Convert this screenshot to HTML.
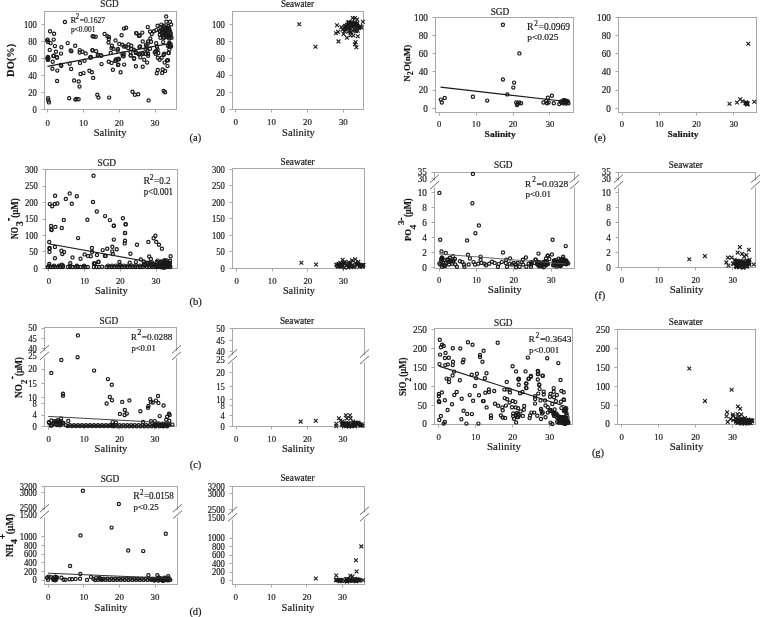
<!DOCTYPE html>
<html><head><meta charset="utf-8"><style>
html,body{margin:0;padding:0;background:#fff;}
svg{display:block;font-family:"Liberation Serif",serif;will-change:transform;}
text{stroke:#222;stroke-width:0.18px;}
</style></head><body>
<svg width="760" height="617" viewBox="0 0 760 617">
<rect width="760" height="617" fill="#fff"/>
<rect x="44.50" y="11.50" width="132.00" height="98.00" fill="none" stroke="#a8a8a8" stroke-width="1"/>
<line x1="41.50" y1="109.50" x2="44.50" y2="109.50" stroke="#a8a8a8" stroke-width="1"/>
<text transform="translate(36.90,112.81) scale(0.9,1)" font-size="9.6" text-anchor="end" fill="#111">0</text>
<line x1="41.50" y1="92.50" x2="44.50" y2="92.50" stroke="#a8a8a8" stroke-width="1"/>
<text transform="translate(36.90,95.81) scale(0.9,1)" font-size="9.6" text-anchor="end" fill="#111">20</text>
<line x1="41.50" y1="75.50" x2="44.50" y2="75.50" stroke="#a8a8a8" stroke-width="1"/>
<text transform="translate(36.90,78.81) scale(0.9,1)" font-size="9.6" text-anchor="end" fill="#111">40</text>
<line x1="41.50" y1="58.50" x2="44.50" y2="58.50" stroke="#a8a8a8" stroke-width="1"/>
<text transform="translate(36.90,61.71) scale(0.9,1)" font-size="9.6" text-anchor="end" fill="#111">60</text>
<line x1="41.50" y1="41.50" x2="44.50" y2="41.50" stroke="#a8a8a8" stroke-width="1"/>
<text transform="translate(36.90,44.71) scale(0.9,1)" font-size="9.6" text-anchor="end" fill="#111">80</text>
<line x1="41.50" y1="24.50" x2="44.50" y2="24.50" stroke="#a8a8a8" stroke-width="1"/>
<text transform="translate(36.90,27.71) scale(0.9,1)" font-size="9.6" text-anchor="end" fill="#111">100</text>
<line x1="47.50" y1="109.50" x2="47.50" y2="112.50" stroke="#a8a8a8" stroke-width="1"/>
<text transform="translate(47.60,125.50) scale(0.98,1)" font-size="9.0" text-anchor="middle" fill="#111">0</text>
<line x1="83.50" y1="109.50" x2="83.50" y2="112.50" stroke="#a8a8a8" stroke-width="1"/>
<text transform="translate(83.40,125.50) scale(0.98,1)" font-size="9.0" text-anchor="middle" fill="#111">10</text>
<line x1="119.50" y1="109.50" x2="119.50" y2="112.50" stroke="#a8a8a8" stroke-width="1"/>
<text transform="translate(119.20,125.50) scale(0.98,1)" font-size="9.0" text-anchor="middle" fill="#111">20</text>
<line x1="155.50" y1="109.50" x2="155.50" y2="112.50" stroke="#a8a8a8" stroke-width="1"/>
<text transform="translate(155.00,125.50) scale(0.98,1)" font-size="9.0" text-anchor="middle" fill="#111">30</text>
<text x="109.50" y="6.50" font-size="9.3" text-anchor="middle" textLength="18.4" lengthAdjust="spacingAndGlyphs" fill="#111">SGD</text>
<text x="110.10" y="135.80" font-size="11.0" text-anchor="middle" textLength="32.8" lengthAdjust="spacingAndGlyphs" fill="#111">Salinity</text>
<rect x="232.50" y="11.50" width="131.00" height="98.00" fill="none" stroke="#a8a8a8" stroke-width="1"/>
<line x1="229.50" y1="109.50" x2="232.50" y2="109.50" stroke="#a8a8a8" stroke-width="1"/>
<text transform="translate(224.90,112.61) scale(0.9,1)" font-size="9.6" text-anchor="end" fill="#111">0</text>
<line x1="229.50" y1="92.50" x2="232.50" y2="92.50" stroke="#a8a8a8" stroke-width="1"/>
<text transform="translate(224.90,95.51) scale(0.9,1)" font-size="9.6" text-anchor="end" fill="#111">20</text>
<line x1="229.50" y1="75.50" x2="232.50" y2="75.50" stroke="#a8a8a8" stroke-width="1"/>
<text transform="translate(224.90,78.41) scale(0.9,1)" font-size="9.6" text-anchor="end" fill="#111">40</text>
<line x1="229.50" y1="58.50" x2="232.50" y2="58.50" stroke="#a8a8a8" stroke-width="1"/>
<text transform="translate(224.90,61.51) scale(0.9,1)" font-size="9.6" text-anchor="end" fill="#111">60</text>
<line x1="229.50" y1="41.50" x2="232.50" y2="41.50" stroke="#a8a8a8" stroke-width="1"/>
<text transform="translate(224.90,44.61) scale(0.9,1)" font-size="9.6" text-anchor="end" fill="#111">80</text>
<line x1="229.50" y1="24.50" x2="232.50" y2="24.50" stroke="#a8a8a8" stroke-width="1"/>
<text transform="translate(224.90,27.61) scale(0.9,1)" font-size="9.6" text-anchor="end" fill="#111">100</text>
<line x1="235.50" y1="109.50" x2="235.50" y2="112.50" stroke="#a8a8a8" stroke-width="1"/>
<text transform="translate(235.60,125.40) scale(0.98,1)" font-size="9.0" text-anchor="middle" fill="#111">0</text>
<line x1="271.50" y1="109.50" x2="271.50" y2="112.50" stroke="#a8a8a8" stroke-width="1"/>
<text transform="translate(271.50,125.40) scale(0.98,1)" font-size="9.0" text-anchor="middle" fill="#111">10</text>
<line x1="307.50" y1="109.50" x2="307.50" y2="112.50" stroke="#a8a8a8" stroke-width="1"/>
<text transform="translate(307.40,125.40) scale(0.98,1)" font-size="9.0" text-anchor="middle" fill="#111">20</text>
<line x1="343.50" y1="109.50" x2="343.50" y2="112.50" stroke="#a8a8a8" stroke-width="1"/>
<text transform="translate(343.30,125.40) scale(0.98,1)" font-size="9.0" text-anchor="middle" fill="#111">30</text>
<text x="297.50" y="6.80" font-size="9.3" text-anchor="middle" textLength="33.2" lengthAdjust="spacingAndGlyphs" fill="#111">Seawater</text>
<text x="298.50" y="135.70" font-size="11.0" text-anchor="middle" textLength="32.8" lengthAdjust="spacingAndGlyphs" fill="#111">Salinity</text>
<rect x="45.50" y="169.50" width="132.00" height="99.00" fill="none" stroke="#a8a8a8" stroke-width="1"/>
<line x1="42.50" y1="169.50" x2="45.50" y2="169.50" stroke="#a8a8a8" stroke-width="1"/>
<text transform="translate(37.90,172.81) scale(0.9,1)" font-size="9.6" text-anchor="end" fill="#111">300</text>
<line x1="42.50" y1="186.50" x2="45.50" y2="186.50" stroke="#a8a8a8" stroke-width="1"/>
<text transform="translate(37.90,189.31) scale(0.9,1)" font-size="9.6" text-anchor="end" fill="#111">250</text>
<line x1="42.50" y1="202.50" x2="45.50" y2="202.50" stroke="#a8a8a8" stroke-width="1"/>
<text transform="translate(37.90,205.81) scale(0.9,1)" font-size="9.6" text-anchor="end" fill="#111">200</text>
<line x1="42.50" y1="219.50" x2="45.50" y2="219.50" stroke="#a8a8a8" stroke-width="1"/>
<text transform="translate(37.90,222.31) scale(0.9,1)" font-size="9.6" text-anchor="end" fill="#111">150</text>
<line x1="42.50" y1="235.50" x2="45.50" y2="235.50" stroke="#a8a8a8" stroke-width="1"/>
<text transform="translate(37.90,238.71) scale(0.9,1)" font-size="9.6" text-anchor="end" fill="#111">100</text>
<line x1="42.50" y1="251.50" x2="45.50" y2="251.50" stroke="#a8a8a8" stroke-width="1"/>
<text transform="translate(37.90,255.21) scale(0.9,1)" font-size="9.6" text-anchor="end" fill="#111">50</text>
<line x1="42.50" y1="268.50" x2="45.50" y2="268.50" stroke="#a8a8a8" stroke-width="1"/>
<text transform="translate(37.90,271.71) scale(0.9,1)" font-size="9.6" text-anchor="end" fill="#111">0</text>
<line x1="48.50" y1="268.50" x2="48.50" y2="271.50" stroke="#a8a8a8" stroke-width="1"/>
<text transform="translate(48.90,283.70) scale(0.98,1)" font-size="9.0" text-anchor="middle" fill="#111">0</text>
<line x1="84.50" y1="268.50" x2="84.50" y2="271.50" stroke="#a8a8a8" stroke-width="1"/>
<text transform="translate(84.60,283.70) scale(0.98,1)" font-size="9.0" text-anchor="middle" fill="#111">10</text>
<line x1="120.50" y1="268.50" x2="120.50" y2="271.50" stroke="#a8a8a8" stroke-width="1"/>
<text transform="translate(120.30,283.70) scale(0.98,1)" font-size="9.0" text-anchor="middle" fill="#111">20</text>
<line x1="156.50" y1="268.50" x2="156.50" y2="271.50" stroke="#a8a8a8" stroke-width="1"/>
<text transform="translate(156.00,283.70) scale(0.98,1)" font-size="9.0" text-anchor="middle" fill="#111">30</text>
<text x="106.80" y="165.60" font-size="9.3" text-anchor="middle" fill="#111">SGD</text>
<text x="111.40" y="293.50" font-size="10.6" text-anchor="middle" textLength="32.8" lengthAdjust="spacingAndGlyphs" fill="#111">Salinity</text>
<rect x="232.50" y="168.50" width="132.00" height="100.00" fill="none" stroke="#a8a8a8" stroke-width="1"/>
<line x1="229.50" y1="169.50" x2="232.50" y2="169.50" stroke="#a8a8a8" stroke-width="1"/>
<text transform="translate(224.90,172.61) scale(0.9,1)" font-size="9.6" text-anchor="end" fill="#111">300</text>
<line x1="229.50" y1="185.50" x2="232.50" y2="185.50" stroke="#a8a8a8" stroke-width="1"/>
<text transform="translate(224.90,189.11) scale(0.9,1)" font-size="9.6" text-anchor="end" fill="#111">250</text>
<line x1="229.50" y1="202.50" x2="232.50" y2="202.50" stroke="#a8a8a8" stroke-width="1"/>
<text transform="translate(224.90,205.61) scale(0.9,1)" font-size="9.6" text-anchor="end" fill="#111">200</text>
<line x1="229.50" y1="218.50" x2="232.50" y2="218.50" stroke="#a8a8a8" stroke-width="1"/>
<text transform="translate(224.90,222.11) scale(0.9,1)" font-size="9.6" text-anchor="end" fill="#111">150</text>
<line x1="229.50" y1="235.50" x2="232.50" y2="235.50" stroke="#a8a8a8" stroke-width="1"/>
<text transform="translate(224.90,238.51) scale(0.9,1)" font-size="9.6" text-anchor="end" fill="#111">100</text>
<line x1="229.50" y1="251.50" x2="232.50" y2="251.50" stroke="#a8a8a8" stroke-width="1"/>
<text transform="translate(224.90,255.01) scale(0.9,1)" font-size="9.6" text-anchor="end" fill="#111">50</text>
<line x1="229.50" y1="268.50" x2="232.50" y2="268.50" stroke="#a8a8a8" stroke-width="1"/>
<text transform="translate(224.90,271.51) scale(0.9,1)" font-size="9.6" text-anchor="end" fill="#111">0</text>
<line x1="236.50" y1="268.50" x2="236.50" y2="271.50" stroke="#a8a8a8" stroke-width="1"/>
<text transform="translate(236.70,283.60) scale(0.98,1)" font-size="9.0" text-anchor="middle" fill="#111">0</text>
<line x1="272.50" y1="268.50" x2="272.50" y2="271.50" stroke="#a8a8a8" stroke-width="1"/>
<text transform="translate(272.27,283.60) scale(0.98,1)" font-size="9.0" text-anchor="middle" fill="#111">10</text>
<line x1="307.50" y1="268.50" x2="307.50" y2="271.50" stroke="#a8a8a8" stroke-width="1"/>
<text transform="translate(307.84,283.60) scale(0.98,1)" font-size="9.0" text-anchor="middle" fill="#111">20</text>
<line x1="343.50" y1="268.50" x2="343.50" y2="271.50" stroke="#a8a8a8" stroke-width="1"/>
<text transform="translate(343.41,283.60) scale(0.98,1)" font-size="9.0" text-anchor="middle" fill="#111">30</text>
<text x="297.60" y="164.80" font-size="9.3" text-anchor="middle" fill="#111">Seawater</text>
<text x="298.90" y="293.70" font-size="10.6" text-anchor="middle" textLength="32.0" lengthAdjust="spacingAndGlyphs" fill="#111">Salinity</text>
<rect x="44.50" y="327.50" width="132.00" height="99.00" fill="none" stroke="#a8a8a8" stroke-width="1"/>
<line x1="41.50" y1="328.50" x2="44.50" y2="328.50" stroke="#a8a8a8" stroke-width="1"/>
<text transform="translate(36.90,331.41) scale(0.9,1)" font-size="9.6" text-anchor="end" fill="#111">50</text>
<line x1="41.50" y1="338.50" x2="44.50" y2="338.50" stroke="#a8a8a8" stroke-width="1"/>
<text transform="translate(36.90,341.81) scale(0.9,1)" font-size="9.6" text-anchor="end" fill="#111">45</text>
<line x1="41.50" y1="348.50" x2="44.50" y2="348.50" stroke="#a8a8a8" stroke-width="1"/>
<text transform="translate(36.90,351.91) scale(0.9,1)" font-size="9.6" text-anchor="end" fill="#111">40</text>
<line x1="41.50" y1="355.50" x2="44.50" y2="355.50" stroke="#a8a8a8" stroke-width="1"/>
<text transform="translate(36.90,358.91) scale(0.9,1)" font-size="9.6" text-anchor="end" fill="#111">25</text>
<line x1="41.50" y1="369.50" x2="44.50" y2="369.50" stroke="#a8a8a8" stroke-width="1"/>
<text transform="translate(36.90,372.41) scale(0.9,1)" font-size="9.6" text-anchor="end" fill="#111">20</text>
<line x1="41.50" y1="383.50" x2="44.50" y2="383.50" stroke="#a8a8a8" stroke-width="1"/>
<text transform="translate(36.90,387.21) scale(0.9,1)" font-size="9.6" text-anchor="end" fill="#111">15</text>
<line x1="41.50" y1="397.50" x2="44.50" y2="397.50" stroke="#a8a8a8" stroke-width="1"/>
<text transform="translate(36.90,400.91) scale(0.9,1)" font-size="9.6" text-anchor="end" fill="#111">10</text>
<line x1="41.50" y1="403.50" x2="44.50" y2="403.50" stroke="#a8a8a8" stroke-width="1"/>
<text transform="translate(36.90,406.61) scale(0.9,1)" font-size="9.6" text-anchor="end" fill="#111">8</text>
<line x1="41.50" y1="415.50" x2="44.50" y2="415.50" stroke="#a8a8a8" stroke-width="1"/>
<text transform="translate(36.90,418.31) scale(0.9,1)" font-size="9.6" text-anchor="end" fill="#111">4</text>
<line x1="41.50" y1="426.50" x2="44.50" y2="426.50" stroke="#a8a8a8" stroke-width="1"/>
<text transform="translate(36.90,429.91) scale(0.9,1)" font-size="9.6" text-anchor="end" fill="#111">0</text>
<line x1="48.50" y1="426.50" x2="48.50" y2="429.50" stroke="#a8a8a8" stroke-width="1"/>
<text transform="translate(48.70,442.00) scale(0.98,1)" font-size="9.0" text-anchor="middle" fill="#111">0</text>
<line x1="84.50" y1="426.50" x2="84.50" y2="429.50" stroke="#a8a8a8" stroke-width="1"/>
<text transform="translate(84.13,442.00) scale(0.98,1)" font-size="9.0" text-anchor="middle" fill="#111">10</text>
<line x1="119.50" y1="426.50" x2="119.50" y2="429.50" stroke="#a8a8a8" stroke-width="1"/>
<text transform="translate(119.56,442.00) scale(0.98,1)" font-size="9.0" text-anchor="middle" fill="#111">20</text>
<line x1="154.50" y1="426.50" x2="154.50" y2="429.50" stroke="#a8a8a8" stroke-width="1"/>
<text transform="translate(154.99,442.00) scale(0.98,1)" font-size="9.0" text-anchor="middle" fill="#111">30</text>
<polygon points="40.5,354.8 48.5,347.3 48.5,354.3 40.5,361.8" fill="#fff"/>
<line x1="40.00" y1="353.30" x2="49.00" y2="345.30" stroke="#444" stroke-width="0.8"/>
<line x1="40.00" y1="359.80" x2="49.00" y2="351.80" stroke="#444" stroke-width="0.8"/>
<polygon points="172.5,354.8 180.5,347.3 180.5,354.3 172.5,361.8" fill="#fff"/>
<line x1="172.00" y1="353.30" x2="181.00" y2="345.30" stroke="#444" stroke-width="0.8"/>
<line x1="172.00" y1="359.80" x2="181.00" y2="351.80" stroke="#444" stroke-width="0.8"/>
<text x="108.90" y="324.00" font-size="9.3" text-anchor="middle" fill="#111">SGD</text>
<text x="111.00" y="452.10" font-size="10.6" text-anchor="middle" textLength="32.8" lengthAdjust="spacingAndGlyphs" fill="#111">Salinity</text>
<rect x="232.50" y="328.50" width="132.00" height="98.00" fill="none" stroke="#a8a8a8" stroke-width="1"/>
<line x1="229.50" y1="328.50" x2="232.50" y2="328.50" stroke="#a8a8a8" stroke-width="1"/>
<text transform="translate(224.90,332.01) scale(0.9,1)" font-size="9.6" text-anchor="end" fill="#111">50</text>
<line x1="229.50" y1="340.50" x2="232.50" y2="340.50" stroke="#a8a8a8" stroke-width="1"/>
<text transform="translate(224.90,343.61) scale(0.9,1)" font-size="9.6" text-anchor="end" fill="#111">45</text>
<line x1="229.50" y1="351.50" x2="232.50" y2="351.50" stroke="#a8a8a8" stroke-width="1"/>
<text transform="translate(224.90,354.81) scale(0.9,1)" font-size="9.6" text-anchor="end" fill="#111">40</text>
<line x1="229.50" y1="359.50" x2="232.50" y2="359.50" stroke="#a8a8a8" stroke-width="1"/>
<text transform="translate(224.90,362.51) scale(0.9,1)" font-size="9.6" text-anchor="end" fill="#111">25</text>
<line x1="229.50" y1="372.50" x2="232.50" y2="372.50" stroke="#a8a8a8" stroke-width="1"/>
<text transform="translate(224.90,375.81) scale(0.9,1)" font-size="9.6" text-anchor="end" fill="#111">20</text>
<line x1="229.50" y1="386.50" x2="232.50" y2="386.50" stroke="#a8a8a8" stroke-width="1"/>
<text transform="translate(224.90,389.81) scale(0.9,1)" font-size="9.6" text-anchor="end" fill="#111">15</text>
<line x1="229.50" y1="399.50" x2="232.50" y2="399.50" stroke="#a8a8a8" stroke-width="1"/>
<text transform="translate(224.90,402.71) scale(0.9,1)" font-size="9.6" text-anchor="end" fill="#111">10</text>
<line x1="229.50" y1="405.50" x2="232.50" y2="405.50" stroke="#a8a8a8" stroke-width="1"/>
<text transform="translate(224.90,408.71) scale(0.9,1)" font-size="9.6" text-anchor="end" fill="#111">8</text>
<line x1="229.50" y1="415.50" x2="232.50" y2="415.50" stroke="#a8a8a8" stroke-width="1"/>
<text transform="translate(224.90,419.11) scale(0.9,1)" font-size="9.6" text-anchor="end" fill="#111">4</text>
<line x1="229.50" y1="426.50" x2="232.50" y2="426.50" stroke="#a8a8a8" stroke-width="1"/>
<text transform="translate(224.90,430.21) scale(0.9,1)" font-size="9.6" text-anchor="end" fill="#111">0</text>
<line x1="236.50" y1="426.50" x2="236.50" y2="429.50" stroke="#a8a8a8" stroke-width="1"/>
<text transform="translate(236.10,442.00) scale(0.98,1)" font-size="9.0" text-anchor="middle" fill="#111">0</text>
<line x1="271.50" y1="426.50" x2="271.50" y2="429.50" stroke="#a8a8a8" stroke-width="1"/>
<text transform="translate(271.70,442.00) scale(0.98,1)" font-size="9.0" text-anchor="middle" fill="#111">10</text>
<line x1="307.50" y1="426.50" x2="307.50" y2="429.50" stroke="#a8a8a8" stroke-width="1"/>
<text transform="translate(307.30,442.00) scale(0.98,1)" font-size="9.0" text-anchor="middle" fill="#111">20</text>
<line x1="342.50" y1="426.50" x2="342.50" y2="429.50" stroke="#a8a8a8" stroke-width="1"/>
<text transform="translate(342.90,442.00) scale(0.98,1)" font-size="9.0" text-anchor="middle" fill="#111">30</text>
<polygon points="228.5,359 236.5,351.5 236.5,358.5 228.5,366" fill="#fff"/>
<line x1="228.00" y1="357.50" x2="237.00" y2="349.50" stroke="#444" stroke-width="0.8"/>
<line x1="228.00" y1="364.00" x2="237.00" y2="356.00" stroke="#444" stroke-width="0.8"/>
<polygon points="360.5,359 368.5,351.5 368.5,358.5 360.5,366" fill="#fff"/>
<line x1="360.00" y1="357.50" x2="369.00" y2="349.50" stroke="#444" stroke-width="0.8"/>
<line x1="360.00" y1="364.00" x2="369.00" y2="356.00" stroke="#444" stroke-width="0.8"/>
<text x="297.00" y="324.00" font-size="9.3" text-anchor="middle" fill="#111">Seawater</text>
<text x="298.30" y="452.10" font-size="10.6" text-anchor="middle" textLength="32.8" lengthAdjust="spacingAndGlyphs" fill="#111">Salinity</text>
<rect x="44.50" y="486.50" width="133.00" height="98.00" fill="none" stroke="#a8a8a8" stroke-width="1"/>
<line x1="41.50" y1="486.50" x2="44.50" y2="486.50" stroke="#a8a8a8" stroke-width="1"/>
<text transform="translate(36.90,489.56) scale(0.9,1)" font-size="9.6" text-anchor="end" fill="#111">3200</text>
<line x1="41.50" y1="492.50" x2="44.50" y2="492.50" stroke="#a8a8a8" stroke-width="1"/>
<text transform="translate(36.90,495.81) scale(0.9,1)" font-size="9.6" text-anchor="end" fill="#111">3000</text>
<line x1="41.50" y1="508.50" x2="44.50" y2="508.50" stroke="#a8a8a8" stroke-width="1"/>
<text transform="translate(36.90,511.31) scale(0.9,1)" font-size="9.6" text-anchor="end" fill="#111">2500</text>
<line x1="41.50" y1="515.50" x2="44.50" y2="515.50" stroke="#a8a8a8" stroke-width="1"/>
<text transform="translate(36.90,518.31) scale(0.9,1)" font-size="9.6" text-anchor="end" fill="#111">1500</text>
<line x1="41.50" y1="536.50" x2="44.50" y2="536.50" stroke="#a8a8a8" stroke-width="1"/>
<text transform="translate(36.90,540.06) scale(0.9,1)" font-size="9.6" text-anchor="end" fill="#111">1000</text>
<line x1="41.50" y1="545.50" x2="44.50" y2="545.50" stroke="#a8a8a8" stroke-width="1"/>
<text transform="translate(36.90,548.81) scale(0.9,1)" font-size="9.6" text-anchor="end" fill="#111">800</text>
<line x1="41.50" y1="554.50" x2="44.50" y2="554.50" stroke="#a8a8a8" stroke-width="1"/>
<text transform="translate(36.90,557.31) scale(0.9,1)" font-size="9.6" text-anchor="end" fill="#111">600</text>
<line x1="41.50" y1="562.50" x2="44.50" y2="562.50" stroke="#a8a8a8" stroke-width="1"/>
<text transform="translate(36.90,566.06) scale(0.9,1)" font-size="9.6" text-anchor="end" fill="#111">400</text>
<line x1="41.50" y1="571.50" x2="44.50" y2="571.50" stroke="#a8a8a8" stroke-width="1"/>
<text transform="translate(36.90,574.56) scale(0.9,1)" font-size="9.6" text-anchor="end" fill="#111">200</text>
<line x1="41.50" y1="580.50" x2="44.50" y2="580.50" stroke="#a8a8a8" stroke-width="1"/>
<text transform="translate(36.90,583.31) scale(0.9,1)" font-size="9.6" text-anchor="end" fill="#111">0</text>
<line x1="48.50" y1="584.50" x2="48.50" y2="587.50" stroke="#a8a8a8" stroke-width="1"/>
<text transform="translate(48.25,600.40) scale(0.98,1)" font-size="9.1" text-anchor="middle" fill="#111">0</text>
<line x1="83.50" y1="584.50" x2="83.50" y2="587.50" stroke="#a8a8a8" stroke-width="1"/>
<text transform="translate(83.85,600.40) scale(0.98,1)" font-size="9.1" text-anchor="middle" fill="#111">10</text>
<line x1="119.50" y1="584.50" x2="119.50" y2="587.50" stroke="#a8a8a8" stroke-width="1"/>
<text transform="translate(119.45,600.40) scale(0.98,1)" font-size="9.1" text-anchor="middle" fill="#111">20</text>
<line x1="155.50" y1="584.50" x2="155.50" y2="587.50" stroke="#a8a8a8" stroke-width="1"/>
<text transform="translate(155.05,600.40) scale(0.98,1)" font-size="9.1" text-anchor="middle" fill="#111">30</text>
<polygon points="40.5,513.7 48.5,506.2 48.5,513.2 40.5,520.7" fill="#fff"/>
<line x1="40.00" y1="512.20" x2="49.00" y2="504.20" stroke="#444" stroke-width="0.8"/>
<line x1="40.00" y1="518.70" x2="49.00" y2="510.70" stroke="#444" stroke-width="0.8"/>
<polygon points="173.5,513.7 181.5,506.2 181.5,513.2 173.5,520.7" fill="#fff"/>
<line x1="173.00" y1="512.20" x2="182.00" y2="504.20" stroke="#444" stroke-width="0.8"/>
<line x1="173.00" y1="518.70" x2="182.00" y2="510.70" stroke="#444" stroke-width="0.8"/>
<text x="110.00" y="481.90" font-size="9.3" text-anchor="middle" fill="#111">SGD</text>
<text x="111.00" y="610.50" font-size="10.8" text-anchor="middle" textLength="32.8" lengthAdjust="spacingAndGlyphs" fill="#111">Salinity</text>
<rect x="232.50" y="486.50" width="132.00" height="98.00" fill="none" stroke="#a8a8a8" stroke-width="1"/>
<line x1="229.50" y1="486.50" x2="232.50" y2="486.50" stroke="#a8a8a8" stroke-width="1"/>
<text transform="translate(224.90,489.56) scale(0.9,1)" font-size="9.6" text-anchor="end" fill="#111">3200</text>
<line x1="229.50" y1="493.50" x2="232.50" y2="493.50" stroke="#a8a8a8" stroke-width="1"/>
<text transform="translate(224.90,497.06) scale(0.9,1)" font-size="9.6" text-anchor="end" fill="#111">3000</text>
<line x1="229.50" y1="509.50" x2="232.50" y2="509.50" stroke="#a8a8a8" stroke-width="1"/>
<text transform="translate(224.90,512.81) scale(0.9,1)" font-size="9.6" text-anchor="end" fill="#111">2500</text>
<line x1="229.50" y1="517.50" x2="232.50" y2="517.50" stroke="#a8a8a8" stroke-width="1"/>
<text transform="translate(224.90,520.81) scale(0.9,1)" font-size="9.6" text-anchor="end" fill="#111">1500</text>
<line x1="229.50" y1="538.50" x2="232.50" y2="538.50" stroke="#a8a8a8" stroke-width="1"/>
<text transform="translate(224.90,541.31) scale(0.9,1)" font-size="9.6" text-anchor="end" fill="#111">1000</text>
<line x1="229.50" y1="546.50" x2="232.50" y2="546.50" stroke="#a8a8a8" stroke-width="1"/>
<text transform="translate(224.90,549.81) scale(0.9,1)" font-size="9.6" text-anchor="end" fill="#111">800</text>
<line x1="229.50" y1="555.50" x2="232.50" y2="555.50" stroke="#a8a8a8" stroke-width="1"/>
<text transform="translate(224.90,558.31) scale(0.9,1)" font-size="9.6" text-anchor="end" fill="#111">600</text>
<line x1="229.50" y1="563.50" x2="232.50" y2="563.50" stroke="#a8a8a8" stroke-width="1"/>
<text transform="translate(224.90,566.81) scale(0.9,1)" font-size="9.6" text-anchor="end" fill="#111">400</text>
<line x1="229.50" y1="572.50" x2="232.50" y2="572.50" stroke="#a8a8a8" stroke-width="1"/>
<text transform="translate(224.90,575.31) scale(0.9,1)" font-size="9.6" text-anchor="end" fill="#111">200</text>
<line x1="229.50" y1="580.50" x2="232.50" y2="580.50" stroke="#a8a8a8" stroke-width="1"/>
<text transform="translate(224.90,583.81) scale(0.9,1)" font-size="9.6" text-anchor="end" fill="#111">0</text>
<line x1="235.50" y1="584.50" x2="235.50" y2="587.50" stroke="#a8a8a8" stroke-width="1"/>
<text transform="translate(235.75,600.40) scale(0.98,1)" font-size="9.1" text-anchor="middle" fill="#111">0</text>
<line x1="271.50" y1="584.50" x2="271.50" y2="587.50" stroke="#a8a8a8" stroke-width="1"/>
<text transform="translate(271.35,600.40) scale(0.98,1)" font-size="9.1" text-anchor="middle" fill="#111">10</text>
<line x1="306.50" y1="584.50" x2="306.50" y2="587.50" stroke="#a8a8a8" stroke-width="1"/>
<text transform="translate(306.95,600.40) scale(0.98,1)" font-size="9.1" text-anchor="middle" fill="#111">20</text>
<line x1="342.50" y1="584.50" x2="342.50" y2="587.50" stroke="#a8a8a8" stroke-width="1"/>
<text transform="translate(342.55,600.40) scale(0.98,1)" font-size="9.1" text-anchor="middle" fill="#111">30</text>
<polygon points="228.5,516.3 236.5,508.79999999999995 236.5,515.8 228.5,523.3" fill="#fff"/>
<line x1="228.00" y1="514.80" x2="237.00" y2="506.80" stroke="#444" stroke-width="0.8"/>
<line x1="228.00" y1="521.30" x2="237.00" y2="513.30" stroke="#444" stroke-width="0.8"/>
<polygon points="360.5,516.3 368.5,508.79999999999995 368.5,515.8 360.5,523.3" fill="#fff"/>
<line x1="360.00" y1="514.80" x2="369.00" y2="506.80" stroke="#444" stroke-width="0.8"/>
<line x1="360.00" y1="521.30" x2="369.00" y2="513.30" stroke="#444" stroke-width="0.8"/>
<text x="297.50" y="481.40" font-size="9.3" text-anchor="middle" fill="#111">Seawater</text>
<text x="298.00" y="610.80" font-size="10.8" text-anchor="middle" textLength="32.8" lengthAdjust="spacingAndGlyphs" fill="#111">Salinity</text>
<rect x="435.50" y="17.50" width="138.00" height="95.00" fill="none" stroke="#a8a8a8" stroke-width="1"/>
<line x1="432.50" y1="108.50" x2="435.50" y2="108.50" stroke="#a8a8a8" stroke-width="1"/>
<text transform="translate(427.90,111.56) scale(0.96,1)" font-size="9.6" text-anchor="end" fill="#111">0</text>
<line x1="432.50" y1="90.50" x2="435.50" y2="90.50" stroke="#a8a8a8" stroke-width="1"/>
<text transform="translate(427.90,93.31) scale(0.96,1)" font-size="9.6" text-anchor="end" fill="#111">20</text>
<line x1="432.50" y1="71.50" x2="435.50" y2="71.50" stroke="#a8a8a8" stroke-width="1"/>
<text transform="translate(427.90,75.06) scale(0.96,1)" font-size="9.6" text-anchor="end" fill="#111">40</text>
<line x1="432.50" y1="53.50" x2="435.50" y2="53.50" stroke="#a8a8a8" stroke-width="1"/>
<text transform="translate(427.90,56.81) scale(0.96,1)" font-size="9.6" text-anchor="end" fill="#111">60</text>
<line x1="432.50" y1="35.50" x2="435.50" y2="35.50" stroke="#a8a8a8" stroke-width="1"/>
<text transform="translate(427.90,39.06) scale(0.96,1)" font-size="9.6" text-anchor="end" fill="#111">80</text>
<line x1="432.50" y1="17.50" x2="435.50" y2="17.50" stroke="#a8a8a8" stroke-width="1"/>
<text transform="translate(427.90,20.81) scale(0.96,1)" font-size="9.6" text-anchor="end" fill="#111">100</text>
<line x1="439.50" y1="112.50" x2="439.50" y2="115.50" stroke="#a8a8a8" stroke-width="1"/>
<text transform="translate(439.25,126.70) scale(0.98,1)" font-size="8.8" text-anchor="middle" fill="#111">0</text>
<line x1="476.50" y1="112.50" x2="476.50" y2="115.50" stroke="#a8a8a8" stroke-width="1"/>
<text transform="translate(476.15,126.70) scale(0.98,1)" font-size="8.8" text-anchor="middle" fill="#111">10</text>
<line x1="513.50" y1="112.50" x2="513.50" y2="115.50" stroke="#a8a8a8" stroke-width="1"/>
<text transform="translate(513.05,126.70) scale(0.98,1)" font-size="8.8" text-anchor="middle" fill="#111">20</text>
<line x1="549.50" y1="112.50" x2="549.50" y2="115.50" stroke="#a8a8a8" stroke-width="1"/>
<text transform="translate(549.95,126.70) scale(0.98,1)" font-size="8.8" text-anchor="middle" fill="#111">30</text>
<text x="500.00" y="14.90" font-size="9.3" text-anchor="middle" fill="#111">SGD</text>
<text x="500.20" y="136.50" font-size="9.2" text-anchor="middle" font-weight="bold" textLength="31.2" lengthAdjust="spacingAndGlyphs" fill="#111">Salinity</text>
<rect x="618.50" y="17.50" width="138.00" height="95.00" fill="none" stroke="#a8a8a8" stroke-width="1"/>
<line x1="615.50" y1="108.50" x2="618.50" y2="108.50" stroke="#a8a8a8" stroke-width="1"/>
<text transform="translate(610.90,111.56) scale(0.96,1)" font-size="9.6" text-anchor="end" fill="#111">0</text>
<line x1="615.50" y1="90.50" x2="618.50" y2="90.50" stroke="#a8a8a8" stroke-width="1"/>
<text transform="translate(610.90,93.31) scale(0.96,1)" font-size="9.6" text-anchor="end" fill="#111">20</text>
<line x1="615.50" y1="71.50" x2="618.50" y2="71.50" stroke="#a8a8a8" stroke-width="1"/>
<text transform="translate(610.90,75.06) scale(0.96,1)" font-size="9.6" text-anchor="end" fill="#111">40</text>
<line x1="615.50" y1="53.50" x2="618.50" y2="53.50" stroke="#a8a8a8" stroke-width="1"/>
<text transform="translate(610.90,56.81) scale(0.96,1)" font-size="9.6" text-anchor="end" fill="#111">60</text>
<line x1="615.50" y1="35.50" x2="618.50" y2="35.50" stroke="#a8a8a8" stroke-width="1"/>
<text transform="translate(610.90,39.06) scale(0.96,1)" font-size="9.6" text-anchor="end" fill="#111">80</text>
<line x1="615.50" y1="17.50" x2="618.50" y2="17.50" stroke="#a8a8a8" stroke-width="1"/>
<text transform="translate(610.90,20.81) scale(0.96,1)" font-size="9.6" text-anchor="end" fill="#111">100</text>
<line x1="622.50" y1="112.50" x2="622.50" y2="115.50" stroke="#a8a8a8" stroke-width="1"/>
<text transform="translate(622.00,126.70) scale(0.98,1)" font-size="8.8" text-anchor="middle" fill="#111">0</text>
<line x1="659.50" y1="112.50" x2="659.50" y2="115.50" stroke="#a8a8a8" stroke-width="1"/>
<text transform="translate(659.24,126.70) scale(0.98,1)" font-size="8.8" text-anchor="middle" fill="#111">10</text>
<line x1="696.50" y1="112.50" x2="696.50" y2="115.50" stroke="#a8a8a8" stroke-width="1"/>
<text transform="translate(696.48,126.70) scale(0.98,1)" font-size="8.8" text-anchor="middle" fill="#111">20</text>
<line x1="733.50" y1="112.50" x2="733.50" y2="115.50" stroke="#a8a8a8" stroke-width="1"/>
<text transform="translate(733.72,126.70) scale(0.98,1)" font-size="8.8" text-anchor="middle" fill="#111">30</text>
<text x="683.00" y="136.50" font-size="9.2" text-anchor="middle" font-weight="bold" textLength="31.2" lengthAdjust="spacingAndGlyphs" fill="#111">Salinity</text>
<rect x="434.50" y="172.50" width="140.00" height="96.00" fill="none" stroke="#a8a8a8" stroke-width="1"/>
<line x1="431.50" y1="172.50" x2="434.50" y2="172.50" stroke="#a8a8a8" stroke-width="1"/>
<text transform="translate(426.90,175.31) scale(0.96,1)" font-size="9.6" text-anchor="end" fill="#111">35</text>
<line x1="431.50" y1="178.50" x2="434.50" y2="178.50" stroke="#a8a8a8" stroke-width="1"/>
<text transform="translate(426.90,181.51) scale(0.96,1)" font-size="9.6" text-anchor="end" fill="#111">30</text>
<line x1="431.50" y1="192.50" x2="434.50" y2="192.50" stroke="#a8a8a8" stroke-width="1"/>
<text transform="translate(426.90,196.11) scale(0.96,1)" font-size="9.6" text-anchor="end" fill="#111">10</text>
<line x1="431.50" y1="207.50" x2="434.50" y2="207.50" stroke="#a8a8a8" stroke-width="1"/>
<text transform="translate(426.90,210.81) scale(0.96,1)" font-size="9.6" text-anchor="end" fill="#111">8</text>
<line x1="431.50" y1="222.50" x2="434.50" y2="222.50" stroke="#a8a8a8" stroke-width="1"/>
<text transform="translate(426.90,225.91) scale(0.96,1)" font-size="9.6" text-anchor="end" fill="#111">6</text>
<line x1="431.50" y1="237.50" x2="434.50" y2="237.50" stroke="#a8a8a8" stroke-width="1"/>
<text transform="translate(426.90,240.91) scale(0.96,1)" font-size="9.6" text-anchor="end" fill="#111">4</text>
<line x1="431.50" y1="252.50" x2="434.50" y2="252.50" stroke="#a8a8a8" stroke-width="1"/>
<text transform="translate(426.90,255.71) scale(0.96,1)" font-size="9.6" text-anchor="end" fill="#111">2</text>
<line x1="431.50" y1="267.50" x2="434.50" y2="267.50" stroke="#a8a8a8" stroke-width="1"/>
<text transform="translate(426.90,270.71) scale(0.96,1)" font-size="9.6" text-anchor="end" fill="#111">0</text>
<line x1="439.50" y1="268.50" x2="439.50" y2="271.50" stroke="#a8a8a8" stroke-width="1"/>
<text transform="translate(439.20,282.60) scale(0.98,1)" font-size="8.8" text-anchor="middle" fill="#111">0</text>
<line x1="476.50" y1="268.50" x2="476.50" y2="271.50" stroke="#a8a8a8" stroke-width="1"/>
<text transform="translate(476.53,282.60) scale(0.98,1)" font-size="8.8" text-anchor="middle" fill="#111">10</text>
<line x1="513.50" y1="268.50" x2="513.50" y2="271.50" stroke="#a8a8a8" stroke-width="1"/>
<text transform="translate(513.86,282.60) scale(0.98,1)" font-size="8.8" text-anchor="middle" fill="#111">20</text>
<line x1="551.50" y1="268.50" x2="551.50" y2="271.50" stroke="#a8a8a8" stroke-width="1"/>
<text transform="translate(551.19,282.60) scale(0.98,1)" font-size="8.8" text-anchor="middle" fill="#111">30</text>
<polygon points="430.5,184.2 438.5,176.7 438.5,183.7 430.5,191.2" fill="#fff"/>
<line x1="430.00" y1="182.70" x2="439.00" y2="174.70" stroke="#444" stroke-width="0.8"/>
<line x1="430.00" y1="189.20" x2="439.00" y2="181.20" stroke="#444" stroke-width="0.8"/>
<polygon points="570.5,184.2 578.5,176.7 578.5,183.7 570.5,191.2" fill="#fff"/>
<line x1="570.00" y1="182.70" x2="579.00" y2="174.70" stroke="#444" stroke-width="0.8"/>
<line x1="570.00" y1="189.20" x2="579.00" y2="181.20" stroke="#444" stroke-width="0.8"/>
<text x="503.30" y="168.20" font-size="9.3" text-anchor="middle" fill="#111">SGD</text>
<text x="504.80" y="292.90" font-size="10.3" text-anchor="middle" textLength="33.9" lengthAdjust="spacingAndGlyphs" fill="#111">Salinity</text>
<rect x="618.50" y="172.50" width="137.00" height="95.00" fill="none" stroke="#a8a8a8" stroke-width="1"/>
<line x1="615.50" y1="172.50" x2="618.50" y2="172.50" stroke="#a8a8a8" stroke-width="1"/>
<text transform="translate(610.90,175.31) scale(0.96,1)" font-size="9.6" text-anchor="end" fill="#111">35</text>
<line x1="615.50" y1="178.50" x2="618.50" y2="178.50" stroke="#a8a8a8" stroke-width="1"/>
<text transform="translate(610.90,181.51) scale(0.96,1)" font-size="9.6" text-anchor="end" fill="#111">30</text>
<line x1="615.50" y1="192.50" x2="618.50" y2="192.50" stroke="#a8a8a8" stroke-width="1"/>
<text transform="translate(610.90,196.11) scale(0.96,1)" font-size="9.6" text-anchor="end" fill="#111">10</text>
<line x1="615.50" y1="207.50" x2="618.50" y2="207.50" stroke="#a8a8a8" stroke-width="1"/>
<text transform="translate(610.90,210.81) scale(0.96,1)" font-size="9.6" text-anchor="end" fill="#111">8</text>
<line x1="615.50" y1="222.50" x2="618.50" y2="222.50" stroke="#a8a8a8" stroke-width="1"/>
<text transform="translate(610.90,225.91) scale(0.96,1)" font-size="9.6" text-anchor="end" fill="#111">6</text>
<line x1="615.50" y1="237.50" x2="618.50" y2="237.50" stroke="#a8a8a8" stroke-width="1"/>
<text transform="translate(610.90,240.91) scale(0.96,1)" font-size="9.6" text-anchor="end" fill="#111">4</text>
<line x1="615.50" y1="252.50" x2="618.50" y2="252.50" stroke="#a8a8a8" stroke-width="1"/>
<text transform="translate(610.90,255.71) scale(0.96,1)" font-size="9.6" text-anchor="end" fill="#111">2</text>
<line x1="615.50" y1="267.50" x2="618.50" y2="267.50" stroke="#a8a8a8" stroke-width="1"/>
<text transform="translate(610.90,270.71) scale(0.96,1)" font-size="9.6" text-anchor="end" fill="#111">0</text>
<line x1="621.50" y1="267.50" x2="621.50" y2="270.50" stroke="#a8a8a8" stroke-width="1"/>
<text transform="translate(621.80,282.60) scale(0.98,1)" font-size="8.8" text-anchor="middle" fill="#111">0</text>
<line x1="658.50" y1="267.50" x2="658.50" y2="270.50" stroke="#a8a8a8" stroke-width="1"/>
<text transform="translate(658.80,282.60) scale(0.98,1)" font-size="8.8" text-anchor="middle" fill="#111">10</text>
<line x1="695.50" y1="267.50" x2="695.50" y2="270.50" stroke="#a8a8a8" stroke-width="1"/>
<text transform="translate(695.80,282.60) scale(0.98,1)" font-size="8.8" text-anchor="middle" fill="#111">20</text>
<line x1="732.50" y1="267.50" x2="732.50" y2="270.50" stroke="#a8a8a8" stroke-width="1"/>
<text transform="translate(732.80,282.60) scale(0.98,1)" font-size="8.8" text-anchor="middle" fill="#111">30</text>
<polygon points="614.5,184.2 622.5,176.7 622.5,183.7 614.5,191.2" fill="#fff"/>
<line x1="614.00" y1="182.70" x2="623.00" y2="174.70" stroke="#444" stroke-width="0.8"/>
<line x1="614.00" y1="189.20" x2="623.00" y2="181.20" stroke="#444" stroke-width="0.8"/>
<polygon points="751.5,184.2 759.5,176.7 759.5,183.7 751.5,191.2" fill="#fff"/>
<line x1="751.00" y1="182.70" x2="760.00" y2="174.70" stroke="#444" stroke-width="0.8"/>
<line x1="751.00" y1="189.20" x2="760.00" y2="181.20" stroke="#444" stroke-width="0.8"/>
<text x="685.90" y="168.00" font-size="9.3" text-anchor="middle" fill="#111">Seawater</text>
<text x="686.60" y="292.90" font-size="10.3" text-anchor="middle" textLength="33.9" lengthAdjust="spacingAndGlyphs" fill="#111">Salinity</text>
<rect x="434.50" y="328.50" width="138.00" height="96.00" fill="none" stroke="#a8a8a8" stroke-width="1"/>
<line x1="431.50" y1="329.50" x2="434.50" y2="329.50" stroke="#a8a8a8" stroke-width="1"/>
<text transform="translate(426.90,332.71) scale(0.96,1)" font-size="9.6" text-anchor="end" fill="#111">250</text>
<line x1="431.50" y1="348.50" x2="434.50" y2="348.50" stroke="#a8a8a8" stroke-width="1"/>
<text transform="translate(426.90,351.71) scale(0.96,1)" font-size="9.6" text-anchor="end" fill="#111">200</text>
<line x1="431.50" y1="367.50" x2="434.50" y2="367.50" stroke="#a8a8a8" stroke-width="1"/>
<text transform="translate(426.90,370.61) scale(0.96,1)" font-size="9.6" text-anchor="end" fill="#111">150</text>
<line x1="431.50" y1="386.50" x2="434.50" y2="386.50" stroke="#a8a8a8" stroke-width="1"/>
<text transform="translate(426.90,389.81) scale(0.96,1)" font-size="9.6" text-anchor="end" fill="#111">100</text>
<line x1="431.50" y1="405.50" x2="434.50" y2="405.50" stroke="#a8a8a8" stroke-width="1"/>
<text transform="translate(426.90,408.71) scale(0.96,1)" font-size="9.6" text-anchor="end" fill="#111">50</text>
<line x1="431.50" y1="424.50" x2="434.50" y2="424.50" stroke="#a8a8a8" stroke-width="1"/>
<text transform="translate(426.90,427.31) scale(0.96,1)" font-size="9.6" text-anchor="end" fill="#111">0</text>
<line x1="438.50" y1="424.50" x2="438.50" y2="427.50" stroke="#a8a8a8" stroke-width="1"/>
<text transform="translate(438.70,439.80) scale(0.98,1)" font-size="9.0" text-anchor="middle" fill="#111">0</text>
<line x1="475.50" y1="424.50" x2="475.50" y2="427.50" stroke="#a8a8a8" stroke-width="1"/>
<text transform="translate(475.70,439.80) scale(0.98,1)" font-size="9.0" text-anchor="middle" fill="#111">10</text>
<line x1="512.50" y1="424.50" x2="512.50" y2="427.50" stroke="#a8a8a8" stroke-width="1"/>
<text transform="translate(512.70,439.80) scale(0.98,1)" font-size="9.0" text-anchor="middle" fill="#111">20</text>
<line x1="549.50" y1="424.50" x2="549.50" y2="427.50" stroke="#a8a8a8" stroke-width="1"/>
<text transform="translate(549.70,439.80) scale(0.98,1)" font-size="9.0" text-anchor="middle" fill="#111">30</text>
<text x="503.30" y="325.60" font-size="9.3" text-anchor="middle" fill="#111">SGD</text>
<text x="504.00" y="449.50" font-size="10.3" text-anchor="middle" textLength="33.9" lengthAdjust="spacingAndGlyphs" fill="#111">Salinity</text>
<rect x="617.50" y="329.50" width="138.00" height="95.00" fill="none" stroke="#a8a8a8" stroke-width="1"/>
<line x1="614.50" y1="329.50" x2="617.50" y2="329.50" stroke="#a8a8a8" stroke-width="1"/>
<text transform="translate(609.90,332.71) scale(0.96,1)" font-size="9.6" text-anchor="end" fill="#111">250</text>
<line x1="614.50" y1="348.50" x2="617.50" y2="348.50" stroke="#a8a8a8" stroke-width="1"/>
<text transform="translate(609.90,351.71) scale(0.96,1)" font-size="9.6" text-anchor="end" fill="#111">200</text>
<line x1="614.50" y1="367.50" x2="617.50" y2="367.50" stroke="#a8a8a8" stroke-width="1"/>
<text transform="translate(609.90,370.61) scale(0.96,1)" font-size="9.6" text-anchor="end" fill="#111">150</text>
<line x1="614.50" y1="386.50" x2="617.50" y2="386.50" stroke="#a8a8a8" stroke-width="1"/>
<text transform="translate(609.90,389.81) scale(0.96,1)" font-size="9.6" text-anchor="end" fill="#111">100</text>
<line x1="614.50" y1="405.50" x2="617.50" y2="405.50" stroke="#a8a8a8" stroke-width="1"/>
<text transform="translate(609.90,408.71) scale(0.96,1)" font-size="9.6" text-anchor="end" fill="#111">50</text>
<line x1="614.50" y1="424.50" x2="617.50" y2="424.50" stroke="#a8a8a8" stroke-width="1"/>
<text transform="translate(609.90,427.31) scale(0.96,1)" font-size="9.6" text-anchor="end" fill="#111">0</text>
<line x1="621.50" y1="424.50" x2="621.50" y2="427.50" stroke="#a8a8a8" stroke-width="1"/>
<text transform="translate(621.60,439.80) scale(0.98,1)" font-size="9.0" text-anchor="middle" fill="#111">0</text>
<line x1="658.50" y1="424.50" x2="658.50" y2="427.50" stroke="#a8a8a8" stroke-width="1"/>
<text transform="translate(658.60,439.80) scale(0.98,1)" font-size="9.0" text-anchor="middle" fill="#111">10</text>
<line x1="695.50" y1="424.50" x2="695.50" y2="427.50" stroke="#a8a8a8" stroke-width="1"/>
<text transform="translate(695.60,439.80) scale(0.98,1)" font-size="9.0" text-anchor="middle" fill="#111">20</text>
<line x1="732.50" y1="424.50" x2="732.50" y2="427.50" stroke="#a8a8a8" stroke-width="1"/>
<text transform="translate(732.60,439.80) scale(0.98,1)" font-size="9.0" text-anchor="middle" fill="#111">30</text>
<text x="685.90" y="324.90" font-size="9.3" text-anchor="middle" fill="#111">Seawater</text>
<text x="686.60" y="449.50" font-size="10.3" text-anchor="middle" textLength="33.9" lengthAdjust="spacingAndGlyphs" fill="#111">Salinity</text>
<g transform="translate(14.0,76.9) rotate(-90)">
<text x="0.00" y="0.00" font-size="10.8" font-weight="bold" textLength="33" lengthAdjust="spacingAndGlyphs" text-anchor="start" fill="#111">DO(%)</text>
</g>
<g transform="translate(18.0,239.1) rotate(-90)">
<text x="0.00" y="0.00" font-size="9.4" font-weight="bold" textLength="12.0" lengthAdjust="spacingAndGlyphs" text-anchor="start" fill="#111">NO</text>
<text x="13.00" y="5.10" font-size="9.5" font-weight="bold" textLength="4.8" lengthAdjust="spacingAndGlyphs" text-anchor="start" fill="#111">3</text>
<rect x="18.3" y="-10.0" width="2.70" height="1.60" fill="#111"/>
<text x="21.40" y="0.00" font-size="9.8" font-weight="bold" textLength="19.5" lengthAdjust="spacingAndGlyphs" text-anchor="start" fill="#111">(μM)</text>
</g>
<g transform="translate(21.7,398.0) rotate(-90)">
<text x="0.00" y="0.00" font-size="9.6" font-weight="bold" textLength="13.9" lengthAdjust="spacingAndGlyphs" text-anchor="start" fill="#111">NO</text>
<text x="14.10" y="4.80" font-size="9.2" font-weight="bold" textLength="4.4" lengthAdjust="spacingAndGlyphs" text-anchor="start" fill="#111">2</text>
<rect x="19.0" y="-9.9" width="2.70" height="1.40" fill="#111"/>
<text x="22.10" y="0.00" font-size="9.8" font-weight="bold" textLength="18.8" lengthAdjust="spacingAndGlyphs" text-anchor="start" fill="#111">(μM)</text>
</g>
<g transform="translate(12.9,557.1) rotate(-90)">
<text x="0.00" y="0.00" font-size="9.6" font-weight="bold" textLength="13.0" lengthAdjust="spacingAndGlyphs" text-anchor="start" fill="#111">NH</text>
<text x="13.20" y="4.20" font-size="9.0" font-weight="bold" textLength="4.9" lengthAdjust="spacingAndGlyphs" text-anchor="start" fill="#111">4</text>
<rect x="18.3" y="-11.0" width="4.70" height="1.00" fill="#111"/>
<rect x="20.15" y="-12.9" width="1.00" height="4.80" fill="#111"/>
<text x="22.90" y="0.00" font-size="9.8" font-weight="bold" textLength="20.4" lengthAdjust="spacingAndGlyphs" text-anchor="start" fill="#111">(μM)</text>
</g>
<g transform="translate(410.0,81.8) rotate(-90)">
<text x="0.00" y="0.00" font-size="9.2" font-weight="bold" textLength="6.3" lengthAdjust="spacingAndGlyphs" text-anchor="start" fill="#111">N</text>
<text x="6.60" y="2.90" font-size="9.0" font-weight="bold" textLength="3.9" lengthAdjust="spacingAndGlyphs" text-anchor="start" fill="#111">2</text>
<text x="10.70" y="0.00" font-size="9.2" font-weight="bold" textLength="26.4" lengthAdjust="spacingAndGlyphs" text-anchor="start" fill="#111">O(nM)</text>
</g>
<g transform="translate(411.0,241.1) rotate(-90)">
<text x="0.00" y="0.00" font-size="9.2" font-weight="bold" textLength="12.0" lengthAdjust="spacingAndGlyphs" text-anchor="start" fill="#111">PO</text>
<text x="11.50" y="4.90" font-size="9.0" font-weight="bold" textLength="4.8" lengthAdjust="spacingAndGlyphs" text-anchor="start" fill="#111">4</text>
<text x="16.10" y="-7.20" font-size="9.0" font-weight="bold" textLength="4.5" lengthAdjust="spacingAndGlyphs" text-anchor="start" fill="#111">3</text>
<rect x="20.5" y="-10.2" width="3.00" height="1.30" fill="#111"/>
<text x="24.00" y="0.00" font-size="9.8" font-weight="bold" textLength="18.7" lengthAdjust="spacingAndGlyphs" text-anchor="start" fill="#111">(μM)</text>
</g>
<g transform="translate(405.8,395.9) rotate(-90)">
<text x="0.00" y="0.00" font-size="9.6" font-weight="bold" textLength="14.4" lengthAdjust="spacingAndGlyphs" text-anchor="start" fill="#111">SiO</text>
<text x="14.50" y="4.80" font-size="9.0" font-weight="bold" textLength="3.8" lengthAdjust="spacingAndGlyphs" text-anchor="start" fill="#111">2</text>
<text x="19.10" y="0.00" font-size="9.8" font-weight="bold" textLength="19.2" lengthAdjust="spacingAndGlyphs" text-anchor="start" fill="#111">(μM)</text>
</g>
<text x="195.30" y="140.90" font-size="10.5" text-anchor="middle" fill="#111" >(a)</text>
<text x="195.70" y="304.50" font-size="10.5" text-anchor="middle" fill="#111" >(b)</text>
<text x="195.50" y="468.00" font-size="10.5" text-anchor="middle" fill="#111" >(c)</text>
<text x="195.50" y="614.50" font-size="10.5" text-anchor="middle" fill="#111" >(d)</text>
<text x="600.00" y="140.50" font-size="10.5" text-anchor="middle" fill="#111" >(e)</text>
<text x="600.00" y="298.50" font-size="10.5" text-anchor="middle" fill="#111" >(f)</text>
<text x="598.00" y="456.00" font-size="10.5" text-anchor="middle" fill="#111" >(g)</text>
<circle cx="64.9" cy="22.0" r="1.6" fill="none" stroke="#1a1a1a" stroke-width="1.2"/>
<circle cx="50.1" cy="31.2" r="1.6" fill="none" stroke="#1a1a1a" stroke-width="1.2"/>
<circle cx="54.1" cy="33.7" r="1.6" fill="none" stroke="#1a1a1a" stroke-width="1.2"/>
<circle cx="47.6" cy="39.6" r="1.6" fill="none" stroke="#1a1a1a" stroke-width="1.2"/>
<circle cx="48.1" cy="42.0" r="1.6" fill="none" stroke="#1a1a1a" stroke-width="1.2"/>
<circle cx="53.7" cy="39.6" r="1.6" fill="none" stroke="#1a1a1a" stroke-width="1.2"/>
<circle cx="50.6" cy="43.1" r="1.6" fill="none" stroke="#1a1a1a" stroke-width="1.2"/>
<circle cx="54.9" cy="46.1" r="1.6" fill="none" stroke="#1a1a1a" stroke-width="1.2"/>
<circle cx="61.4" cy="47.3" r="1.6" fill="none" stroke="#1a1a1a" stroke-width="1.2"/>
<circle cx="49.7" cy="49.9" r="1.6" fill="none" stroke="#1a1a1a" stroke-width="1.2"/>
<circle cx="56.0" cy="51.7" r="1.6" fill="none" stroke="#1a1a1a" stroke-width="1.2"/>
<circle cx="61.0" cy="53.6" r="1.6" fill="none" stroke="#1a1a1a" stroke-width="1.2"/>
<circle cx="53.7" cy="55.8" r="1.6" fill="none" stroke="#1a1a1a" stroke-width="1.2"/>
<circle cx="57.1" cy="57.2" r="1.6" fill="none" stroke="#1a1a1a" stroke-width="1.2"/>
<circle cx="48.1" cy="57.8" r="1.6" fill="none" stroke="#1a1a1a" stroke-width="1.2"/>
<circle cx="67.7" cy="43.1" r="1.6" fill="none" stroke="#1a1a1a" stroke-width="1.2"/>
<circle cx="70.7" cy="50.4" r="1.6" fill="none" stroke="#1a1a1a" stroke-width="1.2"/>
<circle cx="71.4" cy="51.2" r="1.6" fill="none" stroke="#1a1a1a" stroke-width="1.2"/>
<circle cx="75.2" cy="45.8" r="1.6" fill="none" stroke="#1a1a1a" stroke-width="1.2"/>
<circle cx="79.7" cy="50.1" r="1.6" fill="none" stroke="#1a1a1a" stroke-width="1.2"/>
<circle cx="79.7" cy="52.5" r="1.6" fill="none" stroke="#1a1a1a" stroke-width="1.2"/>
<circle cx="82.5" cy="51.7" r="1.6" fill="none" stroke="#1a1a1a" stroke-width="1.2"/>
<circle cx="85.7" cy="53.4" r="1.6" fill="none" stroke="#1a1a1a" stroke-width="1.2"/>
<circle cx="92.6" cy="36.3" r="1.6" fill="none" stroke="#1a1a1a" stroke-width="1.2"/>
<circle cx="92.6" cy="50.5" r="1.6" fill="none" stroke="#1a1a1a" stroke-width="1.2"/>
<circle cx="90.6" cy="57.4" r="1.6" fill="none" stroke="#1a1a1a" stroke-width="1.2"/>
<circle cx="47.2" cy="40.4" r="1.6" fill="none" stroke="#1a1a1a" stroke-width="1.2"/>
<circle cx="47.6" cy="58.6" r="1.6" fill="none" stroke="#1a1a1a" stroke-width="1.2"/>
<circle cx="47.9" cy="57.0" r="1.6" fill="none" stroke="#1a1a1a" stroke-width="1.2"/>
<circle cx="47.9" cy="59.9" r="1.6" fill="none" stroke="#1a1a1a" stroke-width="1.2"/>
<circle cx="53.4" cy="56.0" r="1.6" fill="none" stroke="#1a1a1a" stroke-width="1.2"/>
<circle cx="56.8" cy="57.5" r="1.6" fill="none" stroke="#1a1a1a" stroke-width="1.2"/>
<circle cx="52.7" cy="61.7" r="1.6" fill="none" stroke="#1a1a1a" stroke-width="1.2"/>
<circle cx="60.8" cy="64.9" r="1.6" fill="none" stroke="#1a1a1a" stroke-width="1.2"/>
<circle cx="61.3" cy="65.7" r="1.6" fill="none" stroke="#1a1a1a" stroke-width="1.2"/>
<circle cx="69.7" cy="63.7" r="1.6" fill="none" stroke="#1a1a1a" stroke-width="1.2"/>
<circle cx="80.0" cy="62.9" r="1.6" fill="none" stroke="#1a1a1a" stroke-width="1.2"/>
<circle cx="84.5" cy="60.7" r="1.6" fill="none" stroke="#1a1a1a" stroke-width="1.2"/>
<circle cx="90.4" cy="57.5" r="1.6" fill="none" stroke="#1a1a1a" stroke-width="1.2"/>
<circle cx="97.8" cy="55.5" r="1.6" fill="none" stroke="#1a1a1a" stroke-width="1.2"/>
<circle cx="101.3" cy="55.5" r="1.6" fill="none" stroke="#1a1a1a" stroke-width="1.2"/>
<circle cx="101.5" cy="64.1" r="1.6" fill="none" stroke="#1a1a1a" stroke-width="1.2"/>
<circle cx="108.7" cy="61.7" r="1.6" fill="none" stroke="#1a1a1a" stroke-width="1.2"/>
<circle cx="111.6" cy="62.9" r="1.6" fill="none" stroke="#1a1a1a" stroke-width="1.2"/>
<circle cx="115.6" cy="60.9" r="1.6" fill="none" stroke="#1a1a1a" stroke-width="1.2"/>
<circle cx="118.0" cy="59.4" r="1.6" fill="none" stroke="#1a1a1a" stroke-width="1.2"/>
<circle cx="118.0" cy="64.9" r="1.6" fill="none" stroke="#1a1a1a" stroke-width="1.2"/>
<circle cx="112.9" cy="69.8" r="1.6" fill="none" stroke="#1a1a1a" stroke-width="1.2"/>
<circle cx="52.4" cy="68.8" r="1.6" fill="none" stroke="#1a1a1a" stroke-width="1.2"/>
<circle cx="57.3" cy="70.6" r="1.6" fill="none" stroke="#1a1a1a" stroke-width="1.2"/>
<circle cx="71.1" cy="69.0" r="1.6" fill="none" stroke="#1a1a1a" stroke-width="1.2"/>
<circle cx="80.5" cy="74.0" r="1.6" fill="none" stroke="#1a1a1a" stroke-width="1.2"/>
<circle cx="83.5" cy="73.1" r="1.6" fill="none" stroke="#1a1a1a" stroke-width="1.2"/>
<circle cx="89.4" cy="70.8" r="1.6" fill="none" stroke="#1a1a1a" stroke-width="1.2"/>
<circle cx="91.9" cy="72.3" r="1.6" fill="none" stroke="#1a1a1a" stroke-width="1.2"/>
<circle cx="93.2" cy="77.9" r="1.6" fill="none" stroke="#1a1a1a" stroke-width="1.2"/>
<circle cx="57.1" cy="81.0" r="1.6" fill="none" stroke="#1a1a1a" stroke-width="1.2"/>
<circle cx="74.1" cy="80.5" r="1.6" fill="none" stroke="#1a1a1a" stroke-width="1.2"/>
<circle cx="78.7" cy="81.5" r="1.6" fill="none" stroke="#1a1a1a" stroke-width="1.2"/>
<circle cx="79.5" cy="86.6" r="1.6" fill="none" stroke="#1a1a1a" stroke-width="1.2"/>
<circle cx="97.3" cy="94.7" r="1.6" fill="none" stroke="#1a1a1a" stroke-width="1.2"/>
<circle cx="98.5" cy="97.6" r="1.6" fill="none" stroke="#1a1a1a" stroke-width="1.2"/>
<circle cx="109.2" cy="97.6" r="1.6" fill="none" stroke="#1a1a1a" stroke-width="1.2"/>
<circle cx="69.2" cy="98.2" r="1.6" fill="none" stroke="#1a1a1a" stroke-width="1.2"/>
<circle cx="75.4" cy="99.6" r="1.6" fill="none" stroke="#1a1a1a" stroke-width="1.2"/>
<circle cx="76.4" cy="99.0" r="1.6" fill="none" stroke="#1a1a1a" stroke-width="1.2"/>
<circle cx="78.6" cy="99.2" r="1.6" fill="none" stroke="#1a1a1a" stroke-width="1.2"/>
<circle cx="48.1" cy="98.2" r="1.6" fill="none" stroke="#1a1a1a" stroke-width="1.2"/>
<circle cx="48.4" cy="100.4" r="1.6" fill="none" stroke="#1a1a1a" stroke-width="1.2"/>
<circle cx="48.9" cy="102.4" r="1.6" fill="none" stroke="#1a1a1a" stroke-width="1.2"/>
<circle cx="47.5" cy="58.0" r="1.6" fill="none" stroke="#1a1a1a" stroke-width="1.2"/>
<circle cx="48.4" cy="58.5" r="1.6" fill="none" stroke="#1a1a1a" stroke-width="1.2"/>
<circle cx="93.6" cy="36.6" r="1.6" fill="none" stroke="#1a1a1a" stroke-width="1.2"/>
<circle cx="95.7" cy="36.7" r="1.6" fill="none" stroke="#1a1a1a" stroke-width="1.2"/>
<circle cx="104.6" cy="33.9" r="1.6" fill="none" stroke="#1a1a1a" stroke-width="1.2"/>
<circle cx="107.4" cy="36.3" r="1.6" fill="none" stroke="#1a1a1a" stroke-width="1.2"/>
<circle cx="109.0" cy="37.1" r="1.6" fill="none" stroke="#1a1a1a" stroke-width="1.2"/>
<circle cx="108.8" cy="39.2" r="1.6" fill="none" stroke="#1a1a1a" stroke-width="1.2"/>
<circle cx="108.5" cy="42.6" r="1.6" fill="none" stroke="#1a1a1a" stroke-width="1.2"/>
<circle cx="124.0" cy="28.6" r="1.6" fill="none" stroke="#1a1a1a" stroke-width="1.2"/>
<circle cx="126.1" cy="27.8" r="1.6" fill="none" stroke="#1a1a1a" stroke-width="1.2"/>
<circle cx="121.6" cy="35.3" r="1.6" fill="none" stroke="#1a1a1a" stroke-width="1.2"/>
<circle cx="115.5" cy="40.4" r="1.6" fill="none" stroke="#1a1a1a" stroke-width="1.2"/>
<circle cx="119.2" cy="43.9" r="1.6" fill="none" stroke="#1a1a1a" stroke-width="1.2"/>
<circle cx="111.9" cy="45.7" r="1.6" fill="none" stroke="#1a1a1a" stroke-width="1.2"/>
<circle cx="111.5" cy="48.1" r="1.6" fill="none" stroke="#1a1a1a" stroke-width="1.2"/>
<circle cx="113.5" cy="48.9" r="1.6" fill="none" stroke="#1a1a1a" stroke-width="1.2"/>
<circle cx="110.7" cy="52.9" r="1.6" fill="none" stroke="#1a1a1a" stroke-width="1.2"/>
<circle cx="118.0" cy="48.9" r="1.6" fill="none" stroke="#1a1a1a" stroke-width="1.2"/>
<circle cx="117.6" cy="50.5" r="1.6" fill="none" stroke="#1a1a1a" stroke-width="1.2"/>
<circle cx="122.4" cy="44.8" r="1.6" fill="none" stroke="#1a1a1a" stroke-width="1.2"/>
<circle cx="124.0" cy="46.5" r="1.6" fill="none" stroke="#1a1a1a" stroke-width="1.2"/>
<circle cx="125.7" cy="46.5" r="1.6" fill="none" stroke="#1a1a1a" stroke-width="1.2"/>
<circle cx="128.5" cy="44.4" r="1.6" fill="none" stroke="#1a1a1a" stroke-width="1.2"/>
<circle cx="131.3" cy="45.7" r="1.6" fill="none" stroke="#1a1a1a" stroke-width="1.2"/>
<circle cx="128.1" cy="48.1" r="1.6" fill="none" stroke="#1a1a1a" stroke-width="1.2"/>
<circle cx="131.3" cy="48.9" r="1.6" fill="none" stroke="#1a1a1a" stroke-width="1.2"/>
<circle cx="133.8" cy="49.7" r="1.6" fill="none" stroke="#1a1a1a" stroke-width="1.2"/>
<circle cx="122.4" cy="53.8" r="1.6" fill="none" stroke="#1a1a1a" stroke-width="1.2"/>
<circle cx="123.6" cy="56.2" r="1.6" fill="none" stroke="#1a1a1a" stroke-width="1.2"/>
<circle cx="130.5" cy="52.1" r="1.6" fill="none" stroke="#1a1a1a" stroke-width="1.2"/>
<circle cx="130.9" cy="55.4" r="1.6" fill="none" stroke="#1a1a1a" stroke-width="1.2"/>
<circle cx="134.2" cy="58.2" r="1.6" fill="none" stroke="#1a1a1a" stroke-width="1.2"/>
<circle cx="136.2" cy="52.9" r="1.6" fill="none" stroke="#1a1a1a" stroke-width="1.2"/>
<circle cx="138.6" cy="54.2" r="1.6" fill="none" stroke="#1a1a1a" stroke-width="1.2"/>
<circle cx="139.4" cy="46.9" r="1.6" fill="none" stroke="#1a1a1a" stroke-width="1.2"/>
<circle cx="136.2" cy="33.1" r="1.6" fill="none" stroke="#1a1a1a" stroke-width="1.2"/>
<circle cx="139.0" cy="35.9" r="1.6" fill="none" stroke="#1a1a1a" stroke-width="1.2"/>
<circle cx="92.4" cy="50.1" r="1.6" fill="none" stroke="#1a1a1a" stroke-width="1.2"/>
<circle cx="96.1" cy="51.3" r="1.6" fill="none" stroke="#1a1a1a" stroke-width="1.2"/>
<circle cx="98.1" cy="54.6" r="1.6" fill="none" stroke="#1a1a1a" stroke-width="1.2"/>
<circle cx="100.9" cy="55.5" r="1.6" fill="none" stroke="#1a1a1a" stroke-width="1.2"/>
<circle cx="90.8" cy="57.0" r="1.6" fill="none" stroke="#1a1a1a" stroke-width="1.2"/>
<circle cx="118.4" cy="58.6" r="1.6" fill="none" stroke="#1a1a1a" stroke-width="1.2"/>
<circle cx="115.9" cy="59.4" r="1.6" fill="none" stroke="#1a1a1a" stroke-width="1.2"/>
<circle cx="166.2" cy="16.4" r="1.6" fill="none" stroke="#1a1a1a" stroke-width="1.2"/>
<circle cx="166.4" cy="21.7" r="1.6" fill="none" stroke="#1a1a1a" stroke-width="1.2"/>
<circle cx="170.0" cy="21.7" r="1.6" fill="none" stroke="#1a1a1a" stroke-width="1.2"/>
<circle cx="171.1" cy="24.6" r="1.6" fill="none" stroke="#1a1a1a" stroke-width="1.2"/>
<circle cx="147.8" cy="27.1" r="1.6" fill="none" stroke="#1a1a1a" stroke-width="1.2"/>
<circle cx="150.0" cy="31.5" r="1.6" fill="none" stroke="#1a1a1a" stroke-width="1.2"/>
<circle cx="151.8" cy="34.1" r="1.6" fill="none" stroke="#1a1a1a" stroke-width="1.2"/>
<circle cx="154.0" cy="31.2" r="1.6" fill="none" stroke="#1a1a1a" stroke-width="1.2"/>
<circle cx="156.2" cy="30.1" r="1.6" fill="none" stroke="#1a1a1a" stroke-width="1.2"/>
<circle cx="157.6" cy="25.7" r="1.6" fill="none" stroke="#1a1a1a" stroke-width="1.2"/>
<circle cx="136.5" cy="33.3" r="1.6" fill="none" stroke="#1a1a1a" stroke-width="1.2"/>
<circle cx="139.7" cy="35.5" r="1.6" fill="none" stroke="#1a1a1a" stroke-width="1.2"/>
<circle cx="142.3" cy="32.6" r="1.6" fill="none" stroke="#1a1a1a" stroke-width="1.2"/>
<circle cx="150.3" cy="38.4" r="1.6" fill="none" stroke="#1a1a1a" stroke-width="1.2"/>
<circle cx="142.7" cy="41.4" r="1.6" fill="none" stroke="#1a1a1a" stroke-width="1.2"/>
<circle cx="148.1" cy="41.4" r="1.6" fill="none" stroke="#1a1a1a" stroke-width="1.2"/>
<circle cx="151.0" cy="41.7" r="1.6" fill="none" stroke="#1a1a1a" stroke-width="1.2"/>
<circle cx="145.9" cy="45.0" r="1.6" fill="none" stroke="#1a1a1a" stroke-width="1.2"/>
<circle cx="147.8" cy="43.6" r="1.6" fill="none" stroke="#1a1a1a" stroke-width="1.2"/>
<circle cx="146.7" cy="46.5" r="1.6" fill="none" stroke="#1a1a1a" stroke-width="1.2"/>
<circle cx="145.6" cy="49.4" r="1.6" fill="none" stroke="#1a1a1a" stroke-width="1.2"/>
<circle cx="147.4" cy="50.8" r="1.6" fill="none" stroke="#1a1a1a" stroke-width="1.2"/>
<circle cx="140.1" cy="46.5" r="1.6" fill="none" stroke="#1a1a1a" stroke-width="1.2"/>
<circle cx="156.2" cy="43.2" r="1.6" fill="none" stroke="#1a1a1a" stroke-width="1.2"/>
<circle cx="163.1" cy="42.1" r="1.6" fill="none" stroke="#1a1a1a" stroke-width="1.2"/>
<circle cx="156.9" cy="46.5" r="1.6" fill="none" stroke="#1a1a1a" stroke-width="1.2"/>
<circle cx="157.6" cy="49.4" r="1.6" fill="none" stroke="#1a1a1a" stroke-width="1.2"/>
<circle cx="156.2" cy="50.8" r="1.6" fill="none" stroke="#1a1a1a" stroke-width="1.2"/>
<circle cx="154.7" cy="52.3" r="1.6" fill="none" stroke="#1a1a1a" stroke-width="1.2"/>
<circle cx="158.3" cy="53.0" r="1.6" fill="none" stroke="#1a1a1a" stroke-width="1.2"/>
<circle cx="169.3" cy="42.8" r="1.6" fill="none" stroke="#1a1a1a" stroke-width="1.2"/>
<circle cx="170.7" cy="44.3" r="1.6" fill="none" stroke="#1a1a1a" stroke-width="1.2"/>
<circle cx="167.8" cy="45.7" r="1.6" fill="none" stroke="#1a1a1a" stroke-width="1.2"/>
<circle cx="170.0" cy="46.5" r="1.6" fill="none" stroke="#1a1a1a" stroke-width="1.2"/>
<circle cx="169.3" cy="49.4" r="1.6" fill="none" stroke="#1a1a1a" stroke-width="1.2"/>
<circle cx="168.6" cy="53.0" r="1.6" fill="none" stroke="#1a1a1a" stroke-width="1.2"/>
<circle cx="164.2" cy="53.8" r="1.6" fill="none" stroke="#1a1a1a" stroke-width="1.2"/>
<circle cx="150.0" cy="48.7" r="1.6" fill="none" stroke="#1a1a1a" stroke-width="1.2"/>
<circle cx="135.7" cy="52.3" r="1.6" fill="none" stroke="#1a1a1a" stroke-width="1.2"/>
<circle cx="139.4" cy="53.8" r="1.6" fill="none" stroke="#1a1a1a" stroke-width="1.2"/>
<circle cx="142.3" cy="53.0" r="1.6" fill="none" stroke="#1a1a1a" stroke-width="1.2"/>
<circle cx="145.9" cy="53.8" r="1.6" fill="none" stroke="#1a1a1a" stroke-width="1.2"/>
<circle cx="148.1" cy="53.8" r="1.6" fill="none" stroke="#1a1a1a" stroke-width="1.2"/>
<circle cx="160.5" cy="27.5" r="1.6" fill="none" stroke="#1a1a1a" stroke-width="1.2"/>
<circle cx="162.7" cy="26.8" r="1.6" fill="none" stroke="#1a1a1a" stroke-width="1.2"/>
<circle cx="164.9" cy="28.2" r="1.6" fill="none" stroke="#1a1a1a" stroke-width="1.2"/>
<circle cx="167.1" cy="27.5" r="1.6" fill="none" stroke="#1a1a1a" stroke-width="1.2"/>
<circle cx="169.3" cy="29.0" r="1.6" fill="none" stroke="#1a1a1a" stroke-width="1.2"/>
<circle cx="159.8" cy="31.2" r="1.6" fill="none" stroke="#1a1a1a" stroke-width="1.2"/>
<circle cx="162.0" cy="30.4" r="1.6" fill="none" stroke="#1a1a1a" stroke-width="1.2"/>
<circle cx="164.2" cy="31.2" r="1.6" fill="none" stroke="#1a1a1a" stroke-width="1.2"/>
<circle cx="166.4" cy="30.4" r="1.6" fill="none" stroke="#1a1a1a" stroke-width="1.2"/>
<circle cx="168.6" cy="31.9" r="1.6" fill="none" stroke="#1a1a1a" stroke-width="1.2"/>
<circle cx="170.7" cy="33.3" r="1.6" fill="none" stroke="#1a1a1a" stroke-width="1.2"/>
<circle cx="159.8" cy="34.8" r="1.6" fill="none" stroke="#1a1a1a" stroke-width="1.2"/>
<circle cx="162.0" cy="35.5" r="1.6" fill="none" stroke="#1a1a1a" stroke-width="1.2"/>
<circle cx="164.2" cy="34.8" r="1.6" fill="none" stroke="#1a1a1a" stroke-width="1.2"/>
<circle cx="166.4" cy="34.1" r="1.6" fill="none" stroke="#1a1a1a" stroke-width="1.2"/>
<circle cx="168.6" cy="35.5" r="1.6" fill="none" stroke="#1a1a1a" stroke-width="1.2"/>
<circle cx="170.7" cy="36.3" r="1.6" fill="none" stroke="#1a1a1a" stroke-width="1.2"/>
<circle cx="160.5" cy="37.7" r="1.6" fill="none" stroke="#1a1a1a" stroke-width="1.2"/>
<circle cx="164.2" cy="37.7" r="1.6" fill="none" stroke="#1a1a1a" stroke-width="1.2"/>
<circle cx="169.3" cy="38.4" r="1.6" fill="none" stroke="#1a1a1a" stroke-width="1.2"/>
<circle cx="171.5" cy="37.7" r="1.6" fill="none" stroke="#1a1a1a" stroke-width="1.2"/>
<circle cx="165.6" cy="32.6" r="1.6" fill="none" stroke="#1a1a1a" stroke-width="1.2"/>
<circle cx="167.5" cy="36.6" r="1.6" fill="none" stroke="#1a1a1a" stroke-width="1.2"/>
<circle cx="162.7" cy="33.0" r="1.6" fill="none" stroke="#1a1a1a" stroke-width="1.2"/>
<circle cx="170.0" cy="31.2" r="1.6" fill="none" stroke="#1a1a1a" stroke-width="1.2"/>
<circle cx="168.2" cy="26.0" r="1.6" fill="none" stroke="#1a1a1a" stroke-width="1.2"/>
<circle cx="163.8" cy="25.7" r="1.6" fill="none" stroke="#1a1a1a" stroke-width="1.2"/>
<circle cx="161.3" cy="24.6" r="1.6" fill="none" stroke="#1a1a1a" stroke-width="1.2"/>
<circle cx="118.9" cy="59.2" r="1.6" fill="none" stroke="#1a1a1a" stroke-width="1.2"/>
<circle cx="115.5" cy="60.7" r="1.6" fill="none" stroke="#1a1a1a" stroke-width="1.2"/>
<circle cx="118.4" cy="64.6" r="1.6" fill="none" stroke="#1a1a1a" stroke-width="1.2"/>
<circle cx="124.2" cy="64.6" r="1.6" fill="none" stroke="#1a1a1a" stroke-width="1.2"/>
<circle cx="120.6" cy="72.2" r="1.6" fill="none" stroke="#1a1a1a" stroke-width="1.2"/>
<circle cx="135.9" cy="66.3" r="1.6" fill="none" stroke="#1a1a1a" stroke-width="1.2"/>
<circle cx="142.7" cy="66.7" r="1.6" fill="none" stroke="#1a1a1a" stroke-width="1.2"/>
<circle cx="130.6" cy="55.4" r="1.6" fill="none" stroke="#1a1a1a" stroke-width="1.2"/>
<circle cx="134.0" cy="58.8" r="1.6" fill="none" stroke="#1a1a1a" stroke-width="1.2"/>
<circle cx="135.9" cy="52.9" r="1.6" fill="none" stroke="#1a1a1a" stroke-width="1.2"/>
<circle cx="139.3" cy="53.9" r="1.6" fill="none" stroke="#1a1a1a" stroke-width="1.2"/>
<circle cx="140.3" cy="57.3" r="1.6" fill="none" stroke="#1a1a1a" stroke-width="1.2"/>
<circle cx="144.2" cy="59.7" r="1.6" fill="none" stroke="#1a1a1a" stroke-width="1.2"/>
<circle cx="147.1" cy="62.6" r="1.6" fill="none" stroke="#1a1a1a" stroke-width="1.2"/>
<circle cx="148.1" cy="55.8" r="1.6" fill="none" stroke="#1a1a1a" stroke-width="1.2"/>
<circle cx="143.2" cy="53.9" r="1.6" fill="none" stroke="#1a1a1a" stroke-width="1.2"/>
<circle cx="122.8" cy="55.8" r="1.6" fill="none" stroke="#1a1a1a" stroke-width="1.2"/>
<circle cx="123.8" cy="53.9" r="1.6" fill="none" stroke="#1a1a1a" stroke-width="1.2"/>
<circle cx="155.9" cy="53.9" r="1.6" fill="none" stroke="#1a1a1a" stroke-width="1.2"/>
<circle cx="157.8" cy="57.8" r="1.6" fill="none" stroke="#1a1a1a" stroke-width="1.2"/>
<circle cx="159.7" cy="59.7" r="1.6" fill="none" stroke="#1a1a1a" stroke-width="1.2"/>
<circle cx="161.7" cy="57.8" r="1.6" fill="none" stroke="#1a1a1a" stroke-width="1.2"/>
<circle cx="163.6" cy="54.9" r="1.6" fill="none" stroke="#1a1a1a" stroke-width="1.2"/>
<circle cx="164.6" cy="62.6" r="1.6" fill="none" stroke="#1a1a1a" stroke-width="1.2"/>
<circle cx="168.0" cy="60.2" r="1.6" fill="none" stroke="#1a1a1a" stroke-width="1.2"/>
<circle cx="168.5" cy="52.9" r="1.6" fill="none" stroke="#1a1a1a" stroke-width="1.2"/>
<circle cx="167.5" cy="66.1" r="1.6" fill="none" stroke="#1a1a1a" stroke-width="1.2"/>
<circle cx="157.8" cy="69.9" r="1.6" fill="none" stroke="#1a1a1a" stroke-width="1.2"/>
<circle cx="156.8" cy="73.3" r="1.6" fill="none" stroke="#1a1a1a" stroke-width="1.2"/>
<circle cx="162.7" cy="69.5" r="1.6" fill="none" stroke="#1a1a1a" stroke-width="1.2"/>
<circle cx="162.2" cy="72.9" r="1.6" fill="none" stroke="#1a1a1a" stroke-width="1.2"/>
<circle cx="165.1" cy="70.9" r="1.6" fill="none" stroke="#1a1a1a" stroke-width="1.2"/>
<circle cx="132.5" cy="91.8" r="1.6" fill="none" stroke="#1a1a1a" stroke-width="1.2"/>
<circle cx="134.9" cy="94.7" r="1.6" fill="none" stroke="#1a1a1a" stroke-width="1.2"/>
<circle cx="138.2" cy="94.3" r="1.6" fill="none" stroke="#1a1a1a" stroke-width="1.2"/>
<circle cx="148.6" cy="100.4" r="1.6" fill="none" stroke="#1a1a1a" stroke-width="1.2"/>
<circle cx="163.6" cy="90.9" r="1.6" fill="none" stroke="#1a1a1a" stroke-width="1.2"/>
<circle cx="165.1" cy="92.3" r="1.6" fill="none" stroke="#1a1a1a" stroke-width="1.2"/>
<circle cx="167.0" cy="60.5" r="1.6" fill="none" stroke="#1a1a1a" stroke-width="1.2"/>
<circle cx="166.9" cy="35.4" r="1.6" fill="none" stroke="#1a1a1a" stroke-width="1.2"/>
<circle cx="168.1" cy="37.6" r="1.6" fill="none" stroke="#1a1a1a" stroke-width="1.2"/>
<circle cx="160.3" cy="32.1" r="1.6" fill="none" stroke="#1a1a1a" stroke-width="1.2"/>
<circle cx="170.4" cy="34.3" r="1.6" fill="none" stroke="#1a1a1a" stroke-width="1.2"/>
<circle cx="165.2" cy="29.5" r="1.6" fill="none" stroke="#1a1a1a" stroke-width="1.2"/>
<circle cx="166.0" cy="33.4" r="1.6" fill="none" stroke="#1a1a1a" stroke-width="1.2"/>
<circle cx="163.1" cy="37.5" r="1.6" fill="none" stroke="#1a1a1a" stroke-width="1.2"/>
<circle cx="168.4" cy="28.4" r="1.6" fill="none" stroke="#1a1a1a" stroke-width="1.2"/>
<circle cx="168.8" cy="28.2" r="1.6" fill="none" stroke="#1a1a1a" stroke-width="1.2"/>
<circle cx="166.8" cy="28.0" r="1.6" fill="none" stroke="#1a1a1a" stroke-width="1.2"/>
<circle cx="162.3" cy="29.1" r="1.6" fill="none" stroke="#1a1a1a" stroke-width="1.2"/>
<circle cx="165.9" cy="34.6" r="1.6" fill="none" stroke="#1a1a1a" stroke-width="1.2"/>
<circle cx="171.0" cy="46.6" r="1.6" fill="none" stroke="#1a1a1a" stroke-width="1.2"/>
<circle cx="169.4" cy="43.8" r="1.6" fill="none" stroke="#1a1a1a" stroke-width="1.2"/>
<circle cx="169.4" cy="46.3" r="1.6" fill="none" stroke="#1a1a1a" stroke-width="1.2"/>
<line x1="47.50" y1="66.40" x2="170.00" y2="43.40" stroke="#1a1a1a" stroke-width="1.15"/>
<path d="M297.4 22.4L301.1 26.1M301.1 22.4L297.4 26.1" stroke="#1a1a1a" stroke-width="1.1"/>
<path d="M313.6 44.9L317.4 48.6M317.4 44.9L313.6 48.6" stroke="#1a1a1a" stroke-width="1.1"/>
<path d="M335.1 23.4L338.9 27.2M338.9 23.4L335.1 27.2" stroke="#1a1a1a" stroke-width="1.1"/>
<path d="M334.0 31.4L337.8 35.2M337.8 31.4L334.0 35.2" stroke="#1a1a1a" stroke-width="1.1"/>
<path d="M336.2 30.0L340.0 33.8M340.0 30.0L336.2 33.8" stroke="#1a1a1a" stroke-width="1.1"/>
<path d="M339.5 25.2L343.3 29.0M343.3 25.2L339.5 29.0" stroke="#1a1a1a" stroke-width="1.1"/>
<path d="M341.7 32.2L345.5 36.0M345.5 32.2L341.7 36.0" stroke="#1a1a1a" stroke-width="1.1"/>
<path d="M345.0 35.8L348.8 39.6M348.8 35.8L345.0 39.6" stroke="#1a1a1a" stroke-width="1.1"/>
<path d="M336.6 39.5L340.4 43.3M340.4 39.5L336.6 43.3" stroke="#1a1a1a" stroke-width="1.1"/>
<path d="M353.0 16.1L356.8 19.9M356.8 16.1L353.0 19.9" stroke="#1a1a1a" stroke-width="1.1"/>
<path d="M350.8 16.1L354.6 19.9M354.6 16.1L350.8 19.9" stroke="#1a1a1a" stroke-width="1.1"/>
<path d="M361.0 19.8L364.8 23.6M364.8 19.8L361.0 23.6" stroke="#1a1a1a" stroke-width="1.1"/>
<path d="M359.6 25.6L363.4 29.4M363.4 25.6L359.6 29.4" stroke="#1a1a1a" stroke-width="1.1"/>
<path d="M355.9 34.4L359.7 38.2M359.7 34.4L355.9 38.2" stroke="#1a1a1a" stroke-width="1.1"/>
<path d="M353.7 40.2L357.5 44.0M357.5 40.2L353.7 44.0" stroke="#1a1a1a" stroke-width="1.1"/>
<path d="M353.0 42.4L356.8 46.2M356.8 42.4L353.0 46.2" stroke="#1a1a1a" stroke-width="1.1"/>
<path d="M354.5 45.3L358.3 49.1M358.3 45.3L354.5 49.1" stroke="#1a1a1a" stroke-width="1.1"/>
<path d="M348.6 33.6L352.4 37.4M352.4 33.6L348.6 37.4" stroke="#1a1a1a" stroke-width="1.1"/>
<path d="M351.5 33.6L355.3 37.4M355.3 33.6L351.5 37.4" stroke="#1a1a1a" stroke-width="1.1"/>
<path d="M355.2 17.6L359.0 21.4M359.0 17.6L355.2 21.4" stroke="#1a1a1a" stroke-width="1.1"/>
<path d="M342.8 29.3L346.6 33.1M346.6 29.3L342.8 33.1" stroke="#1a1a1a" stroke-width="1.1"/>
<path d="M340.6 27.8L344.4 31.6M344.4 27.8L340.6 31.6" stroke="#1a1a1a" stroke-width="1.1"/>
<path d="M346.4 20.3L350.2 24.1M350.2 20.3L346.4 24.1" stroke="#1a1a1a" stroke-width="1.1"/>
<path d="M348.9 21.0L352.7 24.8M352.7 21.0L348.9 24.8" stroke="#1a1a1a" stroke-width="1.1"/>
<path d="M343.7 23.9L347.5 27.7M347.5 23.9L343.7 27.7" stroke="#1a1a1a" stroke-width="1.1"/>
<path d="M354.8 21.8L358.6 25.6M358.6 21.8L354.8 25.6" stroke="#1a1a1a" stroke-width="1.1"/>
<path d="M351.2 22.4L355.0 26.2M355.0 22.4L351.2 26.2" stroke="#1a1a1a" stroke-width="1.1"/>
<path d="M355.9 28.8L359.7 32.6M359.7 28.8L355.9 32.6" stroke="#1a1a1a" stroke-width="1.1"/>
<path d="M355.4 21.4L359.2 25.2M359.2 21.4L355.4 25.2" stroke="#1a1a1a" stroke-width="1.1"/>
<path d="M347.6 26.6L351.4 30.4M351.4 26.6L347.6 30.4" stroke="#1a1a1a" stroke-width="1.1"/>
<path d="M354.3 29.4L358.1 33.2M358.1 29.4L354.3 33.2" stroke="#1a1a1a" stroke-width="1.1"/>
<path d="M352.3 27.2L356.1 31.0M356.1 27.2L352.3 31.0" stroke="#1a1a1a" stroke-width="1.1"/>
<path d="M350.7 21.2L354.5 25.0M354.5 21.2L350.7 25.0" stroke="#1a1a1a" stroke-width="1.1"/>
<path d="M350.2 20.2L354.0 24.0M354.0 20.2L350.2 24.0" stroke="#1a1a1a" stroke-width="1.1"/>
<path d="M351.4 22.7L355.2 26.5M355.2 22.7L351.4 26.5" stroke="#1a1a1a" stroke-width="1.1"/>
<path d="M357.1 26.0L360.9 29.8M360.9 26.0L357.1 29.8" stroke="#1a1a1a" stroke-width="1.1"/>
<path d="M350.7 24.1L354.5 27.9M354.5 24.1L350.7 27.9" stroke="#1a1a1a" stroke-width="1.1"/>
<path d="M352.2 24.3L356.0 28.1M356.0 24.3L352.2 28.1" stroke="#1a1a1a" stroke-width="1.1"/>
<path d="M345.2 22.8L349.0 26.6M349.0 22.8L345.2 26.6" stroke="#1a1a1a" stroke-width="1.1"/>
<path d="M343.3 26.6L347.1 30.4M347.1 26.6L343.3 30.4" stroke="#1a1a1a" stroke-width="1.1"/>
<path d="M347.1 25.5L350.9 29.3M350.9 25.5L347.1 29.3" stroke="#1a1a1a" stroke-width="1.1"/>
<path d="M350.1 23.2L353.9 27.0M353.9 23.2L350.1 27.0" stroke="#1a1a1a" stroke-width="1.1"/>
<path d="M349.2 21.5L353.0 25.3M353.0 21.5L349.2 25.3" stroke="#1a1a1a" stroke-width="1.1"/>
<path d="M352.7 22.4L356.5 26.2M356.5 22.4L352.7 26.2" stroke="#1a1a1a" stroke-width="1.1"/>
<path d="M348.3 28.1L352.1 31.9M352.1 28.1L348.3 31.9" stroke="#1a1a1a" stroke-width="1.1"/>
<path d="M347.7 25.8L351.5 29.6M351.5 25.8L347.7 29.6" stroke="#1a1a1a" stroke-width="1.1"/>
<path d="M354.8 26.5L358.6 30.3M358.6 26.5L354.8 30.3" stroke="#1a1a1a" stroke-width="1.1"/>
<path d="M346.4 23.1L350.2 26.9M350.2 23.1L346.4 26.9" stroke="#1a1a1a" stroke-width="1.1"/>
<path d="M345.4 24.6L349.2 28.4M349.2 24.6L345.4 28.4" stroke="#1a1a1a" stroke-width="1.1"/>
<path d="M343.3 27.5L347.1 31.3M347.1 27.5L343.3 31.3" stroke="#1a1a1a" stroke-width="1.1"/>
<path d="M349.2 30.4L353.0 34.2M353.0 30.4L349.2 34.2" stroke="#1a1a1a" stroke-width="1.1"/>
<path d="M352.5 28.9L356.3 32.7M356.3 28.9L352.5 32.7" stroke="#1a1a1a" stroke-width="1.1"/>
<path d="M347.3 21.4L351.1 25.2M351.1 21.4L347.3 25.2" stroke="#1a1a1a" stroke-width="1.1"/>
<path d="M349.7 20.7L353.5 24.5M353.5 20.7L349.7 24.5" stroke="#1a1a1a" stroke-width="1.1"/>
<path d="M348.7 30.6L352.5 34.4M352.5 30.6L348.7 34.4" stroke="#1a1a1a" stroke-width="1.1"/>
<path d="M355.1 23.5L358.9 27.3M358.9 23.5L355.1 27.3" stroke="#1a1a1a" stroke-width="1.1"/>
<path d="M347.2 20.3L351.0 24.1M351.0 20.3L347.2 24.1" stroke="#1a1a1a" stroke-width="1.1"/>
<path d="M358.3 24.2L362.1 28.0M362.1 24.2L358.3 28.0" stroke="#1a1a1a" stroke-width="1.1"/>
<path d="M353.4 20.9L357.2 24.7M357.2 20.9L353.4 24.7" stroke="#1a1a1a" stroke-width="1.1"/>
<path d="M343.3 25.0L347.1 28.8M347.1 25.0L343.3 28.8" stroke="#1a1a1a" stroke-width="1.1"/>
<path d="M344.6 25.5L348.4 29.3M348.4 25.5L344.6 29.3" stroke="#1a1a1a" stroke-width="1.1"/>
<path d="M355.0 24.0L358.8 27.8M358.8 24.0L355.0 27.8" stroke="#1a1a1a" stroke-width="1.1"/>
<path d="M358.4 24.8L362.2 28.6M362.2 24.8L358.4 28.6" stroke="#1a1a1a" stroke-width="1.1"/>
<path d="M346.5 24.0L350.3 27.8M350.3 24.0L346.5 27.8" stroke="#1a1a1a" stroke-width="1.1"/>
<path d="M343.2 24.2L347.0 28.0M347.0 24.2L343.2 28.0" stroke="#1a1a1a" stroke-width="1.1"/>
<path d="M346.6 29.8L350.4 33.6M350.4 29.8L346.6 33.6" stroke="#1a1a1a" stroke-width="1.1"/>
<path d="M355.9 25.1L359.7 28.9M359.7 25.1L355.9 28.9" stroke="#1a1a1a" stroke-width="1.1"/>
<path d="M346.5 21.6L350.3 25.4M350.3 21.6L346.5 25.4" stroke="#1a1a1a" stroke-width="1.1"/>
<circle cx="93.5" cy="175.8" r="1.6" fill="none" stroke="#1a1a1a" stroke-width="1.2"/>
<circle cx="55.1" cy="195.8" r="1.6" fill="none" stroke="#1a1a1a" stroke-width="1.2"/>
<circle cx="69.7" cy="193.4" r="1.6" fill="none" stroke="#1a1a1a" stroke-width="1.2"/>
<circle cx="76.8" cy="196.3" r="1.6" fill="none" stroke="#1a1a1a" stroke-width="1.2"/>
<circle cx="65.8" cy="198.9" r="1.6" fill="none" stroke="#1a1a1a" stroke-width="1.2"/>
<circle cx="49.8" cy="204.1" r="1.6" fill="none" stroke="#1a1a1a" stroke-width="1.2"/>
<circle cx="52.2" cy="206.3" r="1.6" fill="none" stroke="#1a1a1a" stroke-width="1.2"/>
<circle cx="54.7" cy="203.9" r="1.6" fill="none" stroke="#1a1a1a" stroke-width="1.2"/>
<circle cx="57.4" cy="203.5" r="1.6" fill="none" stroke="#1a1a1a" stroke-width="1.2"/>
<circle cx="71.8" cy="203.8" r="1.6" fill="none" stroke="#1a1a1a" stroke-width="1.2"/>
<circle cx="93.0" cy="202.0" r="1.6" fill="none" stroke="#1a1a1a" stroke-width="1.2"/>
<circle cx="96.8" cy="211.5" r="1.6" fill="none" stroke="#1a1a1a" stroke-width="1.2"/>
<circle cx="63.8" cy="219.9" r="1.6" fill="none" stroke="#1a1a1a" stroke-width="1.2"/>
<circle cx="87.4" cy="219.7" r="1.6" fill="none" stroke="#1a1a1a" stroke-width="1.2"/>
<circle cx="51.1" cy="226.0" r="1.6" fill="none" stroke="#1a1a1a" stroke-width="1.2"/>
<circle cx="51.6" cy="230.0" r="1.6" fill="none" stroke="#1a1a1a" stroke-width="1.2"/>
<circle cx="51.3" cy="229.4" r="1.6" fill="none" stroke="#1a1a1a" stroke-width="1.2"/>
<circle cx="55.4" cy="226.9" r="1.6" fill="none" stroke="#1a1a1a" stroke-width="1.2"/>
<circle cx="61.8" cy="228.0" r="1.6" fill="none" stroke="#1a1a1a" stroke-width="1.2"/>
<circle cx="78.1" cy="238.1" r="1.6" fill="none" stroke="#1a1a1a" stroke-width="1.2"/>
<circle cx="49.2" cy="241.9" r="1.6" fill="none" stroke="#1a1a1a" stroke-width="1.2"/>
<circle cx="49.5" cy="247.9" r="1.6" fill="none" stroke="#1a1a1a" stroke-width="1.2"/>
<circle cx="49.5" cy="248.7" r="1.6" fill="none" stroke="#1a1a1a" stroke-width="1.2"/>
<circle cx="49.5" cy="251.9" r="1.6" fill="none" stroke="#1a1a1a" stroke-width="1.2"/>
<circle cx="54.9" cy="247.0" r="1.6" fill="none" stroke="#1a1a1a" stroke-width="1.2"/>
<circle cx="61.4" cy="250.8" r="1.6" fill="none" stroke="#1a1a1a" stroke-width="1.2"/>
<circle cx="64.1" cy="252.0" r="1.6" fill="none" stroke="#1a1a1a" stroke-width="1.2"/>
<circle cx="62.3" cy="254.1" r="1.6" fill="none" stroke="#1a1a1a" stroke-width="1.2"/>
<circle cx="54.9" cy="258.3" r="1.6" fill="none" stroke="#1a1a1a" stroke-width="1.2"/>
<circle cx="72.5" cy="257.4" r="1.6" fill="none" stroke="#1a1a1a" stroke-width="1.2"/>
<circle cx="80.5" cy="258.8" r="1.6" fill="none" stroke="#1a1a1a" stroke-width="1.2"/>
<circle cx="91.9" cy="247.9" r="1.6" fill="none" stroke="#1a1a1a" stroke-width="1.2"/>
<circle cx="92.1" cy="251.9" r="1.6" fill="none" stroke="#1a1a1a" stroke-width="1.2"/>
<circle cx="84.6" cy="254.4" r="1.6" fill="none" stroke="#1a1a1a" stroke-width="1.2"/>
<circle cx="88.1" cy="255.9" r="1.6" fill="none" stroke="#1a1a1a" stroke-width="1.2"/>
<circle cx="90.8" cy="256.3" r="1.6" fill="none" stroke="#1a1a1a" stroke-width="1.2"/>
<circle cx="97.0" cy="255.0" r="1.6" fill="none" stroke="#1a1a1a" stroke-width="1.2"/>
<circle cx="49.3" cy="263.9" r="1.6" fill="none" stroke="#1a1a1a" stroke-width="1.2"/>
<circle cx="61.8" cy="264.8" r="1.6" fill="none" stroke="#1a1a1a" stroke-width="1.2"/>
<circle cx="70.3" cy="263.3" r="1.6" fill="none" stroke="#1a1a1a" stroke-width="1.2"/>
<circle cx="93.9" cy="263.5" r="1.6" fill="none" stroke="#1a1a1a" stroke-width="1.2"/>
<circle cx="98.4" cy="261.7" r="1.6" fill="none" stroke="#1a1a1a" stroke-width="1.2"/>
<circle cx="47.8" cy="267.0" r="1.6" fill="none" stroke="#1a1a1a" stroke-width="1.2"/>
<circle cx="50.3" cy="267.0" r="1.6" fill="none" stroke="#1a1a1a" stroke-width="1.2"/>
<circle cx="52.8" cy="267.0" r="1.6" fill="none" stroke="#1a1a1a" stroke-width="1.2"/>
<circle cx="55.3" cy="267.0" r="1.6" fill="none" stroke="#1a1a1a" stroke-width="1.2"/>
<circle cx="57.8" cy="267.0" r="1.6" fill="none" stroke="#1a1a1a" stroke-width="1.2"/>
<circle cx="60.3" cy="267.0" r="1.6" fill="none" stroke="#1a1a1a" stroke-width="1.2"/>
<circle cx="62.8" cy="267.0" r="1.6" fill="none" stroke="#1a1a1a" stroke-width="1.2"/>
<circle cx="67.8" cy="267.0" r="1.6" fill="none" stroke="#1a1a1a" stroke-width="1.2"/>
<circle cx="70.3" cy="267.0" r="1.6" fill="none" stroke="#1a1a1a" stroke-width="1.2"/>
<circle cx="72.8" cy="267.0" r="1.6" fill="none" stroke="#1a1a1a" stroke-width="1.2"/>
<circle cx="75.3" cy="267.0" r="1.6" fill="none" stroke="#1a1a1a" stroke-width="1.2"/>
<circle cx="77.8" cy="267.0" r="1.6" fill="none" stroke="#1a1a1a" stroke-width="1.2"/>
<circle cx="80.3" cy="267.0" r="1.6" fill="none" stroke="#1a1a1a" stroke-width="1.2"/>
<circle cx="82.8" cy="267.0" r="1.6" fill="none" stroke="#1a1a1a" stroke-width="1.2"/>
<circle cx="85.3" cy="267.0" r="1.6" fill="none" stroke="#1a1a1a" stroke-width="1.2"/>
<circle cx="87.8" cy="267.0" r="1.6" fill="none" stroke="#1a1a1a" stroke-width="1.2"/>
<circle cx="93.9" cy="267.0" r="1.6" fill="none" stroke="#1a1a1a" stroke-width="1.2"/>
<circle cx="96.4" cy="267.0" r="1.6" fill="none" stroke="#1a1a1a" stroke-width="1.2"/>
<circle cx="49.0" cy="265.8" r="1.6" fill="none" stroke="#1a1a1a" stroke-width="1.2"/>
<circle cx="54.0" cy="265.8" r="1.6" fill="none" stroke="#1a1a1a" stroke-width="1.2"/>
<circle cx="59.0" cy="265.8" r="1.6" fill="none" stroke="#1a1a1a" stroke-width="1.2"/>
<circle cx="63.0" cy="265.8" r="1.6" fill="none" stroke="#1a1a1a" stroke-width="1.2"/>
<circle cx="70.0" cy="265.8" r="1.6" fill="none" stroke="#1a1a1a" stroke-width="1.2"/>
<circle cx="77.0" cy="265.8" r="1.6" fill="none" stroke="#1a1a1a" stroke-width="1.2"/>
<circle cx="84.0" cy="265.8" r="1.6" fill="none" stroke="#1a1a1a" stroke-width="1.2"/>
<circle cx="113.8" cy="225.8" r="1.6" fill="none" stroke="#1a1a1a" stroke-width="1.2"/>
<circle cx="125.6" cy="224.2" r="1.6" fill="none" stroke="#1a1a1a" stroke-width="1.2"/>
<circle cx="125.0" cy="233.0" r="1.6" fill="none" stroke="#1a1a1a" stroke-width="1.2"/>
<circle cx="113.8" cy="239.6" r="1.6" fill="none" stroke="#1a1a1a" stroke-width="1.2"/>
<circle cx="125.0" cy="240.7" r="1.6" fill="none" stroke="#1a1a1a" stroke-width="1.2"/>
<circle cx="124.7" cy="243.4" r="1.6" fill="none" stroke="#1a1a1a" stroke-width="1.2"/>
<circle cx="137.0" cy="244.7" r="1.6" fill="none" stroke="#1a1a1a" stroke-width="1.2"/>
<circle cx="148.4" cy="241.9" r="1.6" fill="none" stroke="#1a1a1a" stroke-width="1.2"/>
<circle cx="112.3" cy="246.7" r="1.6" fill="none" stroke="#1a1a1a" stroke-width="1.2"/>
<circle cx="116.7" cy="249.2" r="1.6" fill="none" stroke="#1a1a1a" stroke-width="1.2"/>
<circle cx="107.2" cy="248.7" r="1.6" fill="none" stroke="#1a1a1a" stroke-width="1.2"/>
<circle cx="102.7" cy="250.1" r="1.6" fill="none" stroke="#1a1a1a" stroke-width="1.2"/>
<circle cx="112.3" cy="251.4" r="1.6" fill="none" stroke="#1a1a1a" stroke-width="1.2"/>
<circle cx="112.9" cy="254.1" r="1.6" fill="none" stroke="#1a1a1a" stroke-width="1.2"/>
<circle cx="105.6" cy="255.9" r="1.6" fill="none" stroke="#1a1a1a" stroke-width="1.2"/>
<circle cx="130.4" cy="253.8" r="1.6" fill="none" stroke="#1a1a1a" stroke-width="1.2"/>
<circle cx="140.8" cy="259.4" r="1.6" fill="none" stroke="#1a1a1a" stroke-width="1.2"/>
<circle cx="135.9" cy="262.1" r="1.6" fill="none" stroke="#1a1a1a" stroke-width="1.2"/>
<circle cx="129.7" cy="262.7" r="1.6" fill="none" stroke="#1a1a1a" stroke-width="1.2"/>
<circle cx="119.4" cy="261.9" r="1.6" fill="none" stroke="#1a1a1a" stroke-width="1.2"/>
<circle cx="119.8" cy="264.8" r="1.6" fill="none" stroke="#1a1a1a" stroke-width="1.2"/>
<circle cx="98.5" cy="262.1" r="1.6" fill="none" stroke="#1a1a1a" stroke-width="1.2"/>
<circle cx="94.9" cy="263.5" r="1.6" fill="none" stroke="#1a1a1a" stroke-width="1.2"/>
<circle cx="98.9" cy="267.0" r="1.6" fill="none" stroke="#1a1a1a" stroke-width="1.2"/>
<circle cx="102.0" cy="266.8" r="1.6" fill="none" stroke="#1a1a1a" stroke-width="1.2"/>
<circle cx="104.9" cy="255.9" r="1.6" fill="none" stroke="#1a1a1a" stroke-width="1.2"/>
<circle cx="105.1" cy="216.1" r="1.6" fill="none" stroke="#1a1a1a" stroke-width="1.2"/>
<circle cx="109.9" cy="220.1" r="1.6" fill="none" stroke="#1a1a1a" stroke-width="1.2"/>
<circle cx="113.8" cy="225.8" r="1.6" fill="none" stroke="#1a1a1a" stroke-width="1.2"/>
<circle cx="122.9" cy="218.3" r="1.6" fill="none" stroke="#1a1a1a" stroke-width="1.2"/>
<circle cx="125.7" cy="224.3" r="1.6" fill="none" stroke="#1a1a1a" stroke-width="1.2"/>
<circle cx="125.1" cy="233.1" r="1.6" fill="none" stroke="#1a1a1a" stroke-width="1.2"/>
<circle cx="106.5" cy="267.0" r="1.6" fill="none" stroke="#1a1a1a" stroke-width="1.2"/>
<circle cx="109.1" cy="267.0" r="1.6" fill="none" stroke="#1a1a1a" stroke-width="1.2"/>
<circle cx="111.7" cy="267.0" r="1.6" fill="none" stroke="#1a1a1a" stroke-width="1.2"/>
<circle cx="114.3" cy="267.0" r="1.6" fill="none" stroke="#1a1a1a" stroke-width="1.2"/>
<circle cx="116.9" cy="267.0" r="1.6" fill="none" stroke="#1a1a1a" stroke-width="1.2"/>
<circle cx="119.5" cy="267.0" r="1.6" fill="none" stroke="#1a1a1a" stroke-width="1.2"/>
<circle cx="122.1" cy="267.0" r="1.6" fill="none" stroke="#1a1a1a" stroke-width="1.2"/>
<circle cx="124.7" cy="267.0" r="1.6" fill="none" stroke="#1a1a1a" stroke-width="1.2"/>
<circle cx="127.3" cy="267.0" r="1.6" fill="none" stroke="#1a1a1a" stroke-width="1.2"/>
<circle cx="129.9" cy="267.0" r="1.6" fill="none" stroke="#1a1a1a" stroke-width="1.2"/>
<circle cx="132.5" cy="267.0" r="1.6" fill="none" stroke="#1a1a1a" stroke-width="1.2"/>
<circle cx="135.1" cy="267.0" r="1.6" fill="none" stroke="#1a1a1a" stroke-width="1.2"/>
<circle cx="137.7" cy="267.0" r="1.6" fill="none" stroke="#1a1a1a" stroke-width="1.2"/>
<circle cx="140.3" cy="267.0" r="1.6" fill="none" stroke="#1a1a1a" stroke-width="1.2"/>
<circle cx="142.9" cy="267.0" r="1.6" fill="none" stroke="#1a1a1a" stroke-width="1.2"/>
<circle cx="147.0" cy="267.0" r="1.6" fill="none" stroke="#1a1a1a" stroke-width="1.2"/>
<circle cx="149.6" cy="267.0" r="1.6" fill="none" stroke="#1a1a1a" stroke-width="1.2"/>
<circle cx="152.2" cy="267.0" r="1.6" fill="none" stroke="#1a1a1a" stroke-width="1.2"/>
<circle cx="154.8" cy="267.0" r="1.6" fill="none" stroke="#1a1a1a" stroke-width="1.2"/>
<circle cx="157.4" cy="267.0" r="1.6" fill="none" stroke="#1a1a1a" stroke-width="1.2"/>
<circle cx="160.0" cy="267.0" r="1.6" fill="none" stroke="#1a1a1a" stroke-width="1.2"/>
<circle cx="162.6" cy="267.0" r="1.6" fill="none" stroke="#1a1a1a" stroke-width="1.2"/>
<circle cx="165.2" cy="267.0" r="1.6" fill="none" stroke="#1a1a1a" stroke-width="1.2"/>
<circle cx="167.8" cy="267.0" r="1.6" fill="none" stroke="#1a1a1a" stroke-width="1.2"/>
<circle cx="170.4" cy="267.0" r="1.6" fill="none" stroke="#1a1a1a" stroke-width="1.2"/>
<circle cx="108.0" cy="265.6" r="1.6" fill="none" stroke="#1a1a1a" stroke-width="1.2"/>
<circle cx="112.0" cy="265.6" r="1.6" fill="none" stroke="#1a1a1a" stroke-width="1.2"/>
<circle cx="116.0" cy="265.6" r="1.6" fill="none" stroke="#1a1a1a" stroke-width="1.2"/>
<circle cx="120.0" cy="265.6" r="1.6" fill="none" stroke="#1a1a1a" stroke-width="1.2"/>
<circle cx="124.0" cy="265.6" r="1.6" fill="none" stroke="#1a1a1a" stroke-width="1.2"/>
<circle cx="128.0" cy="265.6" r="1.6" fill="none" stroke="#1a1a1a" stroke-width="1.2"/>
<circle cx="132.0" cy="265.6" r="1.6" fill="none" stroke="#1a1a1a" stroke-width="1.2"/>
<circle cx="136.0" cy="265.6" r="1.6" fill="none" stroke="#1a1a1a" stroke-width="1.2"/>
<circle cx="140.0" cy="265.6" r="1.6" fill="none" stroke="#1a1a1a" stroke-width="1.2"/>
<circle cx="144.0" cy="265.6" r="1.6" fill="none" stroke="#1a1a1a" stroke-width="1.2"/>
<circle cx="148.0" cy="265.6" r="1.6" fill="none" stroke="#1a1a1a" stroke-width="1.2"/>
<circle cx="152.0" cy="265.6" r="1.6" fill="none" stroke="#1a1a1a" stroke-width="1.2"/>
<circle cx="156.0" cy="265.6" r="1.6" fill="none" stroke="#1a1a1a" stroke-width="1.2"/>
<circle cx="160.0" cy="265.6" r="1.6" fill="none" stroke="#1a1a1a" stroke-width="1.2"/>
<circle cx="164.0" cy="265.6" r="1.6" fill="none" stroke="#1a1a1a" stroke-width="1.2"/>
<circle cx="155.4" cy="235.8" r="1.6" fill="none" stroke="#1a1a1a" stroke-width="1.2"/>
<circle cx="153.6" cy="238.3" r="1.6" fill="none" stroke="#1a1a1a" stroke-width="1.2"/>
<circle cx="156.3" cy="241.9" r="1.6" fill="none" stroke="#1a1a1a" stroke-width="1.2"/>
<circle cx="159.0" cy="244.7" r="1.6" fill="none" stroke="#1a1a1a" stroke-width="1.2"/>
<circle cx="161.9" cy="248.7" r="1.6" fill="none" stroke="#1a1a1a" stroke-width="1.2"/>
<circle cx="170.6" cy="256.3" r="1.6" fill="none" stroke="#1a1a1a" stroke-width="1.2"/>
<circle cx="149.2" cy="256.5" r="1.6" fill="none" stroke="#1a1a1a" stroke-width="1.2"/>
<circle cx="150.9" cy="259.0" r="1.6" fill="none" stroke="#1a1a1a" stroke-width="1.2"/>
<circle cx="157.6" cy="260.6" r="1.6" fill="none" stroke="#1a1a1a" stroke-width="1.2"/>
<circle cx="160.7" cy="261.7" r="1.6" fill="none" stroke="#1a1a1a" stroke-width="1.2"/>
<circle cx="164.6" cy="260.3" r="1.6" fill="none" stroke="#1a1a1a" stroke-width="1.2"/>
<circle cx="156.8" cy="262.0" r="1.6" fill="none" stroke="#1a1a1a" stroke-width="1.2"/>
<circle cx="164.6" cy="261.4" r="1.6" fill="none" stroke="#1a1a1a" stroke-width="1.2"/>
<circle cx="161.9" cy="263.5" r="1.6" fill="none" stroke="#1a1a1a" stroke-width="1.2"/>
<circle cx="150.4" cy="264.6" r="1.6" fill="none" stroke="#1a1a1a" stroke-width="1.2"/>
<circle cx="149.9" cy="264.0" r="1.6" fill="none" stroke="#1a1a1a" stroke-width="1.2"/>
<circle cx="159.2" cy="266.9" r="1.6" fill="none" stroke="#1a1a1a" stroke-width="1.2"/>
<circle cx="152.0" cy="262.5" r="1.6" fill="none" stroke="#1a1a1a" stroke-width="1.2"/>
<circle cx="164.1" cy="267.7" r="1.6" fill="none" stroke="#1a1a1a" stroke-width="1.2"/>
<circle cx="162.9" cy="263.8" r="1.6" fill="none" stroke="#1a1a1a" stroke-width="1.2"/>
<circle cx="169.6" cy="263.0" r="1.6" fill="none" stroke="#1a1a1a" stroke-width="1.2"/>
<circle cx="156.4" cy="266.8" r="1.6" fill="none" stroke="#1a1a1a" stroke-width="1.2"/>
<circle cx="153.3" cy="265.1" r="1.6" fill="none" stroke="#1a1a1a" stroke-width="1.2"/>
<circle cx="164.3" cy="263.6" r="1.6" fill="none" stroke="#1a1a1a" stroke-width="1.2"/>
<circle cx="162.1" cy="261.4" r="1.6" fill="none" stroke="#1a1a1a" stroke-width="1.2"/>
<circle cx="165.3" cy="264.0" r="1.6" fill="none" stroke="#1a1a1a" stroke-width="1.2"/>
<circle cx="156.5" cy="265.1" r="1.6" fill="none" stroke="#1a1a1a" stroke-width="1.2"/>
<circle cx="159.9" cy="263.1" r="1.6" fill="none" stroke="#1a1a1a" stroke-width="1.2"/>
<circle cx="168.1" cy="265.9" r="1.6" fill="none" stroke="#1a1a1a" stroke-width="1.2"/>
<circle cx="154.9" cy="265.0" r="1.6" fill="none" stroke="#1a1a1a" stroke-width="1.2"/>
<circle cx="161.6" cy="267.2" r="1.6" fill="none" stroke="#1a1a1a" stroke-width="1.2"/>
<circle cx="166.5" cy="263.0" r="1.6" fill="none" stroke="#1a1a1a" stroke-width="1.2"/>
<circle cx="159.0" cy="266.4" r="1.6" fill="none" stroke="#1a1a1a" stroke-width="1.2"/>
<circle cx="144.0" cy="264.2" r="1.6" fill="none" stroke="#1a1a1a" stroke-width="1.2"/>
<circle cx="143.7" cy="261.5" r="1.6" fill="none" stroke="#1a1a1a" stroke-width="1.2"/>
<circle cx="148.1" cy="262.8" r="1.6" fill="none" stroke="#1a1a1a" stroke-width="1.2"/>
<circle cx="146.6" cy="263.0" r="1.6" fill="none" stroke="#1a1a1a" stroke-width="1.2"/>
<circle cx="144.5" cy="265.0" r="1.6" fill="none" stroke="#1a1a1a" stroke-width="1.2"/>
<circle cx="168.2" cy="262.5" r="1.6" fill="none" stroke="#1a1a1a" stroke-width="1.2"/>
<circle cx="165.0" cy="263.5" r="1.6" fill="none" stroke="#1a1a1a" stroke-width="1.2"/>
<circle cx="168.9" cy="264.4" r="1.6" fill="none" stroke="#1a1a1a" stroke-width="1.2"/>
<circle cx="165.3" cy="262.5" r="1.6" fill="none" stroke="#1a1a1a" stroke-width="1.2"/>
<circle cx="169.9" cy="263.1" r="1.6" fill="none" stroke="#1a1a1a" stroke-width="1.2"/>
<circle cx="170.1" cy="260.8" r="1.6" fill="none" stroke="#1a1a1a" stroke-width="1.2"/>
<circle cx="166.7" cy="260.4" r="1.6" fill="none" stroke="#1a1a1a" stroke-width="1.2"/>
<circle cx="168.5" cy="266.9" r="1.6" fill="none" stroke="#1a1a1a" stroke-width="1.2"/>
<circle cx="169.1" cy="265.7" r="1.6" fill="none" stroke="#1a1a1a" stroke-width="1.2"/>
<circle cx="167.7" cy="265.5" r="1.6" fill="none" stroke="#1a1a1a" stroke-width="1.2"/>
<circle cx="165.7" cy="261.8" r="1.6" fill="none" stroke="#1a1a1a" stroke-width="1.2"/>
<circle cx="169.7" cy="265.3" r="1.6" fill="none" stroke="#1a1a1a" stroke-width="1.2"/>
<line x1="48.50" y1="243.80" x2="172.00" y2="266.00" stroke="#1a1a1a" stroke-width="1.15"/>
<path d="M299.5 260.8L303.3 264.6M303.3 260.8L299.5 264.6" stroke="#1a1a1a" stroke-width="1.1"/>
<path d="M314.2 262.6L318.0 266.4M318.0 262.6L314.2 266.4" stroke="#1a1a1a" stroke-width="1.1"/>
<path d="M340.7 257.8L344.5 261.6M344.5 257.8L340.7 261.6" stroke="#1a1a1a" stroke-width="1.1"/>
<path d="M350.2 258.4L354.0 262.2M354.0 258.4L350.2 262.2" stroke="#1a1a1a" stroke-width="1.1"/>
<path d="M353.4 257.3L357.2 261.1M357.2 257.3L353.4 261.1" stroke="#1a1a1a" stroke-width="1.1"/>
<path d="M334.4 262.6L338.2 266.4M338.2 262.6L334.4 266.4" stroke="#1a1a1a" stroke-width="1.1"/>
<path d="M336.0 264.7L339.8 268.5M339.8 264.7L336.0 268.5" stroke="#1a1a1a" stroke-width="1.1"/>
<path d="M338.6 261.0L342.4 264.8M342.4 261.0L338.6 264.8" stroke="#1a1a1a" stroke-width="1.1"/>
<path d="M347.0 260.5L350.8 264.3M350.8 260.5L347.0 264.3" stroke="#1a1a1a" stroke-width="1.1"/>
<path d="M356.5 259.9L360.3 263.7M360.3 259.9L356.5 263.7" stroke="#1a1a1a" stroke-width="1.1"/>
<path d="M360.7 264.7L364.5 268.5M364.5 264.7L360.7 268.5" stroke="#1a1a1a" stroke-width="1.1"/>
<path d="M342.8 259.9L346.6 263.7M346.6 259.9L342.8 263.7" stroke="#1a1a1a" stroke-width="1.1"/>
<path d="M346.8 263.9L350.6 267.7M350.6 263.9L346.8 267.7" stroke="#1a1a1a" stroke-width="1.1"/>
<path d="M360.0 263.4L363.8 267.2M363.8 263.4L360.0 267.2" stroke="#1a1a1a" stroke-width="1.1"/>
<path d="M348.3 264.1L352.1 267.9M352.1 264.1L348.3 267.9" stroke="#1a1a1a" stroke-width="1.1"/>
<path d="M339.3 263.7L343.1 267.5M343.1 263.7L339.3 267.5" stroke="#1a1a1a" stroke-width="1.1"/>
<path d="M351.7 265.2L355.5 269.0M355.5 265.2L351.7 269.0" stroke="#1a1a1a" stroke-width="1.1"/>
<path d="M336.7 262.5L340.5 266.3M340.5 262.5L336.7 266.3" stroke="#1a1a1a" stroke-width="1.1"/>
<path d="M353.5 261.0L357.3 264.8M357.3 261.0L353.5 264.8" stroke="#1a1a1a" stroke-width="1.1"/>
<path d="M352.4 264.2L356.2 268.0M356.2 264.2L352.4 268.0" stroke="#1a1a1a" stroke-width="1.1"/>
<path d="M348.9 261.1L352.7 264.9M352.7 261.1L348.9 264.9" stroke="#1a1a1a" stroke-width="1.1"/>
<path d="M339.4 262.2L343.2 266.0M343.2 262.2L339.4 266.0" stroke="#1a1a1a" stroke-width="1.1"/>
<path d="M334.9 263.4L338.7 267.2M338.7 263.4L334.9 267.2" stroke="#1a1a1a" stroke-width="1.1"/>
<path d="M346.4 265.5L350.2 269.3M350.2 265.5L346.4 269.3" stroke="#1a1a1a" stroke-width="1.1"/>
<path d="M348.6 264.4L352.4 268.2M352.4 264.4L348.6 268.2" stroke="#1a1a1a" stroke-width="1.1"/>
<path d="M348.1 264.5L351.9 268.3M351.9 264.5L348.1 268.3" stroke="#1a1a1a" stroke-width="1.1"/>
<path d="M346.9 262.4L350.7 266.2M350.7 262.4L346.9 266.2" stroke="#1a1a1a" stroke-width="1.1"/>
<path d="M357.6 264.8L361.4 268.6M361.4 264.8L357.6 268.6" stroke="#1a1a1a" stroke-width="1.1"/>
<path d="M342.9 262.1L346.7 265.9M346.7 262.1L342.9 265.9" stroke="#1a1a1a" stroke-width="1.1"/>
<path d="M342.2 261.2L346.0 265.0M346.0 261.2L342.2 265.0" stroke="#1a1a1a" stroke-width="1.1"/>
<path d="M355.6 263.0L359.4 266.8M359.4 263.0L355.6 266.8" stroke="#1a1a1a" stroke-width="1.1"/>
<path d="M357.8 263.0L361.6 266.8M361.6 263.0L357.8 266.8" stroke="#1a1a1a" stroke-width="1.1"/>
<path d="M359.6 263.4L363.4 267.2M363.4 263.4L359.6 267.2" stroke="#1a1a1a" stroke-width="1.1"/>
<path d="M361.6 263.0L365.4 266.8M365.4 263.0L361.6 266.8" stroke="#1a1a1a" stroke-width="1.1"/>
<path d="M336.1 264.3L339.9 268.1M339.9 264.3L336.1 268.1" stroke="#1a1a1a" stroke-width="1.1"/>
<path d="M355.9 262.3L359.7 266.1M359.7 262.3L355.9 266.1" stroke="#1a1a1a" stroke-width="1.1"/>
<path d="M336.5 262.7L340.3 266.5M340.3 262.7L336.5 266.5" stroke="#1a1a1a" stroke-width="1.1"/>
<path d="M337.4 262.2L341.2 266.0M341.2 262.2L337.4 266.0" stroke="#1a1a1a" stroke-width="1.1"/>
<path d="M356.4 261.8L360.2 265.6M360.2 261.8L356.4 265.6" stroke="#1a1a1a" stroke-width="1.1"/>
<path d="M349.8 263.3L353.6 267.1M353.6 263.3L349.8 267.1" stroke="#1a1a1a" stroke-width="1.1"/>
<path d="M339.4 264.9L343.2 268.7M343.2 264.9L339.4 268.7" stroke="#1a1a1a" stroke-width="1.1"/>
<path d="M337.8 264.4L341.6 268.2M341.6 264.4L337.8 268.2" stroke="#1a1a1a" stroke-width="1.1"/>
<path d="M337.4 263.2L341.2 267.0M341.2 263.2L337.4 267.0" stroke="#1a1a1a" stroke-width="1.1"/>
<path d="M340.1 262.3L343.9 266.1M343.9 262.3L340.1 266.1" stroke="#1a1a1a" stroke-width="1.1"/>
<path d="M342.6 265.8L346.4 269.6M346.4 265.8L342.6 269.6" stroke="#1a1a1a" stroke-width="1.1"/>
<path d="M340.0 263.0L343.8 266.8M343.8 263.0L340.0 266.8" stroke="#1a1a1a" stroke-width="1.1"/>
<path d="M358.0 264.4L361.8 268.2M361.8 264.4L358.0 268.2" stroke="#1a1a1a" stroke-width="1.1"/>
<path d="M340.1 262.2L343.9 266.0M343.9 262.2L340.1 266.0" stroke="#1a1a1a" stroke-width="1.1"/>
<path d="M355.7 262.6L359.5 266.4M359.5 262.6L355.7 266.4" stroke="#1a1a1a" stroke-width="1.1"/>
<path d="M342.4 261.2L346.2 265.0M346.2 261.2L342.4 265.0" stroke="#1a1a1a" stroke-width="1.1"/>
<path d="M336.6 264.1L340.4 267.9M340.4 264.1L336.6 267.9" stroke="#1a1a1a" stroke-width="1.1"/>
<path d="M340.9 264.2L344.7 268.0M344.7 264.2L340.9 268.0" stroke="#1a1a1a" stroke-width="1.1"/>
<path d="M344.5 263.3L348.3 267.1M348.3 263.3L344.5 267.1" stroke="#1a1a1a" stroke-width="1.1"/>
<path d="M361.0 263.5L364.8 267.3M364.8 263.5L361.0 267.3" stroke="#1a1a1a" stroke-width="1.1"/>
<circle cx="77.9" cy="335.4" r="1.6" fill="none" stroke="#1a1a1a" stroke-width="1.2"/>
<circle cx="61.3" cy="360.0" r="1.6" fill="none" stroke="#1a1a1a" stroke-width="1.2"/>
<circle cx="77.6" cy="357.3" r="1.6" fill="none" stroke="#1a1a1a" stroke-width="1.2"/>
<circle cx="51.3" cy="372.9" r="1.6" fill="none" stroke="#1a1a1a" stroke-width="1.2"/>
<circle cx="94.1" cy="370.6" r="1.6" fill="none" stroke="#1a1a1a" stroke-width="1.2"/>
<circle cx="63.0" cy="393.8" r="1.6" fill="none" stroke="#1a1a1a" stroke-width="1.2"/>
<circle cx="63.0" cy="395.8" r="1.6" fill="none" stroke="#1a1a1a" stroke-width="1.2"/>
<circle cx="51.3" cy="420.5" r="1.6" fill="none" stroke="#1a1a1a" stroke-width="1.2"/>
<circle cx="57.8" cy="420.1" r="1.6" fill="none" stroke="#1a1a1a" stroke-width="1.2"/>
<circle cx="61.0" cy="418.5" r="1.6" fill="none" stroke="#1a1a1a" stroke-width="1.2"/>
<circle cx="68.3" cy="420.9" r="1.6" fill="none" stroke="#1a1a1a" stroke-width="1.2"/>
<circle cx="48.9" cy="422.1" r="1.6" fill="none" stroke="#1a1a1a" stroke-width="1.2"/>
<circle cx="54.5" cy="421.3" r="1.6" fill="none" stroke="#1a1a1a" stroke-width="1.2"/>
<circle cx="60.2" cy="421.3" r="1.6" fill="none" stroke="#1a1a1a" stroke-width="1.2"/>
<circle cx="63.4" cy="422.9" r="1.6" fill="none" stroke="#1a1a1a" stroke-width="1.2"/>
<circle cx="51.0" cy="424.9" r="1.6" fill="none" stroke="#1a1a1a" stroke-width="1.2"/>
<circle cx="58.0" cy="423.7" r="1.6" fill="none" stroke="#1a1a1a" stroke-width="1.2"/>
<circle cx="51.7" cy="425.4" r="1.6" fill="none" stroke="#1a1a1a" stroke-width="1.2"/>
<circle cx="60.6" cy="423.9" r="1.6" fill="none" stroke="#1a1a1a" stroke-width="1.2"/>
<circle cx="56.1" cy="422.3" r="1.6" fill="none" stroke="#1a1a1a" stroke-width="1.2"/>
<circle cx="57.3" cy="421.4" r="1.6" fill="none" stroke="#1a1a1a" stroke-width="1.2"/>
<circle cx="60.4" cy="422.3" r="1.6" fill="none" stroke="#1a1a1a" stroke-width="1.2"/>
<circle cx="61.6" cy="424.4" r="1.6" fill="none" stroke="#1a1a1a" stroke-width="1.2"/>
<circle cx="49.0" cy="422.8" r="1.6" fill="none" stroke="#1a1a1a" stroke-width="1.2"/>
<circle cx="56.0" cy="421.6" r="1.6" fill="none" stroke="#1a1a1a" stroke-width="1.2"/>
<circle cx="62.8" cy="423.1" r="1.6" fill="none" stroke="#1a1a1a" stroke-width="1.2"/>
<circle cx="50.8" cy="425.6" r="1.6" fill="none" stroke="#1a1a1a" stroke-width="1.2"/>
<circle cx="55.3" cy="424.1" r="1.6" fill="none" stroke="#1a1a1a" stroke-width="1.2"/>
<circle cx="53.6" cy="423.7" r="1.6" fill="none" stroke="#1a1a1a" stroke-width="1.2"/>
<circle cx="61.5" cy="422.3" r="1.6" fill="none" stroke="#1a1a1a" stroke-width="1.2"/>
<circle cx="60.2" cy="422.2" r="1.6" fill="none" stroke="#1a1a1a" stroke-width="1.2"/>
<circle cx="59.8" cy="425.3" r="1.6" fill="none" stroke="#1a1a1a" stroke-width="1.2"/>
<circle cx="57.2" cy="425.1" r="1.6" fill="none" stroke="#1a1a1a" stroke-width="1.2"/>
<circle cx="66.0" cy="425.2" r="1.6" fill="none" stroke="#1a1a1a" stroke-width="1.2"/>
<circle cx="68.0" cy="426.1" r="1.6" fill="none" stroke="#1a1a1a" stroke-width="1.2"/>
<circle cx="70.0" cy="425.2" r="1.6" fill="none" stroke="#1a1a1a" stroke-width="1.2"/>
<circle cx="72.0" cy="426.1" r="1.6" fill="none" stroke="#1a1a1a" stroke-width="1.2"/>
<circle cx="74.0" cy="425.2" r="1.6" fill="none" stroke="#1a1a1a" stroke-width="1.2"/>
<circle cx="76.0" cy="426.1" r="1.6" fill="none" stroke="#1a1a1a" stroke-width="1.2"/>
<circle cx="78.0" cy="425.2" r="1.6" fill="none" stroke="#1a1a1a" stroke-width="1.2"/>
<circle cx="80.0" cy="426.1" r="1.6" fill="none" stroke="#1a1a1a" stroke-width="1.2"/>
<circle cx="82.0" cy="425.2" r="1.6" fill="none" stroke="#1a1a1a" stroke-width="1.2"/>
<circle cx="84.0" cy="426.1" r="1.6" fill="none" stroke="#1a1a1a" stroke-width="1.2"/>
<circle cx="86.0" cy="425.2" r="1.6" fill="none" stroke="#1a1a1a" stroke-width="1.2"/>
<circle cx="88.0" cy="426.1" r="1.6" fill="none" stroke="#1a1a1a" stroke-width="1.2"/>
<circle cx="90.0" cy="425.2" r="1.6" fill="none" stroke="#1a1a1a" stroke-width="1.2"/>
<circle cx="92.0" cy="426.1" r="1.6" fill="none" stroke="#1a1a1a" stroke-width="1.2"/>
<circle cx="94.0" cy="425.2" r="1.6" fill="none" stroke="#1a1a1a" stroke-width="1.2"/>
<circle cx="96.0" cy="426.1" r="1.6" fill="none" stroke="#1a1a1a" stroke-width="1.2"/>
<circle cx="98.0" cy="425.2" r="1.6" fill="none" stroke="#1a1a1a" stroke-width="1.2"/>
<circle cx="100.0" cy="426.1" r="1.6" fill="none" stroke="#1a1a1a" stroke-width="1.2"/>
<circle cx="102.0" cy="425.2" r="1.6" fill="none" stroke="#1a1a1a" stroke-width="1.2"/>
<circle cx="104.0" cy="426.1" r="1.6" fill="none" stroke="#1a1a1a" stroke-width="1.2"/>
<circle cx="106.0" cy="425.2" r="1.6" fill="none" stroke="#1a1a1a" stroke-width="1.2"/>
<circle cx="108.0" cy="426.1" r="1.6" fill="none" stroke="#1a1a1a" stroke-width="1.2"/>
<circle cx="110.0" cy="425.2" r="1.6" fill="none" stroke="#1a1a1a" stroke-width="1.2"/>
<circle cx="112.0" cy="426.1" r="1.6" fill="none" stroke="#1a1a1a" stroke-width="1.2"/>
<circle cx="107.9" cy="379.1" r="1.6" fill="none" stroke="#1a1a1a" stroke-width="1.2"/>
<circle cx="111.8" cy="384.7" r="1.6" fill="none" stroke="#1a1a1a" stroke-width="1.2"/>
<circle cx="109.8" cy="397.0" r="1.6" fill="none" stroke="#1a1a1a" stroke-width="1.2"/>
<circle cx="112.0" cy="400.3" r="1.6" fill="none" stroke="#1a1a1a" stroke-width="1.2"/>
<circle cx="106.6" cy="403.5" r="1.6" fill="none" stroke="#1a1a1a" stroke-width="1.2"/>
<circle cx="122.2" cy="401.9" r="1.6" fill="none" stroke="#1a1a1a" stroke-width="1.2"/>
<circle cx="129.4" cy="400.4" r="1.6" fill="none" stroke="#1a1a1a" stroke-width="1.2"/>
<circle cx="124.8" cy="410.0" r="1.6" fill="none" stroke="#1a1a1a" stroke-width="1.2"/>
<circle cx="119.9" cy="413.9" r="1.6" fill="none" stroke="#1a1a1a" stroke-width="1.2"/>
<circle cx="124.6" cy="415.0" r="1.6" fill="none" stroke="#1a1a1a" stroke-width="1.2"/>
<circle cx="126.8" cy="413.6" r="1.6" fill="none" stroke="#1a1a1a" stroke-width="1.2"/>
<circle cx="140.4" cy="411.2" r="1.6" fill="none" stroke="#1a1a1a" stroke-width="1.2"/>
<circle cx="112.6" cy="422.1" r="1.6" fill="none" stroke="#1a1a1a" stroke-width="1.2"/>
<circle cx="115.9" cy="422.5" r="1.6" fill="none" stroke="#1a1a1a" stroke-width="1.2"/>
<circle cx="112.0" cy="425.1" r="1.6" fill="none" stroke="#1a1a1a" stroke-width="1.2"/>
<circle cx="113.9" cy="426.2" r="1.6" fill="none" stroke="#1a1a1a" stroke-width="1.2"/>
<circle cx="115.8" cy="425.1" r="1.6" fill="none" stroke="#1a1a1a" stroke-width="1.2"/>
<circle cx="117.7" cy="426.2" r="1.6" fill="none" stroke="#1a1a1a" stroke-width="1.2"/>
<circle cx="119.6" cy="425.1" r="1.6" fill="none" stroke="#1a1a1a" stroke-width="1.2"/>
<circle cx="121.5" cy="426.2" r="1.6" fill="none" stroke="#1a1a1a" stroke-width="1.2"/>
<circle cx="123.4" cy="425.1" r="1.6" fill="none" stroke="#1a1a1a" stroke-width="1.2"/>
<circle cx="125.3" cy="426.2" r="1.6" fill="none" stroke="#1a1a1a" stroke-width="1.2"/>
<circle cx="127.2" cy="425.1" r="1.6" fill="none" stroke="#1a1a1a" stroke-width="1.2"/>
<circle cx="129.1" cy="426.2" r="1.6" fill="none" stroke="#1a1a1a" stroke-width="1.2"/>
<circle cx="131.0" cy="425.1" r="1.6" fill="none" stroke="#1a1a1a" stroke-width="1.2"/>
<circle cx="132.9" cy="426.2" r="1.6" fill="none" stroke="#1a1a1a" stroke-width="1.2"/>
<circle cx="134.8" cy="425.1" r="1.6" fill="none" stroke="#1a1a1a" stroke-width="1.2"/>
<circle cx="136.7" cy="426.2" r="1.6" fill="none" stroke="#1a1a1a" stroke-width="1.2"/>
<circle cx="138.6" cy="425.1" r="1.6" fill="none" stroke="#1a1a1a" stroke-width="1.2"/>
<circle cx="140.5" cy="426.2" r="1.6" fill="none" stroke="#1a1a1a" stroke-width="1.2"/>
<circle cx="142.4" cy="425.1" r="1.6" fill="none" stroke="#1a1a1a" stroke-width="1.2"/>
<circle cx="144.3" cy="426.2" r="1.6" fill="none" stroke="#1a1a1a" stroke-width="1.2"/>
<circle cx="146.2" cy="425.1" r="1.6" fill="none" stroke="#1a1a1a" stroke-width="1.2"/>
<circle cx="148.1" cy="426.2" r="1.6" fill="none" stroke="#1a1a1a" stroke-width="1.2"/>
<circle cx="150.0" cy="425.1" r="1.6" fill="none" stroke="#1a1a1a" stroke-width="1.2"/>
<circle cx="151.9" cy="426.2" r="1.6" fill="none" stroke="#1a1a1a" stroke-width="1.2"/>
<circle cx="153.8" cy="425.1" r="1.6" fill="none" stroke="#1a1a1a" stroke-width="1.2"/>
<circle cx="155.7" cy="426.2" r="1.6" fill="none" stroke="#1a1a1a" stroke-width="1.2"/>
<circle cx="157.6" cy="425.1" r="1.6" fill="none" stroke="#1a1a1a" stroke-width="1.2"/>
<circle cx="159.5" cy="426.2" r="1.6" fill="none" stroke="#1a1a1a" stroke-width="1.2"/>
<circle cx="161.4" cy="425.1" r="1.6" fill="none" stroke="#1a1a1a" stroke-width="1.2"/>
<circle cx="163.3" cy="426.2" r="1.6" fill="none" stroke="#1a1a1a" stroke-width="1.2"/>
<circle cx="165.2" cy="425.1" r="1.6" fill="none" stroke="#1a1a1a" stroke-width="1.2"/>
<circle cx="167.1" cy="426.2" r="1.6" fill="none" stroke="#1a1a1a" stroke-width="1.2"/>
<circle cx="169.0" cy="425.1" r="1.6" fill="none" stroke="#1a1a1a" stroke-width="1.2"/>
<circle cx="158.0" cy="396.0" r="1.6" fill="none" stroke="#1a1a1a" stroke-width="1.2"/>
<circle cx="150.2" cy="399.3" r="1.6" fill="none" stroke="#1a1a1a" stroke-width="1.2"/>
<circle cx="150.9" cy="401.9" r="1.6" fill="none" stroke="#1a1a1a" stroke-width="1.2"/>
<circle cx="152.8" cy="402.5" r="1.6" fill="none" stroke="#1a1a1a" stroke-width="1.2"/>
<circle cx="156.0" cy="400.6" r="1.6" fill="none" stroke="#1a1a1a" stroke-width="1.2"/>
<circle cx="158.4" cy="402.9" r="1.6" fill="none" stroke="#1a1a1a" stroke-width="1.2"/>
<circle cx="148.5" cy="406.0" r="1.6" fill="none" stroke="#1a1a1a" stroke-width="1.2"/>
<circle cx="148.0" cy="407.7" r="1.6" fill="none" stroke="#1a1a1a" stroke-width="1.2"/>
<circle cx="163.6" cy="405.5" r="1.6" fill="none" stroke="#1a1a1a" stroke-width="1.2"/>
<circle cx="159.7" cy="416.1" r="1.6" fill="none" stroke="#1a1a1a" stroke-width="1.2"/>
<circle cx="169.0" cy="413.8" r="1.6" fill="none" stroke="#1a1a1a" stroke-width="1.2"/>
<circle cx="169.7" cy="414.9" r="1.6" fill="none" stroke="#1a1a1a" stroke-width="1.2"/>
<circle cx="167.1" cy="416.8" r="1.6" fill="none" stroke="#1a1a1a" stroke-width="1.2"/>
<circle cx="166.2" cy="419.8" r="1.6" fill="none" stroke="#1a1a1a" stroke-width="1.2"/>
<circle cx="169.3" cy="420.7" r="1.6" fill="none" stroke="#1a1a1a" stroke-width="1.2"/>
<circle cx="150.9" cy="421.3" r="1.6" fill="none" stroke="#1a1a1a" stroke-width="1.2"/>
<circle cx="154.8" cy="421.1" r="1.6" fill="none" stroke="#1a1a1a" stroke-width="1.2"/>
<circle cx="143.1" cy="422.0" r="1.6" fill="none" stroke="#1a1a1a" stroke-width="1.2"/>
<circle cx="164.0" cy="424.8" r="1.6" fill="none" stroke="#1a1a1a" stroke-width="1.2"/>
<circle cx="162.7" cy="423.8" r="1.6" fill="none" stroke="#1a1a1a" stroke-width="1.2"/>
<circle cx="155.2" cy="424.8" r="1.6" fill="none" stroke="#1a1a1a" stroke-width="1.2"/>
<circle cx="155.9" cy="424.9" r="1.6" fill="none" stroke="#1a1a1a" stroke-width="1.2"/>
<circle cx="166.6" cy="424.7" r="1.6" fill="none" stroke="#1a1a1a" stroke-width="1.2"/>
<circle cx="162.3" cy="425.7" r="1.6" fill="none" stroke="#1a1a1a" stroke-width="1.2"/>
<circle cx="158.9" cy="423.6" r="1.6" fill="none" stroke="#1a1a1a" stroke-width="1.2"/>
<circle cx="168.2" cy="425.3" r="1.6" fill="none" stroke="#1a1a1a" stroke-width="1.2"/>
<circle cx="165.5" cy="425.4" r="1.6" fill="none" stroke="#1a1a1a" stroke-width="1.2"/>
<circle cx="172.4" cy="424.6" r="1.6" fill="none" stroke="#1a1a1a" stroke-width="1.2"/>
<circle cx="167.7" cy="424.6" r="1.6" fill="none" stroke="#1a1a1a" stroke-width="1.2"/>
<circle cx="163.6" cy="425.5" r="1.6" fill="none" stroke="#1a1a1a" stroke-width="1.2"/>
<circle cx="157.9" cy="423.7" r="1.6" fill="none" stroke="#1a1a1a" stroke-width="1.2"/>
<circle cx="161.4" cy="425.7" r="1.6" fill="none" stroke="#1a1a1a" stroke-width="1.2"/>
<circle cx="164.0" cy="424.8" r="1.6" fill="none" stroke="#1a1a1a" stroke-width="1.2"/>
<circle cx="165.1" cy="424.0" r="1.6" fill="none" stroke="#1a1a1a" stroke-width="1.2"/>
<circle cx="154.9" cy="424.4" r="1.6" fill="none" stroke="#1a1a1a" stroke-width="1.2"/>
<circle cx="168.9" cy="424.0" r="1.6" fill="none" stroke="#1a1a1a" stroke-width="1.2"/>
<circle cx="163.6" cy="426.0" r="1.6" fill="none" stroke="#1a1a1a" stroke-width="1.2"/>
<circle cx="158.3" cy="424.6" r="1.6" fill="none" stroke="#1a1a1a" stroke-width="1.2"/>
<line x1="48.10" y1="416.40" x2="172.00" y2="423.00" stroke="#444" stroke-width="1.0"/>
<path d="M298.8 419.7L302.6 423.5M302.6 419.7L298.8 423.5" stroke="#1a1a1a" stroke-width="1.1"/>
<path d="M313.9 418.8L317.7 422.6M317.7 418.8L313.9 422.6" stroke="#1a1a1a" stroke-width="1.1"/>
<path d="M337.0 416.3L340.8 420.1M340.8 416.3L337.0 420.1" stroke="#1a1a1a" stroke-width="1.1"/>
<path d="M338.6 418.6L342.4 422.4M342.4 418.6L338.6 422.4" stroke="#1a1a1a" stroke-width="1.1"/>
<path d="M334.4 421.8L338.2 425.6M338.2 421.8L334.4 425.6" stroke="#1a1a1a" stroke-width="1.1"/>
<path d="M334.4 424.4L338.2 428.2M338.2 424.4L334.4 428.2" stroke="#1a1a1a" stroke-width="1.1"/>
<path d="M343.9 413.4L347.7 417.2M347.7 413.4L343.9 417.2" stroke="#1a1a1a" stroke-width="1.1"/>
<path d="M348.1 413.4L351.9 417.2M351.9 413.4L348.1 417.2" stroke="#1a1a1a" stroke-width="1.1"/>
<path d="M348.6 416.5L352.4 420.3M352.4 416.5L348.6 420.3" stroke="#1a1a1a" stroke-width="1.1"/>
<path d="M344.9 416.5L348.7 420.3M348.7 416.5L344.9 420.3" stroke="#1a1a1a" stroke-width="1.1"/>
<path d="M340.7 419.7L344.5 423.5M344.5 419.7L340.7 423.5" stroke="#1a1a1a" stroke-width="1.1"/>
<path d="M351.3 419.7L355.1 423.5M355.1 419.7L351.3 423.5" stroke="#1a1a1a" stroke-width="1.1"/>
<path d="M356.5 420.7L360.3 424.5M360.3 420.7L356.5 424.5" stroke="#1a1a1a" stroke-width="1.1"/>
<path d="M360.7 423.9L364.5 427.7M364.5 423.9L360.7 427.7" stroke="#1a1a1a" stroke-width="1.1"/>
<path d="M347.7 423.6L351.5 427.4M351.5 423.6L347.7 427.4" stroke="#1a1a1a" stroke-width="1.1"/>
<path d="M344.2 423.9L348.0 427.7M348.0 423.9L344.2 427.7" stroke="#1a1a1a" stroke-width="1.1"/>
<path d="M342.3 423.9L346.1 427.7M346.1 423.9L342.3 427.7" stroke="#1a1a1a" stroke-width="1.1"/>
<path d="M353.7 421.2L357.5 425.0M357.5 421.2L353.7 425.0" stroke="#1a1a1a" stroke-width="1.1"/>
<path d="M350.9 422.6L354.7 426.4M354.7 422.6L350.9 426.4" stroke="#1a1a1a" stroke-width="1.1"/>
<path d="M359.8 422.4L363.6 426.2M363.6 422.4L359.8 426.2" stroke="#1a1a1a" stroke-width="1.1"/>
<path d="M343.5 422.1L347.3 425.9M347.3 422.1L343.5 425.9" stroke="#1a1a1a" stroke-width="1.1"/>
<path d="M347.1 424.8L350.9 428.6M350.9 424.8L347.1 428.6" stroke="#1a1a1a" stroke-width="1.1"/>
<path d="M343.7 421.6L347.5 425.4M347.5 421.6L343.7 425.4" stroke="#1a1a1a" stroke-width="1.1"/>
<path d="M352.0 423.0L355.8 426.8M355.8 423.0L352.0 426.8" stroke="#1a1a1a" stroke-width="1.1"/>
<path d="M346.9 421.5L350.7 425.3M350.7 421.5L346.9 425.3" stroke="#1a1a1a" stroke-width="1.1"/>
<path d="M358.2 423.5L362.0 427.3M362.0 423.5L358.2 427.3" stroke="#1a1a1a" stroke-width="1.1"/>
<path d="M343.9 424.1L347.7 427.9M347.7 424.1L343.9 427.9" stroke="#1a1a1a" stroke-width="1.1"/>
<path d="M355.2 421.5L359.0 425.3M359.0 421.5L355.2 425.3" stroke="#1a1a1a" stroke-width="1.1"/>
<path d="M353.2 421.6L357.0 425.4M357.0 421.6L353.2 425.4" stroke="#1a1a1a" stroke-width="1.1"/>
<path d="M340.0 422.1L343.8 425.9M343.8 422.1L340.0 425.9" stroke="#1a1a1a" stroke-width="1.1"/>
<path d="M346.5 422.3L350.3 426.1M350.3 422.3L346.5 426.1" stroke="#1a1a1a" stroke-width="1.1"/>
<path d="M353.3 424.3L357.1 428.1M357.1 424.3L353.3 428.1" stroke="#1a1a1a" stroke-width="1.1"/>
<path d="M345.8 421.4L349.6 425.2M349.6 421.4L345.8 425.2" stroke="#1a1a1a" stroke-width="1.1"/>
<path d="M352.8 423.0L356.6 426.8M356.6 423.0L352.8 426.8" stroke="#1a1a1a" stroke-width="1.1"/>
<path d="M353.9 421.0L357.7 424.8M357.7 421.0L353.9 424.8" stroke="#1a1a1a" stroke-width="1.1"/>
<path d="M352.3 423.7L356.1 427.5M356.1 423.7L352.3 427.5" stroke="#1a1a1a" stroke-width="1.1"/>
<path d="M341.2 422.4L345.0 426.2M345.0 422.4L341.2 426.2" stroke="#1a1a1a" stroke-width="1.1"/>
<path d="M359.1 423.5L362.9 427.3M362.9 423.5L359.1 427.3" stroke="#1a1a1a" stroke-width="1.1"/>
<path d="M349.1 424.1L352.9 427.9M352.9 424.1L349.1 427.9" stroke="#1a1a1a" stroke-width="1.1"/>
<path d="M348.9 424.1L352.7 427.9M352.7 424.1L348.9 427.9" stroke="#1a1a1a" stroke-width="1.1"/>
<path d="M351.5 421.1L355.3 424.9M355.3 421.1L351.5 424.9" stroke="#1a1a1a" stroke-width="1.1"/>
<path d="M341.7 421.5L345.5 425.3M345.5 421.5L341.7 425.3" stroke="#1a1a1a" stroke-width="1.1"/>
<path d="M346.5 423.7L350.3 427.5M350.3 423.7L346.5 427.5" stroke="#1a1a1a" stroke-width="1.1"/>
<path d="M357.9 422.7L361.7 426.5M361.7 422.7L357.9 426.5" stroke="#1a1a1a" stroke-width="1.1"/>
<path d="M350.1 424.1L353.9 427.9M353.9 424.1L350.1 427.9" stroke="#1a1a1a" stroke-width="1.1"/>
<path d="M345.2 422.2L349.0 426.0M349.0 422.2L345.2 426.0" stroke="#1a1a1a" stroke-width="1.1"/>
<path d="M352.6 423.4L356.4 427.2M356.4 423.4L352.6 427.2" stroke="#1a1a1a" stroke-width="1.1"/>
<path d="M342.1 423.8L345.9 427.6M345.9 423.8L342.1 427.6" stroke="#1a1a1a" stroke-width="1.1"/>
<path d="M356.0 421.7L359.8 425.5M359.8 421.7L356.0 425.5" stroke="#1a1a1a" stroke-width="1.1"/>
<path d="M347.4 421.8L351.2 425.6M351.2 421.8L347.4 425.6" stroke="#1a1a1a" stroke-width="1.1"/>
<path d="M340.2 423.3L344.0 427.1M344.0 423.3L340.2 427.1" stroke="#1a1a1a" stroke-width="1.1"/>
<path d="M343.6 421.5L347.4 425.3M347.4 421.5L343.6 425.3" stroke="#1a1a1a" stroke-width="1.1"/>
<path d="M357.2 421.9L361.0 425.7M361.0 421.9L357.2 425.7" stroke="#1a1a1a" stroke-width="1.1"/>
<path d="M343.1 422.6L346.9 426.4M346.9 422.6L343.1 426.4" stroke="#1a1a1a" stroke-width="1.1"/>
<circle cx="82.9" cy="490.8" r="1.6" fill="none" stroke="#1a1a1a" stroke-width="1.2"/>
<circle cx="80.5" cy="535.4" r="1.6" fill="none" stroke="#1a1a1a" stroke-width="1.2"/>
<circle cx="111.6" cy="527.6" r="1.6" fill="none" stroke="#1a1a1a" stroke-width="1.2"/>
<circle cx="118.8" cy="504.0" r="1.6" fill="none" stroke="#1a1a1a" stroke-width="1.2"/>
<circle cx="165.8" cy="533.8" r="1.6" fill="none" stroke="#1a1a1a" stroke-width="1.2"/>
<circle cx="70.1" cy="566.0" r="1.6" fill="none" stroke="#1a1a1a" stroke-width="1.2"/>
<circle cx="80.3" cy="573.9" r="1.6" fill="none" stroke="#1a1a1a" stroke-width="1.2"/>
<circle cx="128.2" cy="550.5" r="1.6" fill="none" stroke="#1a1a1a" stroke-width="1.2"/>
<circle cx="143.2" cy="551.1" r="1.6" fill="none" stroke="#1a1a1a" stroke-width="1.2"/>
<circle cx="51.1" cy="577.2" r="1.6" fill="none" stroke="#1a1a1a" stroke-width="1.2"/>
<circle cx="53.4" cy="579.9" r="1.6" fill="none" stroke="#1a1a1a" stroke-width="1.2"/>
<circle cx="53.1" cy="578.1" r="1.6" fill="none" stroke="#1a1a1a" stroke-width="1.2"/>
<circle cx="55.3" cy="579.3" r="1.6" fill="none" stroke="#1a1a1a" stroke-width="1.2"/>
<circle cx="55.9" cy="579.8" r="1.6" fill="none" stroke="#1a1a1a" stroke-width="1.2"/>
<circle cx="56.6" cy="578.4" r="1.6" fill="none" stroke="#1a1a1a" stroke-width="1.2"/>
<circle cx="48.4" cy="576.7" r="1.6" fill="none" stroke="#1a1a1a" stroke-width="1.2"/>
<circle cx="55.2" cy="576.8" r="1.6" fill="none" stroke="#1a1a1a" stroke-width="1.2"/>
<circle cx="54.4" cy="579.5" r="1.6" fill="none" stroke="#1a1a1a" stroke-width="1.2"/>
<circle cx="56.6" cy="577.1" r="1.6" fill="none" stroke="#1a1a1a" stroke-width="1.2"/>
<circle cx="55.2" cy="580.2" r="1.6" fill="none" stroke="#1a1a1a" stroke-width="1.2"/>
<circle cx="48.0" cy="579.8" r="1.6" fill="none" stroke="#1a1a1a" stroke-width="1.2"/>
<circle cx="47.1" cy="577.7" r="1.6" fill="none" stroke="#1a1a1a" stroke-width="1.2"/>
<circle cx="53.9" cy="579.4" r="1.6" fill="none" stroke="#1a1a1a" stroke-width="1.2"/>
<circle cx="56.7" cy="577.6" r="1.6" fill="none" stroke="#1a1a1a" stroke-width="1.2"/>
<circle cx="61.4" cy="577.7" r="1.6" fill="none" stroke="#1a1a1a" stroke-width="1.2"/>
<circle cx="63.5" cy="579.7" r="1.6" fill="none" stroke="#1a1a1a" stroke-width="1.2"/>
<circle cx="65.5" cy="579.7" r="1.6" fill="none" stroke="#1a1a1a" stroke-width="1.2"/>
<circle cx="69.5" cy="579.3" r="1.6" fill="none" stroke="#1a1a1a" stroke-width="1.2"/>
<circle cx="72.0" cy="579.3" r="1.6" fill="none" stroke="#1a1a1a" stroke-width="1.2"/>
<circle cx="75.6" cy="578.9" r="1.6" fill="none" stroke="#1a1a1a" stroke-width="1.2"/>
<circle cx="80.1" cy="578.8" r="1.6" fill="none" stroke="#1a1a1a" stroke-width="1.2"/>
<circle cx="87.0" cy="579.9" r="1.6" fill="none" stroke="#1a1a1a" stroke-width="1.2"/>
<circle cx="91.0" cy="576.9" r="1.6" fill="none" stroke="#1a1a1a" stroke-width="1.2"/>
<circle cx="93.5" cy="578.9" r="1.6" fill="none" stroke="#1a1a1a" stroke-width="1.2"/>
<circle cx="95.9" cy="578.1" r="1.6" fill="none" stroke="#1a1a1a" stroke-width="1.2"/>
<circle cx="99.2" cy="577.7" r="1.6" fill="none" stroke="#1a1a1a" stroke-width="1.2"/>
<circle cx="101.6" cy="578.9" r="1.6" fill="none" stroke="#1a1a1a" stroke-width="1.2"/>
<circle cx="95.1" cy="580.1" r="1.6" fill="none" stroke="#1a1a1a" stroke-width="1.2"/>
<circle cx="98.3" cy="579.7" r="1.6" fill="none" stroke="#1a1a1a" stroke-width="1.2"/>
<circle cx="100.0" cy="578.8" r="1.6" fill="none" stroke="#1a1a1a" stroke-width="1.2"/>
<circle cx="101.9" cy="579.9" r="1.6" fill="none" stroke="#1a1a1a" stroke-width="1.2"/>
<circle cx="103.8" cy="578.8" r="1.6" fill="none" stroke="#1a1a1a" stroke-width="1.2"/>
<circle cx="105.7" cy="579.9" r="1.6" fill="none" stroke="#1a1a1a" stroke-width="1.2"/>
<circle cx="107.6" cy="578.8" r="1.6" fill="none" stroke="#1a1a1a" stroke-width="1.2"/>
<circle cx="109.5" cy="579.9" r="1.6" fill="none" stroke="#1a1a1a" stroke-width="1.2"/>
<circle cx="111.4" cy="578.8" r="1.6" fill="none" stroke="#1a1a1a" stroke-width="1.2"/>
<circle cx="113.3" cy="579.9" r="1.6" fill="none" stroke="#1a1a1a" stroke-width="1.2"/>
<circle cx="115.2" cy="578.8" r="1.6" fill="none" stroke="#1a1a1a" stroke-width="1.2"/>
<circle cx="117.1" cy="579.9" r="1.6" fill="none" stroke="#1a1a1a" stroke-width="1.2"/>
<circle cx="119.0" cy="578.8" r="1.6" fill="none" stroke="#1a1a1a" stroke-width="1.2"/>
<circle cx="120.9" cy="579.9" r="1.6" fill="none" stroke="#1a1a1a" stroke-width="1.2"/>
<circle cx="122.8" cy="578.8" r="1.6" fill="none" stroke="#1a1a1a" stroke-width="1.2"/>
<circle cx="124.7" cy="579.9" r="1.6" fill="none" stroke="#1a1a1a" stroke-width="1.2"/>
<circle cx="126.6" cy="578.8" r="1.6" fill="none" stroke="#1a1a1a" stroke-width="1.2"/>
<circle cx="128.5" cy="579.9" r="1.6" fill="none" stroke="#1a1a1a" stroke-width="1.2"/>
<circle cx="130.4" cy="578.8" r="1.6" fill="none" stroke="#1a1a1a" stroke-width="1.2"/>
<circle cx="132.3" cy="579.9" r="1.6" fill="none" stroke="#1a1a1a" stroke-width="1.2"/>
<circle cx="134.2" cy="578.8" r="1.6" fill="none" stroke="#1a1a1a" stroke-width="1.2"/>
<circle cx="136.1" cy="579.9" r="1.6" fill="none" stroke="#1a1a1a" stroke-width="1.2"/>
<circle cx="138.0" cy="578.8" r="1.6" fill="none" stroke="#1a1a1a" stroke-width="1.2"/>
<circle cx="139.9" cy="579.9" r="1.6" fill="none" stroke="#1a1a1a" stroke-width="1.2"/>
<circle cx="141.8" cy="578.8" r="1.6" fill="none" stroke="#1a1a1a" stroke-width="1.2"/>
<circle cx="143.7" cy="579.9" r="1.6" fill="none" stroke="#1a1a1a" stroke-width="1.2"/>
<circle cx="145.6" cy="578.8" r="1.6" fill="none" stroke="#1a1a1a" stroke-width="1.2"/>
<circle cx="147.5" cy="579.9" r="1.6" fill="none" stroke="#1a1a1a" stroke-width="1.2"/>
<circle cx="149.4" cy="578.8" r="1.6" fill="none" stroke="#1a1a1a" stroke-width="1.2"/>
<circle cx="151.3" cy="579.9" r="1.6" fill="none" stroke="#1a1a1a" stroke-width="1.2"/>
<circle cx="153.2" cy="578.8" r="1.6" fill="none" stroke="#1a1a1a" stroke-width="1.2"/>
<circle cx="155.1" cy="579.9" r="1.6" fill="none" stroke="#1a1a1a" stroke-width="1.2"/>
<circle cx="157.0" cy="578.8" r="1.6" fill="none" stroke="#1a1a1a" stroke-width="1.2"/>
<circle cx="158.9" cy="579.9" r="1.6" fill="none" stroke="#1a1a1a" stroke-width="1.2"/>
<circle cx="160.8" cy="578.8" r="1.6" fill="none" stroke="#1a1a1a" stroke-width="1.2"/>
<circle cx="162.7" cy="579.9" r="1.6" fill="none" stroke="#1a1a1a" stroke-width="1.2"/>
<circle cx="164.6" cy="578.8" r="1.6" fill="none" stroke="#1a1a1a" stroke-width="1.2"/>
<circle cx="166.5" cy="579.9" r="1.6" fill="none" stroke="#1a1a1a" stroke-width="1.2"/>
<circle cx="168.4" cy="578.8" r="1.6" fill="none" stroke="#1a1a1a" stroke-width="1.2"/>
<circle cx="170.3" cy="579.9" r="1.6" fill="none" stroke="#1a1a1a" stroke-width="1.2"/>
<circle cx="148.4" cy="575.3" r="1.6" fill="none" stroke="#1a1a1a" stroke-width="1.2"/>
<circle cx="157.4" cy="575.3" r="1.6" fill="none" stroke="#1a1a1a" stroke-width="1.2"/>
<circle cx="168.2" cy="576.3" r="1.6" fill="none" stroke="#1a1a1a" stroke-width="1.2"/>
<circle cx="153.9" cy="579.1" r="1.6" fill="none" stroke="#1a1a1a" stroke-width="1.2"/>
<circle cx="164.4" cy="580.3" r="1.6" fill="none" stroke="#1a1a1a" stroke-width="1.2"/>
<circle cx="160.1" cy="579.2" r="1.6" fill="none" stroke="#1a1a1a" stroke-width="1.2"/>
<circle cx="151.4" cy="579.0" r="1.6" fill="none" stroke="#1a1a1a" stroke-width="1.2"/>
<circle cx="158.4" cy="580.5" r="1.6" fill="none" stroke="#1a1a1a" stroke-width="1.2"/>
<circle cx="161.9" cy="580.1" r="1.6" fill="none" stroke="#1a1a1a" stroke-width="1.2"/>
<circle cx="159.7" cy="578.0" r="1.6" fill="none" stroke="#1a1a1a" stroke-width="1.2"/>
<circle cx="168.0" cy="580.4" r="1.6" fill="none" stroke="#1a1a1a" stroke-width="1.2"/>
<circle cx="158.5" cy="577.7" r="1.6" fill="none" stroke="#1a1a1a" stroke-width="1.2"/>
<circle cx="161.2" cy="579.2" r="1.6" fill="none" stroke="#1a1a1a" stroke-width="1.2"/>
<circle cx="166.4" cy="579.5" r="1.6" fill="none" stroke="#1a1a1a" stroke-width="1.2"/>
<circle cx="161.1" cy="579.5" r="1.6" fill="none" stroke="#1a1a1a" stroke-width="1.2"/>
<circle cx="158.5" cy="577.6" r="1.6" fill="none" stroke="#1a1a1a" stroke-width="1.2"/>
<circle cx="167.8" cy="578.5" r="1.6" fill="none" stroke="#1a1a1a" stroke-width="1.2"/>
<circle cx="168.8" cy="579.3" r="1.6" fill="none" stroke="#1a1a1a" stroke-width="1.2"/>
<circle cx="162.7" cy="580.8" r="1.6" fill="none" stroke="#1a1a1a" stroke-width="1.2"/>
<circle cx="164.6" cy="577.7" r="1.6" fill="none" stroke="#1a1a1a" stroke-width="1.2"/>
<circle cx="163.5" cy="580.2" r="1.6" fill="none" stroke="#1a1a1a" stroke-width="1.2"/>
<circle cx="169.0" cy="578.6" r="1.6" fill="none" stroke="#1a1a1a" stroke-width="1.2"/>
<circle cx="161.6" cy="579.9" r="1.6" fill="none" stroke="#1a1a1a" stroke-width="1.2"/>
<circle cx="154.3" cy="580.5" r="1.6" fill="none" stroke="#1a1a1a" stroke-width="1.2"/>
<circle cx="162.8" cy="578.7" r="1.6" fill="none" stroke="#1a1a1a" stroke-width="1.2"/>
<line x1="48.10" y1="573.20" x2="172.00" y2="578.40" stroke="#333" stroke-width="1.0"/>
<path d="M313.9 576.6L317.7 580.4M317.7 576.6L313.9 580.4" stroke="#1a1a1a" stroke-width="1.1"/>
<path d="M334.3 573.6L338.1 577.4M338.1 573.6L334.3 577.4" stroke="#1a1a1a" stroke-width="1.1"/>
<path d="M359.4 544.5L363.2 548.3M363.2 544.5L359.4 548.3" stroke="#1a1a1a" stroke-width="1.1"/>
<path d="M354.0 558.3L357.8 562.1M357.8 558.3L354.0 562.1" stroke="#1a1a1a" stroke-width="1.1"/>
<path d="M354.7 569.6L358.5 573.4M358.5 569.6L354.7 573.4" stroke="#1a1a1a" stroke-width="1.1"/>
<path d="M348.4 573.9L352.2 577.7M352.2 573.9L348.4 577.7" stroke="#1a1a1a" stroke-width="1.1"/>
<path d="M361.1 578.3L364.9 582.1M364.9 578.3L361.1 582.1" stroke="#1a1a1a" stroke-width="1.1"/>
<path d="M350.6 574.6L354.4 578.4M354.4 574.6L350.6 578.4" stroke="#1a1a1a" stroke-width="1.1"/>
<path d="M339.7 578.2L343.5 582.0M343.5 578.2L339.7 582.0" stroke="#1a1a1a" stroke-width="1.1"/>
<path d="M337.6 579.2L341.4 583.0M341.4 579.2L337.6 583.0" stroke="#1a1a1a" stroke-width="1.1"/>
<path d="M339.4 578.4L343.2 582.2M343.2 578.4L339.4 582.2" stroke="#1a1a1a" stroke-width="1.1"/>
<path d="M356.8 577.9L360.6 581.7M360.6 577.9L356.8 581.7" stroke="#1a1a1a" stroke-width="1.1"/>
<path d="M347.3 578.6L351.1 582.4M351.1 578.6L347.3 582.4" stroke="#1a1a1a" stroke-width="1.1"/>
<path d="M348.3 577.8L352.1 581.6M352.1 577.8L348.3 581.6" stroke="#1a1a1a" stroke-width="1.1"/>
<path d="M345.5 579.1L349.3 582.9M349.3 579.1L345.5 582.9" stroke="#1a1a1a" stroke-width="1.1"/>
<path d="M338.0 578.5L341.8 582.3M341.8 578.5L338.0 582.3" stroke="#1a1a1a" stroke-width="1.1"/>
<path d="M342.8 579.1L346.6 582.9M346.6 579.1L342.8 582.9" stroke="#1a1a1a" stroke-width="1.1"/>
<path d="M338.4 579.0L342.2 582.8M342.2 579.0L338.4 582.8" stroke="#1a1a1a" stroke-width="1.1"/>
<path d="M344.6 579.2L348.4 583.0M348.4 579.2L344.6 583.0" stroke="#1a1a1a" stroke-width="1.1"/>
<path d="M345.4 579.4L349.2 583.2M349.2 579.4L345.4 583.2" stroke="#1a1a1a" stroke-width="1.1"/>
<path d="M354.3 579.2L358.1 583.0M358.1 579.2L354.3 583.0" stroke="#1a1a1a" stroke-width="1.1"/>
<path d="M348.4 577.2L352.2 581.0M352.2 577.2L348.4 581.0" stroke="#1a1a1a" stroke-width="1.1"/>
<path d="M358.3 578.1L362.1 581.9M362.1 578.1L358.3 581.9" stroke="#1a1a1a" stroke-width="1.1"/>
<path d="M334.0 578.0L337.8 581.8M337.8 578.0L334.0 581.8" stroke="#1a1a1a" stroke-width="1.1"/>
<path d="M344.0 577.3L347.8 581.1M347.8 577.3L344.0 581.1" stroke="#1a1a1a" stroke-width="1.1"/>
<path d="M356.2 578.3L360.0 582.1M360.0 578.3L356.2 582.1" stroke="#1a1a1a" stroke-width="1.1"/>
<path d="M338.1 577.8L341.9 581.6M341.9 577.8L338.1 581.6" stroke="#1a1a1a" stroke-width="1.1"/>
<path d="M344.9 577.1L348.7 580.9M348.7 577.1L344.9 580.9" stroke="#1a1a1a" stroke-width="1.1"/>
<path d="M352.7 578.7L356.5 582.5M356.5 578.7L352.7 582.5" stroke="#1a1a1a" stroke-width="1.1"/>
<path d="M356.9 578.6L360.7 582.4M360.7 578.6L356.9 582.4" stroke="#1a1a1a" stroke-width="1.1"/>
<path d="M347.1 578.3L350.9 582.1M350.9 578.3L347.1 582.1" stroke="#1a1a1a" stroke-width="1.1"/>
<path d="M354.4 579.2L358.2 583.0M358.2 579.2L354.4 583.0" stroke="#1a1a1a" stroke-width="1.1"/>
<path d="M334.3 578.0L338.1 581.8M338.1 578.0L334.3 581.8" stroke="#1a1a1a" stroke-width="1.1"/>
<path d="M335.8 578.5L339.6 582.3M339.6 578.5L335.8 582.3" stroke="#1a1a1a" stroke-width="1.1"/>
<path d="M348.1 578.4L351.9 582.2M351.9 578.4L348.1 582.2" stroke="#1a1a1a" stroke-width="1.1"/>
<path d="M355.0 577.4L358.8 581.2M358.8 577.4L355.0 581.2" stroke="#1a1a1a" stroke-width="1.1"/>
<path d="M351.8 578.5L355.6 582.3M355.6 578.5L351.8 582.3" stroke="#1a1a1a" stroke-width="1.1"/>
<path d="M334.9 578.1L338.7 581.9M338.7 578.1L334.9 581.9" stroke="#1a1a1a" stroke-width="1.1"/>
<path d="M347.0 578.5L350.8 582.3M350.8 578.5L347.0 582.3" stroke="#1a1a1a" stroke-width="1.1"/>
<path d="M358.2 578.4L362.0 582.2M362.0 578.4L358.2 582.2" stroke="#1a1a1a" stroke-width="1.1"/>
<path d="M355.8 577.6L359.6 581.4M359.6 577.6L355.8 581.4" stroke="#1a1a1a" stroke-width="1.1"/>
<path d="M345.6 577.1L349.4 580.9M349.4 577.1L345.6 580.9" stroke="#1a1a1a" stroke-width="1.1"/>
<path d="M349.6 578.0L353.4 581.8M353.4 578.0L349.6 581.8" stroke="#1a1a1a" stroke-width="1.1"/>
<path d="M353.2 577.0L357.0 580.8M357.0 577.0L353.2 580.8" stroke="#1a1a1a" stroke-width="1.1"/>
<path d="M345.2 579.6L349.0 583.4M349.0 579.6L345.2 583.4" stroke="#1a1a1a" stroke-width="1.1"/>
<path d="M350.5 578.9L354.3 582.7M354.3 578.9L350.5 582.7" stroke="#1a1a1a" stroke-width="1.1"/>
<path d="M347.5 578.2L351.3 582.0M351.3 578.2L347.5 582.0" stroke="#1a1a1a" stroke-width="1.1"/>
<path d="M351.2 578.7L355.0 582.5M355.0 578.7L351.2 582.5" stroke="#1a1a1a" stroke-width="1.1"/>
<circle cx="440.8" cy="99.6" r="1.6" fill="none" stroke="#1a1a1a" stroke-width="1.2"/>
<circle cx="441.8" cy="102.5" r="1.6" fill="none" stroke="#1a1a1a" stroke-width="1.2"/>
<circle cx="444.7" cy="98.0" r="1.6" fill="none" stroke="#1a1a1a" stroke-width="1.2"/>
<circle cx="472.9" cy="96.8" r="1.6" fill="none" stroke="#1a1a1a" stroke-width="1.2"/>
<circle cx="487.2" cy="100.6" r="1.6" fill="none" stroke="#1a1a1a" stroke-width="1.2"/>
<circle cx="502.9" cy="24.7" r="1.6" fill="none" stroke="#1a1a1a" stroke-width="1.2"/>
<circle cx="502.9" cy="79.5" r="1.6" fill="none" stroke="#1a1a1a" stroke-width="1.2"/>
<circle cx="519.4" cy="53.4" r="1.6" fill="none" stroke="#1a1a1a" stroke-width="1.2"/>
<circle cx="514.1" cy="82.6" r="1.6" fill="none" stroke="#1a1a1a" stroke-width="1.2"/>
<circle cx="513.3" cy="87.6" r="1.6" fill="none" stroke="#1a1a1a" stroke-width="1.2"/>
<circle cx="507.3" cy="94.4" r="1.6" fill="none" stroke="#1a1a1a" stroke-width="1.2"/>
<circle cx="516.2" cy="102.5" r="1.6" fill="none" stroke="#1a1a1a" stroke-width="1.2"/>
<circle cx="517.8" cy="103.8" r="1.6" fill="none" stroke="#1a1a1a" stroke-width="1.2"/>
<circle cx="519.4" cy="102.5" r="1.6" fill="none" stroke="#1a1a1a" stroke-width="1.2"/>
<circle cx="521.1" cy="103.3" r="1.6" fill="none" stroke="#1a1a1a" stroke-width="1.2"/>
<circle cx="517.0" cy="105.0" r="1.6" fill="none" stroke="#1a1a1a" stroke-width="1.2"/>
<circle cx="543.4" cy="102.5" r="1.6" fill="none" stroke="#1a1a1a" stroke-width="1.2"/>
<circle cx="546.2" cy="100.9" r="1.6" fill="none" stroke="#1a1a1a" stroke-width="1.2"/>
<circle cx="547.8" cy="97.7" r="1.6" fill="none" stroke="#1a1a1a" stroke-width="1.2"/>
<circle cx="551.9" cy="95.7" r="1.6" fill="none" stroke="#1a1a1a" stroke-width="1.2"/>
<circle cx="547.0" cy="103.3" r="1.6" fill="none" stroke="#1a1a1a" stroke-width="1.2"/>
<circle cx="548.6" cy="102.5" r="1.6" fill="none" stroke="#1a1a1a" stroke-width="1.2"/>
<circle cx="553.8" cy="103.3" r="1.6" fill="none" stroke="#1a1a1a" stroke-width="1.2"/>
<circle cx="559.2" cy="104.1" r="1.6" fill="none" stroke="#1a1a1a" stroke-width="1.2"/>
<circle cx="565.0" cy="102.6" r="1.6" fill="none" stroke="#1a1a1a" stroke-width="1.2"/>
<circle cx="567.8" cy="101.5" r="1.6" fill="none" stroke="#1a1a1a" stroke-width="1.2"/>
<circle cx="563.4" cy="103.2" r="1.6" fill="none" stroke="#1a1a1a" stroke-width="1.2"/>
<circle cx="564.9" cy="101.7" r="1.6" fill="none" stroke="#1a1a1a" stroke-width="1.2"/>
<circle cx="564.1" cy="101.5" r="1.6" fill="none" stroke="#1a1a1a" stroke-width="1.2"/>
<circle cx="562.0" cy="102.9" r="1.6" fill="none" stroke="#1a1a1a" stroke-width="1.2"/>
<circle cx="568.5" cy="103.2" r="1.6" fill="none" stroke="#1a1a1a" stroke-width="1.2"/>
<circle cx="566.2" cy="101.6" r="1.6" fill="none" stroke="#1a1a1a" stroke-width="1.2"/>
<circle cx="564.4" cy="100.7" r="1.6" fill="none" stroke="#1a1a1a" stroke-width="1.2"/>
<circle cx="567.1" cy="101.4" r="1.6" fill="none" stroke="#1a1a1a" stroke-width="1.2"/>
<circle cx="566.1" cy="103.5" r="1.6" fill="none" stroke="#1a1a1a" stroke-width="1.2"/>
<circle cx="566.2" cy="100.8" r="1.6" fill="none" stroke="#1a1a1a" stroke-width="1.2"/>
<circle cx="566.9" cy="101.2" r="1.6" fill="none" stroke="#1a1a1a" stroke-width="1.2"/>
<circle cx="564.2" cy="100.6" r="1.6" fill="none" stroke="#1a1a1a" stroke-width="1.2"/>
<circle cx="561.0" cy="101.7" r="1.6" fill="none" stroke="#1a1a1a" stroke-width="1.2"/>
<circle cx="560.6" cy="101.8" r="1.6" fill="none" stroke="#1a1a1a" stroke-width="1.2"/>
<circle cx="564.3" cy="100.5" r="1.6" fill="none" stroke="#1a1a1a" stroke-width="1.2"/>
<circle cx="563.6" cy="100.3" r="1.6" fill="none" stroke="#1a1a1a" stroke-width="1.2"/>
<line x1="440.50" y1="87.10" x2="566.00" y2="101.50" stroke="#1a1a1a" stroke-width="1.15"/>
<path d="M746.4 41.8L750.2 45.6M750.2 41.8L746.4 45.6" stroke="#1a1a1a" stroke-width="1.1"/>
<path d="M727.6 101.9L731.4 105.7M731.4 101.9L727.6 105.7" stroke="#1a1a1a" stroke-width="1.1"/>
<path d="M735.1 100.6L738.9 104.4M738.9 100.6L735.1 104.4" stroke="#1a1a1a" stroke-width="1.1"/>
<path d="M738.3 97.4L742.1 101.2M742.1 97.4L738.3 101.2" stroke="#1a1a1a" stroke-width="1.1"/>
<path d="M740.6 99.3L744.4 103.1M744.4 99.3L740.6 103.1" stroke="#1a1a1a" stroke-width="1.1"/>
<path d="M752.4 99.8L756.2 103.6M756.2 99.8L752.4 103.6" stroke="#1a1a1a" stroke-width="1.1"/>
<path d="M745.3 102.6L749.1 106.4M749.1 102.6L745.3 106.4" stroke="#1a1a1a" stroke-width="1.1"/>
<path d="M744.8 101.3L748.6 105.1M748.6 101.3L744.8 105.1" stroke="#1a1a1a" stroke-width="1.1"/>
<path d="M743.9 101.2L747.7 105.0M747.7 101.2L743.9 105.0" stroke="#1a1a1a" stroke-width="1.1"/>
<path d="M745.5 102.2L749.3 106.0M749.3 102.2L745.5 106.0" stroke="#1a1a1a" stroke-width="1.1"/>
<path d="M744.8 101.6L748.6 105.4M748.6 101.6L744.8 105.4" stroke="#1a1a1a" stroke-width="1.1"/>
<path d="M744.0 100.4L747.8 104.2M747.8 100.4L744.0 104.2" stroke="#1a1a1a" stroke-width="1.1"/>
<path d="M743.7 101.4L747.5 105.2M747.5 101.4L743.7 105.2" stroke="#1a1a1a" stroke-width="1.1"/>
<path d="M745.7 101.7L749.5 105.5M749.5 101.7L745.7 105.5" stroke="#1a1a1a" stroke-width="1.1"/>
<circle cx="472.9" cy="173.9" r="1.6" fill="none" stroke="#1a1a1a" stroke-width="1.2"/>
<circle cx="439.4" cy="192.9" r="1.6" fill="none" stroke="#1a1a1a" stroke-width="1.2"/>
<circle cx="472.4" cy="203.3" r="1.6" fill="none" stroke="#1a1a1a" stroke-width="1.2"/>
<circle cx="478.9" cy="225.4" r="1.6" fill="none" stroke="#1a1a1a" stroke-width="1.2"/>
<circle cx="475.4" cy="233.3" r="1.6" fill="none" stroke="#1a1a1a" stroke-width="1.2"/>
<circle cx="440.2" cy="239.8" r="1.6" fill="none" stroke="#1a1a1a" stroke-width="1.2"/>
<circle cx="467.1" cy="240.4" r="1.6" fill="none" stroke="#1a1a1a" stroke-width="1.2"/>
<circle cx="441.5" cy="251.4" r="1.6" fill="none" stroke="#1a1a1a" stroke-width="1.2"/>
<circle cx="445.8" cy="253.0" r="1.6" fill="none" stroke="#1a1a1a" stroke-width="1.2"/>
<circle cx="467.9" cy="254.8" r="1.6" fill="none" stroke="#1a1a1a" stroke-width="1.2"/>
<circle cx="480.6" cy="256.6" r="1.6" fill="none" stroke="#1a1a1a" stroke-width="1.2"/>
<circle cx="452.9" cy="256.2" r="1.6" fill="none" stroke="#1a1a1a" stroke-width="1.2"/>
<circle cx="442.3" cy="258.1" r="1.6" fill="none" stroke="#1a1a1a" stroke-width="1.2"/>
<circle cx="441.9" cy="257.4" r="1.6" fill="none" stroke="#1a1a1a" stroke-width="1.2"/>
<circle cx="447.0" cy="259.7" r="1.6" fill="none" stroke="#1a1a1a" stroke-width="1.2"/>
<circle cx="449.8" cy="257.8" r="1.6" fill="none" stroke="#1a1a1a" stroke-width="1.2"/>
<circle cx="454.9" cy="258.9" r="1.6" fill="none" stroke="#1a1a1a" stroke-width="1.2"/>
<circle cx="469.9" cy="258.5" r="1.6" fill="none" stroke="#1a1a1a" stroke-width="1.2"/>
<circle cx="480.6" cy="259.7" r="1.6" fill="none" stroke="#1a1a1a" stroke-width="1.2"/>
<circle cx="492.0" cy="261.7" r="1.6" fill="none" stroke="#1a1a1a" stroke-width="1.2"/>
<circle cx="440.3" cy="264.5" r="1.6" fill="none" stroke="#1a1a1a" stroke-width="1.2"/>
<circle cx="443.5" cy="265.3" r="1.6" fill="none" stroke="#1a1a1a" stroke-width="1.2"/>
<circle cx="445.8" cy="262.9" r="1.6" fill="none" stroke="#1a1a1a" stroke-width="1.2"/>
<circle cx="448.2" cy="262.1" r="1.6" fill="none" stroke="#1a1a1a" stroke-width="1.2"/>
<circle cx="450.6" cy="261.3" r="1.6" fill="none" stroke="#1a1a1a" stroke-width="1.2"/>
<circle cx="452.9" cy="261.3" r="1.6" fill="none" stroke="#1a1a1a" stroke-width="1.2"/>
<circle cx="455.3" cy="264.5" r="1.6" fill="none" stroke="#1a1a1a" stroke-width="1.2"/>
<circle cx="456.9" cy="266.8" r="1.6" fill="none" stroke="#1a1a1a" stroke-width="1.2"/>
<circle cx="460.0" cy="261.3" r="1.6" fill="none" stroke="#1a1a1a" stroke-width="1.2"/>
<circle cx="462.4" cy="262.1" r="1.6" fill="none" stroke="#1a1a1a" stroke-width="1.2"/>
<circle cx="464.0" cy="264.5" r="1.6" fill="none" stroke="#1a1a1a" stroke-width="1.2"/>
<circle cx="464.4" cy="266.8" r="1.6" fill="none" stroke="#1a1a1a" stroke-width="1.2"/>
<circle cx="468.7" cy="264.5" r="1.6" fill="none" stroke="#1a1a1a" stroke-width="1.2"/>
<circle cx="473.5" cy="262.1" r="1.6" fill="none" stroke="#1a1a1a" stroke-width="1.2"/>
<circle cx="475.0" cy="264.5" r="1.6" fill="none" stroke="#1a1a1a" stroke-width="1.2"/>
<circle cx="478.2" cy="263.7" r="1.6" fill="none" stroke="#1a1a1a" stroke-width="1.2"/>
<circle cx="481.4" cy="262.9" r="1.6" fill="none" stroke="#1a1a1a" stroke-width="1.2"/>
<circle cx="484.5" cy="263.7" r="1.6" fill="none" stroke="#1a1a1a" stroke-width="1.2"/>
<circle cx="486.1" cy="265.3" r="1.6" fill="none" stroke="#1a1a1a" stroke-width="1.2"/>
<circle cx="489.2" cy="263.7" r="1.6" fill="none" stroke="#1a1a1a" stroke-width="1.2"/>
<circle cx="441.9" cy="266.8" r="1.6" fill="none" stroke="#1a1a1a" stroke-width="1.2"/>
<circle cx="445.0" cy="266.0" r="1.6" fill="none" stroke="#1a1a1a" stroke-width="1.2"/>
<circle cx="449.0" cy="264.5" r="1.6" fill="none" stroke="#1a1a1a" stroke-width="1.2"/>
<circle cx="452.2" cy="263.7" r="1.6" fill="none" stroke="#1a1a1a" stroke-width="1.2"/>
<circle cx="453.7" cy="260.5" r="1.6" fill="none" stroke="#1a1a1a" stroke-width="1.2"/>
<circle cx="443.5" cy="263.2" r="1.6" fill="none" stroke="#1a1a1a" stroke-width="1.2"/>
<circle cx="442.7" cy="259.0" r="1.6" fill="none" stroke="#1a1a1a" stroke-width="1.2"/>
<circle cx="444.1" cy="265.2" r="1.6" fill="none" stroke="#1a1a1a" stroke-width="1.2"/>
<circle cx="449.6" cy="260.5" r="1.6" fill="none" stroke="#1a1a1a" stroke-width="1.2"/>
<circle cx="441.3" cy="260.5" r="1.6" fill="none" stroke="#1a1a1a" stroke-width="1.2"/>
<circle cx="439.4" cy="263.5" r="1.6" fill="none" stroke="#1a1a1a" stroke-width="1.2"/>
<circle cx="441.7" cy="258.5" r="1.6" fill="none" stroke="#1a1a1a" stroke-width="1.2"/>
<circle cx="451.4" cy="261.4" r="1.6" fill="none" stroke="#1a1a1a" stroke-width="1.2"/>
<circle cx="448.3" cy="259.5" r="1.6" fill="none" stroke="#1a1a1a" stroke-width="1.2"/>
<circle cx="441.1" cy="259.5" r="1.6" fill="none" stroke="#1a1a1a" stroke-width="1.2"/>
<circle cx="503.0" cy="252.5" r="1.6" fill="none" stroke="#1a1a1a" stroke-width="1.2"/>
<circle cx="538.5" cy="253.6" r="1.6" fill="none" stroke="#1a1a1a" stroke-width="1.2"/>
<circle cx="547.6" cy="255.8" r="1.6" fill="none" stroke="#1a1a1a" stroke-width="1.2"/>
<circle cx="510.1" cy="258.5" r="1.6" fill="none" stroke="#1a1a1a" stroke-width="1.2"/>
<circle cx="506.2" cy="259.7" r="1.6" fill="none" stroke="#1a1a1a" stroke-width="1.2"/>
<circle cx="525.9" cy="257.5" r="1.6" fill="none" stroke="#1a1a1a" stroke-width="1.2"/>
<circle cx="522.8" cy="259.7" r="1.6" fill="none" stroke="#1a1a1a" stroke-width="1.2"/>
<circle cx="535.4" cy="259.7" r="1.6" fill="none" stroke="#1a1a1a" stroke-width="1.2"/>
<circle cx="494.7" cy="262.9" r="1.6" fill="none" stroke="#1a1a1a" stroke-width="1.2"/>
<circle cx="498.7" cy="264.1" r="1.6" fill="none" stroke="#1a1a1a" stroke-width="1.2"/>
<circle cx="497.9" cy="266.8" r="1.6" fill="none" stroke="#1a1a1a" stroke-width="1.2"/>
<circle cx="507.0" cy="266.8" r="1.6" fill="none" stroke="#1a1a1a" stroke-width="1.2"/>
<circle cx="516.0" cy="267.2" r="1.6" fill="none" stroke="#1a1a1a" stroke-width="1.2"/>
<circle cx="519.6" cy="266.8" r="1.6" fill="none" stroke="#1a1a1a" stroke-width="1.2"/>
<circle cx="526.3" cy="266.8" r="1.6" fill="none" stroke="#1a1a1a" stroke-width="1.2"/>
<circle cx="531.0" cy="266.8" r="1.6" fill="none" stroke="#1a1a1a" stroke-width="1.2"/>
<circle cx="543.7" cy="267.2" r="1.6" fill="none" stroke="#1a1a1a" stroke-width="1.2"/>
<circle cx="509.7" cy="263.7" r="1.6" fill="none" stroke="#1a1a1a" stroke-width="1.2"/>
<circle cx="513.7" cy="262.9" r="1.6" fill="none" stroke="#1a1a1a" stroke-width="1.2"/>
<circle cx="517.6" cy="262.9" r="1.6" fill="none" stroke="#1a1a1a" stroke-width="1.2"/>
<circle cx="521.6" cy="262.1" r="1.6" fill="none" stroke="#1a1a1a" stroke-width="1.2"/>
<circle cx="528.7" cy="263.7" r="1.6" fill="none" stroke="#1a1a1a" stroke-width="1.2"/>
<circle cx="531.8" cy="262.1" r="1.6" fill="none" stroke="#1a1a1a" stroke-width="1.2"/>
<circle cx="534.2" cy="262.9" r="1.6" fill="none" stroke="#1a1a1a" stroke-width="1.2"/>
<circle cx="538.9" cy="262.1" r="1.6" fill="none" stroke="#1a1a1a" stroke-width="1.2"/>
<circle cx="542.1" cy="263.7" r="1.6" fill="none" stroke="#1a1a1a" stroke-width="1.2"/>
<circle cx="545.2" cy="262.9" r="1.6" fill="none" stroke="#1a1a1a" stroke-width="1.2"/>
<circle cx="501.8" cy="262.1" r="1.6" fill="none" stroke="#1a1a1a" stroke-width="1.2"/>
<circle cx="505.8" cy="262.9" r="1.6" fill="none" stroke="#1a1a1a" stroke-width="1.2"/>
<circle cx="512.1" cy="264.5" r="1.6" fill="none" stroke="#1a1a1a" stroke-width="1.2"/>
<circle cx="516.0" cy="264.5" r="1.6" fill="none" stroke="#1a1a1a" stroke-width="1.2"/>
<circle cx="523.1" cy="264.5" r="1.6" fill="none" stroke="#1a1a1a" stroke-width="1.2"/>
<circle cx="537.4" cy="264.5" r="1.6" fill="none" stroke="#1a1a1a" stroke-width="1.2"/>
<circle cx="540.5" cy="265.3" r="1.6" fill="none" stroke="#1a1a1a" stroke-width="1.2"/>
<circle cx="546.0" cy="265.3" r="1.6" fill="none" stroke="#1a1a1a" stroke-width="1.2"/>
<circle cx="552.6" cy="239.8" r="1.6" fill="none" stroke="#1a1a1a" stroke-width="1.2"/>
<circle cx="565.7" cy="246.1" r="1.6" fill="none" stroke="#1a1a1a" stroke-width="1.2"/>
<circle cx="551.9" cy="254.5" r="1.6" fill="none" stroke="#1a1a1a" stroke-width="1.2"/>
<circle cx="547.9" cy="255.6" r="1.6" fill="none" stroke="#1a1a1a" stroke-width="1.2"/>
<circle cx="563.2" cy="256.7" r="1.6" fill="none" stroke="#1a1a1a" stroke-width="1.2"/>
<circle cx="535.8" cy="259.6" r="1.6" fill="none" stroke="#1a1a1a" stroke-width="1.2"/>
<circle cx="549.3" cy="258.9" r="1.6" fill="none" stroke="#1a1a1a" stroke-width="1.2"/>
<circle cx="546.0" cy="258.5" r="1.6" fill="none" stroke="#1a1a1a" stroke-width="1.2"/>
<circle cx="531.5" cy="264.0" r="1.6" fill="none" stroke="#1a1a1a" stroke-width="1.2"/>
<circle cx="540.9" cy="262.8" r="1.6" fill="none" stroke="#1a1a1a" stroke-width="1.2"/>
<circle cx="544.8" cy="264.5" r="1.6" fill="none" stroke="#1a1a1a" stroke-width="1.2"/>
<circle cx="542.0" cy="266.2" r="1.6" fill="none" stroke="#1a1a1a" stroke-width="1.2"/>
<circle cx="544.1" cy="262.6" r="1.6" fill="none" stroke="#1a1a1a" stroke-width="1.2"/>
<circle cx="537.6" cy="264.2" r="1.6" fill="none" stroke="#1a1a1a" stroke-width="1.2"/>
<circle cx="543.8" cy="261.9" r="1.6" fill="none" stroke="#1a1a1a" stroke-width="1.2"/>
<circle cx="546.2" cy="263.2" r="1.6" fill="none" stroke="#1a1a1a" stroke-width="1.2"/>
<circle cx="545.4" cy="261.2" r="1.6" fill="none" stroke="#1a1a1a" stroke-width="1.2"/>
<circle cx="538.3" cy="262.1" r="1.6" fill="none" stroke="#1a1a1a" stroke-width="1.2"/>
<circle cx="536.9" cy="261.9" r="1.6" fill="none" stroke="#1a1a1a" stroke-width="1.2"/>
<circle cx="547.0" cy="264.3" r="1.6" fill="none" stroke="#1a1a1a" stroke-width="1.2"/>
<circle cx="537.0" cy="263.5" r="1.6" fill="none" stroke="#1a1a1a" stroke-width="1.2"/>
<circle cx="548.1" cy="263.9" r="1.6" fill="none" stroke="#1a1a1a" stroke-width="1.2"/>
<circle cx="538.4" cy="262.8" r="1.6" fill="none" stroke="#1a1a1a" stroke-width="1.2"/>
<circle cx="547.0" cy="261.5" r="1.6" fill="none" stroke="#1a1a1a" stroke-width="1.2"/>
<circle cx="531.2" cy="263.2" r="1.6" fill="none" stroke="#1a1a1a" stroke-width="1.2"/>
<circle cx="530.8" cy="264.4" r="1.6" fill="none" stroke="#1a1a1a" stroke-width="1.2"/>
<circle cx="539.8" cy="265.6" r="1.6" fill="none" stroke="#1a1a1a" stroke-width="1.2"/>
<circle cx="545.7" cy="263.5" r="1.6" fill="none" stroke="#1a1a1a" stroke-width="1.2"/>
<circle cx="539.1" cy="266.2" r="1.6" fill="none" stroke="#1a1a1a" stroke-width="1.2"/>
<circle cx="531.1" cy="262.4" r="1.6" fill="none" stroke="#1a1a1a" stroke-width="1.2"/>
<circle cx="557.0" cy="263.0" r="1.6" fill="none" stroke="#1a1a1a" stroke-width="1.2"/>
<circle cx="562.2" cy="262.6" r="1.6" fill="none" stroke="#1a1a1a" stroke-width="1.2"/>
<circle cx="562.6" cy="262.9" r="1.6" fill="none" stroke="#1a1a1a" stroke-width="1.2"/>
<circle cx="561.3" cy="260.0" r="1.6" fill="none" stroke="#1a1a1a" stroke-width="1.2"/>
<circle cx="554.0" cy="260.6" r="1.6" fill="none" stroke="#1a1a1a" stroke-width="1.2"/>
<circle cx="558.3" cy="262.2" r="1.6" fill="none" stroke="#1a1a1a" stroke-width="1.2"/>
<circle cx="562.0" cy="262.3" r="1.6" fill="none" stroke="#1a1a1a" stroke-width="1.2"/>
<circle cx="562.2" cy="260.0" r="1.6" fill="none" stroke="#1a1a1a" stroke-width="1.2"/>
<circle cx="560.4" cy="266.0" r="1.6" fill="none" stroke="#1a1a1a" stroke-width="1.2"/>
<circle cx="556.1" cy="260.2" r="1.6" fill="none" stroke="#1a1a1a" stroke-width="1.2"/>
<circle cx="566.4" cy="260.7" r="1.6" fill="none" stroke="#1a1a1a" stroke-width="1.2"/>
<circle cx="565.7" cy="260.4" r="1.6" fill="none" stroke="#1a1a1a" stroke-width="1.2"/>
<circle cx="555.1" cy="264.1" r="1.6" fill="none" stroke="#1a1a1a" stroke-width="1.2"/>
<circle cx="560.3" cy="265.7" r="1.6" fill="none" stroke="#1a1a1a" stroke-width="1.2"/>
<circle cx="560.8" cy="265.1" r="1.6" fill="none" stroke="#1a1a1a" stroke-width="1.2"/>
<circle cx="556.4" cy="266.6" r="1.6" fill="none" stroke="#1a1a1a" stroke-width="1.2"/>
<circle cx="555.7" cy="262.1" r="1.6" fill="none" stroke="#1a1a1a" stroke-width="1.2"/>
<circle cx="566.5" cy="261.9" r="1.6" fill="none" stroke="#1a1a1a" stroke-width="1.2"/>
<circle cx="553.1" cy="265.2" r="1.6" fill="none" stroke="#1a1a1a" stroke-width="1.2"/>
<circle cx="553.6" cy="262.1" r="1.6" fill="none" stroke="#1a1a1a" stroke-width="1.2"/>
<circle cx="558.2" cy="262.9" r="1.6" fill="none" stroke="#1a1a1a" stroke-width="1.2"/>
<circle cx="566.6" cy="263.5" r="1.6" fill="none" stroke="#1a1a1a" stroke-width="1.2"/>
<circle cx="557.4" cy="261.9" r="1.6" fill="none" stroke="#1a1a1a" stroke-width="1.2"/>
<circle cx="556.7" cy="262.1" r="1.6" fill="none" stroke="#1a1a1a" stroke-width="1.2"/>
<circle cx="560.8" cy="265.5" r="1.6" fill="none" stroke="#1a1a1a" stroke-width="1.2"/>
<circle cx="568.2" cy="263.4" r="1.6" fill="none" stroke="#1a1a1a" stroke-width="1.2"/>
<circle cx="561.9" cy="258.9" r="1.6" fill="none" stroke="#1a1a1a" stroke-width="1.2"/>
<circle cx="554.0" cy="265.2" r="1.6" fill="none" stroke="#1a1a1a" stroke-width="1.2"/>
<circle cx="555.6" cy="264.9" r="1.6" fill="none" stroke="#1a1a1a" stroke-width="1.2"/>
<circle cx="566.0" cy="262.2" r="1.6" fill="none" stroke="#1a1a1a" stroke-width="1.2"/>
<circle cx="564.2" cy="263.9" r="1.6" fill="none" stroke="#1a1a1a" stroke-width="1.2"/>
<circle cx="563.1" cy="263.9" r="1.6" fill="none" stroke="#1a1a1a" stroke-width="1.2"/>
<circle cx="563.6" cy="259.6" r="1.6" fill="none" stroke="#1a1a1a" stroke-width="1.2"/>
<circle cx="554.4" cy="260.4" r="1.6" fill="none" stroke="#1a1a1a" stroke-width="1.2"/>
<circle cx="558.9" cy="265.5" r="1.6" fill="none" stroke="#1a1a1a" stroke-width="1.2"/>
<circle cx="554.0" cy="262.1" r="1.6" fill="none" stroke="#1a1a1a" stroke-width="1.2"/>
<circle cx="562.2" cy="260.7" r="1.6" fill="none" stroke="#1a1a1a" stroke-width="1.2"/>
<circle cx="557.4" cy="262.7" r="1.6" fill="none" stroke="#1a1a1a" stroke-width="1.2"/>
<circle cx="560.5" cy="259.7" r="1.6" fill="none" stroke="#1a1a1a" stroke-width="1.2"/>
<circle cx="560.9" cy="261.6" r="1.6" fill="none" stroke="#1a1a1a" stroke-width="1.2"/>
<circle cx="563.4" cy="258.7" r="1.6" fill="none" stroke="#1a1a1a" stroke-width="1.2"/>
<circle cx="558.6" cy="258.7" r="1.6" fill="none" stroke="#1a1a1a" stroke-width="1.2"/>
<circle cx="562.7" cy="262.9" r="1.6" fill="none" stroke="#1a1a1a" stroke-width="1.2"/>
<circle cx="566.3" cy="264.3" r="1.6" fill="none" stroke="#1a1a1a" stroke-width="1.2"/>
<circle cx="561.3" cy="264.3" r="1.6" fill="none" stroke="#1a1a1a" stroke-width="1.2"/>
<circle cx="557.8" cy="263.3" r="1.6" fill="none" stroke="#1a1a1a" stroke-width="1.2"/>
<circle cx="559.0" cy="262.5" r="1.6" fill="none" stroke="#1a1a1a" stroke-width="1.2"/>
<circle cx="555.6" cy="263.8" r="1.6" fill="none" stroke="#1a1a1a" stroke-width="1.2"/>
<circle cx="554.2" cy="261.7" r="1.6" fill="none" stroke="#1a1a1a" stroke-width="1.2"/>
<circle cx="566.6" cy="262.8" r="1.6" fill="none" stroke="#1a1a1a" stroke-width="1.2"/>
<line x1="439.10" y1="253.90" x2="566.00" y2="264.00" stroke="#555" stroke-width="0.9"/>
<path d="M687.4 257.3L691.2 261.1M691.2 257.3L687.4 261.1" stroke="#1a1a1a" stroke-width="1.1"/>
<path d="M703.0 254.2L706.8 258.0M706.8 254.2L703.0 258.0" stroke="#1a1a1a" stroke-width="1.1"/>
<path d="M737.9 245.2L741.7 249.0M741.7 245.2L737.9 249.0" stroke="#1a1a1a" stroke-width="1.1"/>
<path d="M747.0 247.8L750.8 251.6M750.8 247.8L747.0 251.6" stroke="#1a1a1a" stroke-width="1.1"/>
<path d="M735.8 250.7L739.6 254.5M739.6 250.7L735.8 254.5" stroke="#1a1a1a" stroke-width="1.1"/>
<path d="M740.2 252.0L744.0 255.8M744.0 252.0L740.2 255.8" stroke="#1a1a1a" stroke-width="1.1"/>
<path d="M744.4 253.1L748.2 256.9M748.2 253.1L744.4 256.9" stroke="#1a1a1a" stroke-width="1.1"/>
<path d="M726.0 255.7L729.8 259.5M729.8 255.7L726.0 259.5" stroke="#1a1a1a" stroke-width="1.1"/>
<path d="M729.7 255.7L733.5 259.5M733.5 255.7L729.7 259.5" stroke="#1a1a1a" stroke-width="1.1"/>
<path d="M724.4 260.5L728.2 264.3M728.2 260.5L724.4 264.3" stroke="#1a1a1a" stroke-width="1.1"/>
<path d="M726.5 263.6L730.3 267.4M730.3 263.6L726.5 267.4" stroke="#1a1a1a" stroke-width="1.1"/>
<path d="M751.8 262.6L755.6 266.4M755.6 262.6L751.8 266.4" stroke="#1a1a1a" stroke-width="1.1"/>
<path d="M742.3 254.7L746.1 258.5M746.1 254.7L742.3 258.5" stroke="#1a1a1a" stroke-width="1.1"/>
<path d="M732.8 257.8L736.6 261.6M736.6 257.8L732.8 261.6" stroke="#1a1a1a" stroke-width="1.1"/>
<path d="M747.6 257.8L751.4 261.6M751.4 257.8L747.6 261.6" stroke="#1a1a1a" stroke-width="1.1"/>
<path d="M740.2 261.7L744.0 265.5M744.0 261.7L740.2 265.5" stroke="#1a1a1a" stroke-width="1.1"/>
<path d="M741.3 261.2L745.1 265.0M745.1 261.2L741.3 265.0" stroke="#1a1a1a" stroke-width="1.1"/>
<path d="M746.8 259.4L750.6 263.2M750.6 259.4L746.8 263.2" stroke="#1a1a1a" stroke-width="1.1"/>
<path d="M739.1 264.2L742.9 268.0M742.9 264.2L739.1 268.0" stroke="#1a1a1a" stroke-width="1.1"/>
<path d="M742.2 265.3L746.0 269.1M746.0 265.3L742.2 269.1" stroke="#1a1a1a" stroke-width="1.1"/>
<path d="M735.9 261.0L739.7 264.8M739.7 261.0L735.9 264.8" stroke="#1a1a1a" stroke-width="1.1"/>
<path d="M736.2 259.2L740.0 263.0M740.0 259.2L736.2 263.0" stroke="#1a1a1a" stroke-width="1.1"/>
<path d="M731.6 262.2L735.4 266.0M735.4 262.2L731.6 266.0" stroke="#1a1a1a" stroke-width="1.1"/>
<path d="M736.1 262.7L739.9 266.5M739.9 262.7L736.1 266.5" stroke="#1a1a1a" stroke-width="1.1"/>
<path d="M745.7 260.7L749.5 264.5M749.5 260.7L745.7 264.5" stroke="#1a1a1a" stroke-width="1.1"/>
<path d="M737.8 265.3L741.6 269.1M741.6 265.3L737.8 269.1" stroke="#1a1a1a" stroke-width="1.1"/>
<path d="M734.8 264.7L738.6 268.5M738.6 264.7L734.8 268.5" stroke="#1a1a1a" stroke-width="1.1"/>
<path d="M735.0 261.7L738.8 265.5M738.8 261.7L735.0 265.5" stroke="#1a1a1a" stroke-width="1.1"/>
<path d="M741.2 265.8L745.0 269.6M745.0 265.8L741.2 269.6" stroke="#1a1a1a" stroke-width="1.1"/>
<path d="M744.7 264.8L748.5 268.6M748.5 264.8L744.7 268.6" stroke="#1a1a1a" stroke-width="1.1"/>
<path d="M737.1 260.9L740.9 264.7M740.9 260.9L737.1 264.7" stroke="#1a1a1a" stroke-width="1.1"/>
<path d="M747.5 262.8L751.3 266.6M751.3 262.8L747.5 266.6" stroke="#1a1a1a" stroke-width="1.1"/>
<path d="M744.5 258.9L748.3 262.7M748.3 258.9L744.5 262.7" stroke="#1a1a1a" stroke-width="1.1"/>
<path d="M731.3 261.5L735.1 265.3M735.1 261.5L731.3 265.3" stroke="#1a1a1a" stroke-width="1.1"/>
<path d="M736.2 260.2L740.0 264.0M740.0 260.2L736.2 264.0" stroke="#1a1a1a" stroke-width="1.1"/>
<path d="M734.6 258.9L738.4 262.7M738.4 258.9L734.6 262.7" stroke="#1a1a1a" stroke-width="1.1"/>
<path d="M733.9 259.6L737.7 263.4M737.7 259.6L733.9 263.4" stroke="#1a1a1a" stroke-width="1.1"/>
<path d="M744.6 261.2L748.4 265.0M748.4 261.2L744.6 265.0" stroke="#1a1a1a" stroke-width="1.1"/>
<path d="M740.8 259.2L744.6 263.0M744.6 259.2L740.8 263.0" stroke="#1a1a1a" stroke-width="1.1"/>
<path d="M747.1 261.2L750.9 265.0M750.9 261.2L747.1 265.0" stroke="#1a1a1a" stroke-width="1.1"/>
<path d="M734.9 262.8L738.7 266.6M738.7 262.8L734.9 266.6" stroke="#1a1a1a" stroke-width="1.1"/>
<path d="M734.7 265.3L738.5 269.1M738.5 265.3L734.7 269.1" stroke="#1a1a1a" stroke-width="1.1"/>
<path d="M738.5 258.9L742.3 262.7M742.3 258.9L738.5 262.7" stroke="#1a1a1a" stroke-width="1.1"/>
<path d="M738.6 259.7L742.4 263.5M742.4 259.7L738.6 263.5" stroke="#1a1a1a" stroke-width="1.1"/>
<path d="M745.5 264.0L749.3 267.8M749.3 264.0L745.5 267.8" stroke="#1a1a1a" stroke-width="1.1"/>
<path d="M743.9 260.9L747.7 264.7M747.7 260.9L743.9 264.7" stroke="#1a1a1a" stroke-width="1.1"/>
<path d="M735.8 262.7L739.6 266.5M739.6 262.7L735.8 266.5" stroke="#1a1a1a" stroke-width="1.1"/>
<path d="M746.0 261.9L749.8 265.7M749.8 261.9L746.0 265.7" stroke="#1a1a1a" stroke-width="1.1"/>
<path d="M740.4 261.2L744.2 265.0M744.2 261.2L740.4 265.0" stroke="#1a1a1a" stroke-width="1.1"/>
<path d="M746.4 261.3L750.2 265.1M750.2 261.3L746.4 265.1" stroke="#1a1a1a" stroke-width="1.1"/>
<path d="M735.2 263.6L739.0 267.4M739.0 263.6L735.2 267.4" stroke="#1a1a1a" stroke-width="1.1"/>
<path d="M741.0 262.8L744.8 266.6M744.8 262.8L741.0 266.6" stroke="#1a1a1a" stroke-width="1.1"/>
<path d="M744.2 262.2L748.0 266.0M748.0 262.2L744.2 266.0" stroke="#1a1a1a" stroke-width="1.1"/>
<path d="M746.5 260.1L750.3 263.9M750.3 260.1L746.5 263.9" stroke="#1a1a1a" stroke-width="1.1"/>
<path d="M743.7 260.5L747.5 264.3M747.5 260.5L743.7 264.3" stroke="#1a1a1a" stroke-width="1.1"/>
<path d="M734.4 263.6L738.2 267.4M738.2 263.6L734.4 267.4" stroke="#1a1a1a" stroke-width="1.1"/>
<path d="M737.3 264.4L741.1 268.2M741.1 264.4L737.3 268.2" stroke="#1a1a1a" stroke-width="1.1"/>
<path d="M734.3 264.5L738.1 268.3M738.1 264.5L734.3 268.3" stroke="#1a1a1a" stroke-width="1.1"/>
<path d="M734.8 263.9L738.6 267.7M738.6 263.9L734.8 267.7" stroke="#1a1a1a" stroke-width="1.1"/>
<path d="M745.1 259.0L748.9 262.8M748.9 259.0L745.1 262.8" stroke="#1a1a1a" stroke-width="1.1"/>
<path d="M737.8 264.9L741.6 268.7M741.6 264.9L737.8 268.7" stroke="#1a1a1a" stroke-width="1.1"/>
<path d="M739.9 261.6L743.7 265.4M743.7 261.6L739.9 265.4" stroke="#1a1a1a" stroke-width="1.1"/>
<path d="M740.5 263.4L744.3 267.2M744.3 263.4L740.5 267.2" stroke="#1a1a1a" stroke-width="1.1"/>
<circle cx="439.8" cy="339.8" r="1.6" fill="none" stroke="#1a1a1a" stroke-width="1.2"/>
<circle cx="442.1" cy="344.8" r="1.6" fill="none" stroke="#1a1a1a" stroke-width="1.2"/>
<circle cx="443.7" cy="346.0" r="1.6" fill="none" stroke="#1a1a1a" stroke-width="1.2"/>
<circle cx="440.9" cy="347.3" r="1.6" fill="none" stroke="#1a1a1a" stroke-width="1.2"/>
<circle cx="452.8" cy="348.2" r="1.6" fill="none" stroke="#1a1a1a" stroke-width="1.2"/>
<circle cx="460.3" cy="348.5" r="1.6" fill="none" stroke="#1a1a1a" stroke-width="1.2"/>
<circle cx="467.9" cy="342.2" r="1.6" fill="none" stroke="#1a1a1a" stroke-width="1.2"/>
<circle cx="472.5" cy="344.8" r="1.6" fill="none" stroke="#1a1a1a" stroke-width="1.2"/>
<circle cx="483.6" cy="350.7" r="1.6" fill="none" stroke="#1a1a1a" stroke-width="1.2"/>
<circle cx="440.1" cy="354.6" r="1.6" fill="none" stroke="#1a1a1a" stroke-width="1.2"/>
<circle cx="445.5" cy="352.9" r="1.6" fill="none" stroke="#1a1a1a" stroke-width="1.2"/>
<circle cx="444.9" cy="358.0" r="1.6" fill="none" stroke="#1a1a1a" stroke-width="1.2"/>
<circle cx="448.8" cy="357.8" r="1.6" fill="none" stroke="#1a1a1a" stroke-width="1.2"/>
<circle cx="453.0" cy="361.8" r="1.6" fill="none" stroke="#1a1a1a" stroke-width="1.2"/>
<circle cx="452.8" cy="365.1" r="1.6" fill="none" stroke="#1a1a1a" stroke-width="1.2"/>
<circle cx="439.5" cy="364.1" r="1.6" fill="none" stroke="#1a1a1a" stroke-width="1.2"/>
<circle cx="445.3" cy="365.1" r="1.6" fill="none" stroke="#1a1a1a" stroke-width="1.2"/>
<circle cx="447.8" cy="364.4" r="1.6" fill="none" stroke="#1a1a1a" stroke-width="1.2"/>
<circle cx="463.6" cy="359.8" r="1.6" fill="none" stroke="#1a1a1a" stroke-width="1.2"/>
<circle cx="462.8" cy="362.3" r="1.6" fill="none" stroke="#1a1a1a" stroke-width="1.2"/>
<circle cx="480.0" cy="355.0" r="1.6" fill="none" stroke="#1a1a1a" stroke-width="1.2"/>
<circle cx="480.0" cy="357.1" r="1.6" fill="none" stroke="#1a1a1a" stroke-width="1.2"/>
<circle cx="482.5" cy="361.8" r="1.6" fill="none" stroke="#1a1a1a" stroke-width="1.2"/>
<circle cx="454.1" cy="371.6" r="1.6" fill="none" stroke="#1a1a1a" stroke-width="1.2"/>
<circle cx="452.6" cy="375.5" r="1.6" fill="none" stroke="#1a1a1a" stroke-width="1.2"/>
<circle cx="471.7" cy="374.8" r="1.6" fill="none" stroke="#1a1a1a" stroke-width="1.2"/>
<circle cx="476.9" cy="373.8" r="1.6" fill="none" stroke="#1a1a1a" stroke-width="1.2"/>
<circle cx="446.6" cy="378.6" r="1.6" fill="none" stroke="#1a1a1a" stroke-width="1.2"/>
<circle cx="449.0" cy="379.1" r="1.6" fill="none" stroke="#1a1a1a" stroke-width="1.2"/>
<circle cx="449.0" cy="382.1" r="1.6" fill="none" stroke="#1a1a1a" stroke-width="1.2"/>
<circle cx="459.8" cy="380.3" r="1.6" fill="none" stroke="#1a1a1a" stroke-width="1.2"/>
<circle cx="474.9" cy="385.9" r="1.6" fill="none" stroke="#1a1a1a" stroke-width="1.2"/>
<circle cx="476.1" cy="378.1" r="1.6" fill="none" stroke="#1a1a1a" stroke-width="1.2"/>
<circle cx="438.9" cy="394.0" r="1.6" fill="none" stroke="#1a1a1a" stroke-width="1.2"/>
<circle cx="438.9" cy="396.2" r="1.6" fill="none" stroke="#1a1a1a" stroke-width="1.2"/>
<circle cx="441.9" cy="392.4" r="1.6" fill="none" stroke="#1a1a1a" stroke-width="1.2"/>
<circle cx="456.7" cy="392.0" r="1.6" fill="none" stroke="#1a1a1a" stroke-width="1.2"/>
<circle cx="454.3" cy="394.9" r="1.6" fill="none" stroke="#1a1a1a" stroke-width="1.2"/>
<circle cx="439.0" cy="401.7" r="1.6" fill="none" stroke="#1a1a1a" stroke-width="1.2"/>
<circle cx="438.9" cy="401.3" r="1.6" fill="none" stroke="#1a1a1a" stroke-width="1.2"/>
<circle cx="439.3" cy="402.1" r="1.6" fill="none" stroke="#1a1a1a" stroke-width="1.2"/>
<circle cx="444.9" cy="400.3" r="1.6" fill="none" stroke="#1a1a1a" stroke-width="1.2"/>
<circle cx="452.0" cy="404.3" r="1.6" fill="none" stroke="#1a1a1a" stroke-width="1.2"/>
<circle cx="461.7" cy="398.7" r="1.6" fill="none" stroke="#1a1a1a" stroke-width="1.2"/>
<circle cx="469.7" cy="395.1" r="1.6" fill="none" stroke="#1a1a1a" stroke-width="1.2"/>
<circle cx="473.1" cy="400.8" r="1.6" fill="none" stroke="#1a1a1a" stroke-width="1.2"/>
<circle cx="479.0" cy="395.3" r="1.6" fill="none" stroke="#1a1a1a" stroke-width="1.2"/>
<circle cx="483.0" cy="401.1" r="1.6" fill="none" stroke="#1a1a1a" stroke-width="1.2"/>
<circle cx="447.6" cy="410.0" r="1.6" fill="none" stroke="#1a1a1a" stroke-width="1.2"/>
<circle cx="463.6" cy="410.7" r="1.6" fill="none" stroke="#1a1a1a" stroke-width="1.2"/>
<circle cx="467.2" cy="413.9" r="1.6" fill="none" stroke="#1a1a1a" stroke-width="1.2"/>
<circle cx="471.9" cy="414.1" r="1.6" fill="none" stroke="#1a1a1a" stroke-width="1.2"/>
<circle cx="440.9" cy="415.9" r="1.6" fill="none" stroke="#1a1a1a" stroke-width="1.2"/>
<circle cx="439.3" cy="420.0" r="1.6" fill="none" stroke="#1a1a1a" stroke-width="1.2"/>
<circle cx="444.9" cy="422.0" r="1.6" fill="none" stroke="#1a1a1a" stroke-width="1.2"/>
<circle cx="443.7" cy="423.6" r="1.6" fill="none" stroke="#1a1a1a" stroke-width="1.2"/>
<circle cx="461.4" cy="419.2" r="1.6" fill="none" stroke="#1a1a1a" stroke-width="1.2"/>
<circle cx="466.4" cy="423.6" r="1.6" fill="none" stroke="#1a1a1a" stroke-width="1.2"/>
<circle cx="478.4" cy="423.6" r="1.6" fill="none" stroke="#1a1a1a" stroke-width="1.2"/>
<circle cx="497.7" cy="342.8" r="1.6" fill="none" stroke="#1a1a1a" stroke-width="1.2"/>
<circle cx="512.6" cy="366.3" r="1.6" fill="none" stroke="#1a1a1a" stroke-width="1.2"/>
<circle cx="516.1" cy="371.4" r="1.6" fill="none" stroke="#1a1a1a" stroke-width="1.2"/>
<circle cx="525.5" cy="371.4" r="1.6" fill="none" stroke="#1a1a1a" stroke-width="1.2"/>
<circle cx="527.8" cy="357.6" r="1.6" fill="none" stroke="#1a1a1a" stroke-width="1.2"/>
<circle cx="484.9" cy="378.2" r="1.6" fill="none" stroke="#1a1a1a" stroke-width="1.2"/>
<circle cx="506.7" cy="381.9" r="1.6" fill="none" stroke="#1a1a1a" stroke-width="1.2"/>
<circle cx="518.7" cy="379.2" r="1.6" fill="none" stroke="#1a1a1a" stroke-width="1.2"/>
<circle cx="518.7" cy="378.7" r="1.6" fill="none" stroke="#1a1a1a" stroke-width="1.2"/>
<circle cx="518.7" cy="384.7" r="1.6" fill="none" stroke="#1a1a1a" stroke-width="1.2"/>
<circle cx="526.0" cy="383.5" r="1.6" fill="none" stroke="#1a1a1a" stroke-width="1.2"/>
<circle cx="526.0" cy="388.0" r="1.6" fill="none" stroke="#1a1a1a" stroke-width="1.2"/>
<circle cx="528.6" cy="378.6" r="1.6" fill="none" stroke="#1a1a1a" stroke-width="1.2"/>
<circle cx="488.9" cy="389.4" r="1.6" fill="none" stroke="#1a1a1a" stroke-width="1.2"/>
<circle cx="488.9" cy="392.0" r="1.6" fill="none" stroke="#1a1a1a" stroke-width="1.2"/>
<circle cx="485.3" cy="392.8" r="1.6" fill="none" stroke="#1a1a1a" stroke-width="1.2"/>
<circle cx="494.2" cy="391.0" r="1.6" fill="none" stroke="#1a1a1a" stroke-width="1.2"/>
<circle cx="504.3" cy="389.6" r="1.6" fill="none" stroke="#1a1a1a" stroke-width="1.2"/>
<circle cx="507.1" cy="389.4" r="1.6" fill="none" stroke="#1a1a1a" stroke-width="1.2"/>
<circle cx="509.6" cy="389.6" r="1.6" fill="none" stroke="#1a1a1a" stroke-width="1.2"/>
<circle cx="510.0" cy="392.4" r="1.6" fill="none" stroke="#1a1a1a" stroke-width="1.2"/>
<circle cx="520.1" cy="393.2" r="1.6" fill="none" stroke="#1a1a1a" stroke-width="1.2"/>
<circle cx="522.5" cy="392.0" r="1.6" fill="none" stroke="#1a1a1a" stroke-width="1.2"/>
<circle cx="483.6" cy="401.1" r="1.6" fill="none" stroke="#1a1a1a" stroke-width="1.2"/>
<circle cx="504.7" cy="398.1" r="1.6" fill="none" stroke="#1a1a1a" stroke-width="1.2"/>
<circle cx="507.1" cy="399.3" r="1.6" fill="none" stroke="#1a1a1a" stroke-width="1.2"/>
<circle cx="509.6" cy="402.6" r="1.6" fill="none" stroke="#1a1a1a" stroke-width="1.2"/>
<circle cx="512.8" cy="400.9" r="1.6" fill="none" stroke="#1a1a1a" stroke-width="1.2"/>
<circle cx="515.3" cy="402.1" r="1.6" fill="none" stroke="#1a1a1a" stroke-width="1.2"/>
<circle cx="495.0" cy="403.8" r="1.6" fill="none" stroke="#1a1a1a" stroke-width="1.2"/>
<circle cx="498.2" cy="405.8" r="1.6" fill="none" stroke="#1a1a1a" stroke-width="1.2"/>
<circle cx="502.3" cy="407.4" r="1.6" fill="none" stroke="#1a1a1a" stroke-width="1.2"/>
<circle cx="505.9" cy="405.6" r="1.6" fill="none" stroke="#1a1a1a" stroke-width="1.2"/>
<circle cx="502.7" cy="410.3" r="1.6" fill="none" stroke="#1a1a1a" stroke-width="1.2"/>
<circle cx="486.6" cy="407.4" r="1.6" fill="none" stroke="#1a1a1a" stroke-width="1.2"/>
<circle cx="512.0" cy="407.3" r="1.6" fill="none" stroke="#1a1a1a" stroke-width="1.2"/>
<circle cx="515.7" cy="407.4" r="1.6" fill="none" stroke="#1a1a1a" stroke-width="1.2"/>
<circle cx="518.1" cy="408.2" r="1.6" fill="none" stroke="#1a1a1a" stroke-width="1.2"/>
<circle cx="524.2" cy="406.0" r="1.6" fill="none" stroke="#1a1a1a" stroke-width="1.2"/>
<circle cx="523.8" cy="409.8" r="1.6" fill="none" stroke="#1a1a1a" stroke-width="1.2"/>
<circle cx="520.5" cy="411.5" r="1.6" fill="none" stroke="#1a1a1a" stroke-width="1.2"/>
<circle cx="490.9" cy="415.5" r="1.6" fill="none" stroke="#1a1a1a" stroke-width="1.2"/>
<circle cx="490.9" cy="417.9" r="1.6" fill="none" stroke="#1a1a1a" stroke-width="1.2"/>
<circle cx="500.9" cy="415.5" r="1.6" fill="none" stroke="#1a1a1a" stroke-width="1.2"/>
<circle cx="502.7" cy="417.5" r="1.6" fill="none" stroke="#1a1a1a" stroke-width="1.2"/>
<circle cx="505.1" cy="417.9" r="1.6" fill="none" stroke="#1a1a1a" stroke-width="1.2"/>
<circle cx="513.2" cy="413.5" r="1.6" fill="none" stroke="#1a1a1a" stroke-width="1.2"/>
<circle cx="513.2" cy="416.3" r="1.6" fill="none" stroke="#1a1a1a" stroke-width="1.2"/>
<circle cx="515.7" cy="414.7" r="1.6" fill="none" stroke="#1a1a1a" stroke-width="1.2"/>
<circle cx="518.1" cy="413.9" r="1.6" fill="none" stroke="#1a1a1a" stroke-width="1.2"/>
<circle cx="518.9" cy="415.5" r="1.6" fill="none" stroke="#1a1a1a" stroke-width="1.2"/>
<circle cx="517.3" cy="417.1" r="1.6" fill="none" stroke="#1a1a1a" stroke-width="1.2"/>
<circle cx="514.0" cy="418.8" r="1.6" fill="none" stroke="#1a1a1a" stroke-width="1.2"/>
<circle cx="516.5" cy="413.1" r="1.6" fill="none" stroke="#1a1a1a" stroke-width="1.2"/>
<circle cx="518.1" cy="417.1" r="1.6" fill="none" stroke="#1a1a1a" stroke-width="1.2"/>
<circle cx="522.8" cy="415.9" r="1.6" fill="none" stroke="#1a1a1a" stroke-width="1.2"/>
<circle cx="516.1" cy="422.4" r="1.6" fill="none" stroke="#1a1a1a" stroke-width="1.2"/>
<circle cx="547.2" cy="358.2" r="1.6" fill="none" stroke="#1a1a1a" stroke-width="1.2"/>
<circle cx="558.3" cy="363.1" r="1.6" fill="none" stroke="#1a1a1a" stroke-width="1.2"/>
<circle cx="538.2" cy="371.4" r="1.6" fill="none" stroke="#1a1a1a" stroke-width="1.2"/>
<circle cx="538.2" cy="374.0" r="1.6" fill="none" stroke="#1a1a1a" stroke-width="1.2"/>
<circle cx="530.9" cy="376.0" r="1.6" fill="none" stroke="#1a1a1a" stroke-width="1.2"/>
<circle cx="542.6" cy="375.6" r="1.6" fill="none" stroke="#1a1a1a" stroke-width="1.2"/>
<circle cx="537.8" cy="370.9" r="1.6" fill="none" stroke="#1a1a1a" stroke-width="1.2"/>
<circle cx="537.8" cy="374.1" r="1.6" fill="none" stroke="#1a1a1a" stroke-width="1.2"/>
<circle cx="542.8" cy="375.9" r="1.6" fill="none" stroke="#1a1a1a" stroke-width="1.2"/>
<circle cx="531.0" cy="376.8" r="1.6" fill="none" stroke="#1a1a1a" stroke-width="1.2"/>
<circle cx="528.7" cy="379.1" r="1.6" fill="none" stroke="#1a1a1a" stroke-width="1.2"/>
<circle cx="526.5" cy="383.6" r="1.6" fill="none" stroke="#1a1a1a" stroke-width="1.2"/>
<circle cx="526.5" cy="388.1" r="1.6" fill="none" stroke="#1a1a1a" stroke-width="1.2"/>
<circle cx="537.8" cy="379.5" r="1.6" fill="none" stroke="#1a1a1a" stroke-width="1.2"/>
<circle cx="560.5" cy="380.0" r="1.6" fill="none" stroke="#1a1a1a" stroke-width="1.2"/>
<circle cx="539.2" cy="385.0" r="1.6" fill="none" stroke="#1a1a1a" stroke-width="1.2"/>
<circle cx="539.2" cy="384.5" r="1.6" fill="none" stroke="#1a1a1a" stroke-width="1.2"/>
<circle cx="539.6" cy="389.1" r="1.6" fill="none" stroke="#1a1a1a" stroke-width="1.2"/>
<circle cx="543.7" cy="391.8" r="1.6" fill="none" stroke="#1a1a1a" stroke-width="1.2"/>
<circle cx="543.7" cy="394.5" r="1.6" fill="none" stroke="#1a1a1a" stroke-width="1.2"/>
<circle cx="538.3" cy="393.6" r="1.6" fill="none" stroke="#1a1a1a" stroke-width="1.2"/>
<circle cx="553.7" cy="388.1" r="1.6" fill="none" stroke="#1a1a1a" stroke-width="1.2"/>
<circle cx="553.7" cy="391.8" r="1.6" fill="none" stroke="#1a1a1a" stroke-width="1.2"/>
<circle cx="550.5" cy="394.0" r="1.6" fill="none" stroke="#1a1a1a" stroke-width="1.2"/>
<circle cx="550.0" cy="396.8" r="1.6" fill="none" stroke="#1a1a1a" stroke-width="1.2"/>
<circle cx="554.1" cy="397.2" r="1.6" fill="none" stroke="#1a1a1a" stroke-width="1.2"/>
<circle cx="556.9" cy="395.0" r="1.6" fill="none" stroke="#1a1a1a" stroke-width="1.2"/>
<circle cx="561.4" cy="390.9" r="1.6" fill="none" stroke="#1a1a1a" stroke-width="1.2"/>
<circle cx="563.7" cy="392.2" r="1.6" fill="none" stroke="#1a1a1a" stroke-width="1.2"/>
<circle cx="564.1" cy="399.9" r="1.6" fill="none" stroke="#1a1a1a" stroke-width="1.2"/>
<circle cx="563.7" cy="399.5" r="1.6" fill="none" stroke="#1a1a1a" stroke-width="1.2"/>
<circle cx="560.9" cy="401.8" r="1.6" fill="none" stroke="#1a1a1a" stroke-width="1.2"/>
<circle cx="555.9" cy="401.3" r="1.6" fill="none" stroke="#1a1a1a" stroke-width="1.2"/>
<circle cx="535.1" cy="396.3" r="1.6" fill="none" stroke="#1a1a1a" stroke-width="1.2"/>
<circle cx="535.1" cy="399.0" r="1.6" fill="none" stroke="#1a1a1a" stroke-width="1.2"/>
<circle cx="535.1" cy="403.6" r="1.6" fill="none" stroke="#1a1a1a" stroke-width="1.2"/>
<circle cx="540.5" cy="400.4" r="1.6" fill="none" stroke="#1a1a1a" stroke-width="1.2"/>
<circle cx="545.1" cy="400.4" r="1.6" fill="none" stroke="#1a1a1a" stroke-width="1.2"/>
<circle cx="552.3" cy="404.0" r="1.6" fill="none" stroke="#1a1a1a" stroke-width="1.2"/>
<circle cx="545.5" cy="405.4" r="1.6" fill="none" stroke="#1a1a1a" stroke-width="1.2"/>
<circle cx="547.8" cy="407.2" r="1.6" fill="none" stroke="#1a1a1a" stroke-width="1.2"/>
<circle cx="541.0" cy="409.0" r="1.6" fill="none" stroke="#1a1a1a" stroke-width="1.2"/>
<circle cx="542.8" cy="412.6" r="1.6" fill="none" stroke="#1a1a1a" stroke-width="1.2"/>
<circle cx="547.8" cy="412.6" r="1.6" fill="none" stroke="#1a1a1a" stroke-width="1.2"/>
<circle cx="550.5" cy="409.9" r="1.6" fill="none" stroke="#1a1a1a" stroke-width="1.2"/>
<circle cx="554.6" cy="409.5" r="1.6" fill="none" stroke="#1a1a1a" stroke-width="1.2"/>
<circle cx="561.4" cy="408.1" r="1.6" fill="none" stroke="#1a1a1a" stroke-width="1.2"/>
<circle cx="565.0" cy="409.0" r="1.6" fill="none" stroke="#1a1a1a" stroke-width="1.2"/>
<circle cx="531.4" cy="412.6" r="1.6" fill="none" stroke="#1a1a1a" stroke-width="1.2"/>
<circle cx="534.2" cy="412.6" r="1.6" fill="none" stroke="#1a1a1a" stroke-width="1.2"/>
<circle cx="530.1" cy="415.4" r="1.6" fill="none" stroke="#1a1a1a" stroke-width="1.2"/>
<circle cx="529.6" cy="418.1" r="1.6" fill="none" stroke="#1a1a1a" stroke-width="1.2"/>
<circle cx="537.3" cy="415.8" r="1.6" fill="none" stroke="#1a1a1a" stroke-width="1.2"/>
<circle cx="541.0" cy="419.0" r="1.6" fill="none" stroke="#1a1a1a" stroke-width="1.2"/>
<circle cx="545.5" cy="417.2" r="1.6" fill="none" stroke="#1a1a1a" stroke-width="1.2"/>
<circle cx="550.5" cy="422.6" r="1.6" fill="none" stroke="#1a1a1a" stroke-width="1.2"/>
<circle cx="552.3" cy="424.0" r="1.6" fill="none" stroke="#1a1a1a" stroke-width="1.2"/>
<circle cx="541.4" cy="410.8" r="1.6" fill="none" stroke="#1a1a1a" stroke-width="1.2"/>
<circle cx="541.9" cy="413.6" r="1.6" fill="none" stroke="#1a1a1a" stroke-width="1.2"/>
<circle cx="549.8" cy="410.8" r="1.6" fill="none" stroke="#1a1a1a" stroke-width="1.2"/>
<circle cx="552.1" cy="411.2" r="1.6" fill="none" stroke="#1a1a1a" stroke-width="1.2"/>
<circle cx="553.5" cy="414.0" r="1.6" fill="none" stroke="#1a1a1a" stroke-width="1.2"/>
<circle cx="553.4" cy="413.0" r="1.6" fill="none" stroke="#1a1a1a" stroke-width="1.2"/>
<circle cx="554.2" cy="412.6" r="1.6" fill="none" stroke="#1a1a1a" stroke-width="1.2"/>
<circle cx="554.1" cy="413.4" r="1.6" fill="none" stroke="#1a1a1a" stroke-width="1.2"/>
<circle cx="554.3" cy="415.9" r="1.6" fill="none" stroke="#1a1a1a" stroke-width="1.2"/>
<circle cx="554.0" cy="415.5" r="1.6" fill="none" stroke="#1a1a1a" stroke-width="1.2"/>
<circle cx="556.2" cy="413.5" r="1.6" fill="none" stroke="#1a1a1a" stroke-width="1.2"/>
<circle cx="557.5" cy="415.1" r="1.6" fill="none" stroke="#1a1a1a" stroke-width="1.2"/>
<circle cx="556.7" cy="415.0" r="1.6" fill="none" stroke="#1a1a1a" stroke-width="1.2"/>
<circle cx="557.3" cy="417.7" r="1.6" fill="none" stroke="#1a1a1a" stroke-width="1.2"/>
<circle cx="557.2" cy="417.3" r="1.6" fill="none" stroke="#1a1a1a" stroke-width="1.2"/>
<circle cx="559.1" cy="418.1" r="1.6" fill="none" stroke="#1a1a1a" stroke-width="1.2"/>
<circle cx="559.4" cy="416.9" r="1.6" fill="none" stroke="#1a1a1a" stroke-width="1.2"/>
<circle cx="558.9" cy="417.1" r="1.6" fill="none" stroke="#1a1a1a" stroke-width="1.2"/>
<circle cx="559.5" cy="419.3" r="1.6" fill="none" stroke="#1a1a1a" stroke-width="1.2"/>
<circle cx="561.4" cy="417.3" r="1.6" fill="none" stroke="#1a1a1a" stroke-width="1.2"/>
<circle cx="560.3" cy="417.0" r="1.6" fill="none" stroke="#1a1a1a" stroke-width="1.2"/>
<circle cx="562.8" cy="417.5" r="1.6" fill="none" stroke="#1a1a1a" stroke-width="1.2"/>
<circle cx="561.8" cy="418.3" r="1.6" fill="none" stroke="#1a1a1a" stroke-width="1.2"/>
<circle cx="561.8" cy="421.4" r="1.6" fill="none" stroke="#1a1a1a" stroke-width="1.2"/>
<circle cx="563.0" cy="420.6" r="1.6" fill="none" stroke="#1a1a1a" stroke-width="1.2"/>
<circle cx="564.8" cy="420.6" r="1.6" fill="none" stroke="#1a1a1a" stroke-width="1.2"/>
<circle cx="565.3" cy="421.9" r="1.6" fill="none" stroke="#1a1a1a" stroke-width="1.2"/>
<circle cx="565.2" cy="421.5" r="1.6" fill="none" stroke="#1a1a1a" stroke-width="1.2"/>
<circle cx="566.6" cy="422.3" r="1.6" fill="none" stroke="#1a1a1a" stroke-width="1.2"/>
<circle cx="565.5" cy="423.4" r="1.6" fill="none" stroke="#1a1a1a" stroke-width="1.2"/>
<circle cx="567.5" cy="422.3" r="1.6" fill="none" stroke="#1a1a1a" stroke-width="1.2"/>
<circle cx="566.7" cy="415.2" r="1.6" fill="none" stroke="#1a1a1a" stroke-width="1.2"/>
<circle cx="564.9" cy="417.7" r="1.6" fill="none" stroke="#1a1a1a" stroke-width="1.2"/>
<circle cx="564.0" cy="419.2" r="1.6" fill="none" stroke="#1a1a1a" stroke-width="1.2"/>
<circle cx="566.9" cy="421.3" r="1.6" fill="none" stroke="#1a1a1a" stroke-width="1.2"/>
<circle cx="564.2" cy="417.1" r="1.6" fill="none" stroke="#1a1a1a" stroke-width="1.2"/>
<circle cx="566.0" cy="417.4" r="1.6" fill="none" stroke="#1a1a1a" stroke-width="1.2"/>
<circle cx="565.3" cy="409.1" r="1.6" fill="none" stroke="#1a1a1a" stroke-width="1.2"/>
<circle cx="568.1" cy="421.7" r="1.6" fill="none" stroke="#1a1a1a" stroke-width="1.2"/>
<circle cx="563.9" cy="421.8" r="1.6" fill="none" stroke="#1a1a1a" stroke-width="1.2"/>
<circle cx="566.3" cy="409.1" r="1.6" fill="none" stroke="#1a1a1a" stroke-width="1.2"/>
<circle cx="566.5" cy="413.2" r="1.6" fill="none" stroke="#1a1a1a" stroke-width="1.2"/>
<circle cx="565.1" cy="410.5" r="1.6" fill="none" stroke="#1a1a1a" stroke-width="1.2"/>
<circle cx="567.6" cy="418.1" r="1.6" fill="none" stroke="#1a1a1a" stroke-width="1.2"/>
<circle cx="564.3" cy="417.0" r="1.6" fill="none" stroke="#1a1a1a" stroke-width="1.2"/>
<circle cx="565.3" cy="422.8" r="1.6" fill="none" stroke="#1a1a1a" stroke-width="1.2"/>
<circle cx="564.2" cy="418.6" r="1.6" fill="none" stroke="#1a1a1a" stroke-width="1.2"/>
<circle cx="567.4" cy="421.4" r="1.6" fill="none" stroke="#1a1a1a" stroke-width="1.2"/>
<circle cx="564.5" cy="421.1" r="1.6" fill="none" stroke="#1a1a1a" stroke-width="1.2"/>
<circle cx="564.0" cy="411.1" r="1.6" fill="none" stroke="#1a1a1a" stroke-width="1.2"/>
<circle cx="566.4" cy="421.6" r="1.6" fill="none" stroke="#1a1a1a" stroke-width="1.2"/>
<circle cx="565.3" cy="411.5" r="1.6" fill="none" stroke="#1a1a1a" stroke-width="1.2"/>
<circle cx="562.0" cy="422.5" r="1.6" fill="none" stroke="#1a1a1a" stroke-width="1.2"/>
<circle cx="563.8" cy="422.6" r="1.6" fill="none" stroke="#1a1a1a" stroke-width="1.2"/>
<circle cx="565.2" cy="423.3" r="1.6" fill="none" stroke="#1a1a1a" stroke-width="1.2"/>
<circle cx="563.9" cy="422.2" r="1.6" fill="none" stroke="#1a1a1a" stroke-width="1.2"/>
<circle cx="563.9" cy="422.7" r="1.6" fill="none" stroke="#1a1a1a" stroke-width="1.2"/>
<circle cx="564.8" cy="422.7" r="1.6" fill="none" stroke="#1a1a1a" stroke-width="1.2"/>
<circle cx="558.6" cy="422.6" r="1.6" fill="none" stroke="#1a1a1a" stroke-width="1.2"/>
<circle cx="564.4" cy="421.2" r="1.6" fill="none" stroke="#1a1a1a" stroke-width="1.2"/>
<circle cx="561.9" cy="423.1" r="1.6" fill="none" stroke="#1a1a1a" stroke-width="1.2"/>
<circle cx="566.6" cy="423.0" r="1.6" fill="none" stroke="#1a1a1a" stroke-width="1.2"/>
<circle cx="565.3" cy="423.7" r="1.6" fill="none" stroke="#1a1a1a" stroke-width="1.2"/>
<circle cx="561.2" cy="420.8" r="1.6" fill="none" stroke="#1a1a1a" stroke-width="1.2"/>
<circle cx="568.3" cy="422.9" r="1.6" fill="none" stroke="#1a1a1a" stroke-width="1.2"/>
<circle cx="559.4" cy="421.3" r="1.6" fill="none" stroke="#1a1a1a" stroke-width="1.2"/>
<circle cx="559.5" cy="422.6" r="1.6" fill="none" stroke="#1a1a1a" stroke-width="1.2"/>
<circle cx="562.8" cy="420.7" r="1.6" fill="none" stroke="#1a1a1a" stroke-width="1.2"/>
<circle cx="565.0" cy="421.6" r="1.6" fill="none" stroke="#1a1a1a" stroke-width="1.2"/>
<circle cx="568.1" cy="422.5" r="1.6" fill="none" stroke="#1a1a1a" stroke-width="1.2"/>
<circle cx="557.2" cy="421.9" r="1.6" fill="none" stroke="#1a1a1a" stroke-width="1.2"/>
<circle cx="564.4" cy="423.7" r="1.6" fill="none" stroke="#1a1a1a" stroke-width="1.2"/>
<circle cx="560.7" cy="420.9" r="1.6" fill="none" stroke="#1a1a1a" stroke-width="1.2"/>
<circle cx="567.4" cy="422.3" r="1.6" fill="none" stroke="#1a1a1a" stroke-width="1.2"/>
<circle cx="486.5" cy="373.2" r="1.6" fill="none" stroke="#1a1a1a" stroke-width="1.2"/>
<circle cx="518.5" cy="379.5" r="1.6" fill="none" stroke="#1a1a1a" stroke-width="1.2"/>
<line x1="439.00" y1="366.10" x2="568.20" y2="407.30" stroke="#1a1a1a" stroke-width="1.15"/>
<path d="M687.4 366.6L691.2 370.4M691.2 366.6L687.4 370.4" stroke="#1a1a1a" stroke-width="1.1"/>
<path d="M703.1 399.2L706.9 403.0M706.9 399.2L703.1 403.0" stroke="#1a1a1a" stroke-width="1.1"/>
<path d="M729.7 387.8L733.5 391.6M733.5 387.8L729.7 391.6" stroke="#1a1a1a" stroke-width="1.1"/>
<path d="M736.0 404.6L739.8 408.4M739.8 404.6L736.0 408.4" stroke="#1a1a1a" stroke-width="1.1"/>
<path d="M738.3 406.9L742.1 410.7M742.1 406.9L738.3 410.7" stroke="#1a1a1a" stroke-width="1.1"/>
<path d="M725.2 410.3L729.0 414.1M729.0 410.3L725.2 414.1" stroke="#1a1a1a" stroke-width="1.1"/>
<path d="M724.6 414.3L728.4 418.1M728.4 414.3L724.6 418.1" stroke="#1a1a1a" stroke-width="1.1"/>
<path d="M725.8 420.0L729.6 423.8M729.6 420.0L725.8 423.8" stroke="#1a1a1a" stroke-width="1.1"/>
<path d="M730.9 412.6L734.7 416.4M734.7 412.6L730.9 416.4" stroke="#1a1a1a" stroke-width="1.1"/>
<path d="M739.4 412.6L743.2 416.4M743.2 412.6L739.4 416.4" stroke="#1a1a1a" stroke-width="1.1"/>
<path d="M733.7 416.1L737.5 419.9M737.5 416.1L733.7 419.9" stroke="#1a1a1a" stroke-width="1.1"/>
<path d="M731.4 418.3L735.2 422.1M735.2 418.3L731.4 422.1" stroke="#1a1a1a" stroke-width="1.1"/>
<path d="M736.1 419.1L739.9 422.9M739.9 419.1L736.1 422.9" stroke="#1a1a1a" stroke-width="1.1"/>
<path d="M744.6 418.0L748.4 421.8M748.4 418.0L744.6 421.8" stroke="#1a1a1a" stroke-width="1.1"/>
<path d="M742.5 420.5L746.3 424.3M746.3 420.5L742.5 424.3" stroke="#1a1a1a" stroke-width="1.1"/>
<path d="M738.0 418.2L741.8 422.0M741.8 418.2L738.0 422.0" stroke="#1a1a1a" stroke-width="1.1"/>
<path d="M739.3 420.6L743.1 424.4M743.1 420.6L739.3 424.4" stroke="#1a1a1a" stroke-width="1.1"/>
<path d="M735.7 421.0L739.5 424.8M739.5 421.0L735.7 424.8" stroke="#1a1a1a" stroke-width="1.1"/>
<path d="M740.7 419.5L744.5 423.3M744.5 419.5L740.7 423.3" stroke="#1a1a1a" stroke-width="1.1"/>
<path d="M740.0 420.3L743.8 424.1M743.8 420.3L740.0 424.1" stroke="#1a1a1a" stroke-width="1.1"/>
<path d="M741.4 418.1L745.2 421.9M745.2 418.1L741.4 421.9" stroke="#1a1a1a" stroke-width="1.1"/>
<path d="M741.8 418.6L745.6 422.4M745.6 418.6L741.8 422.4" stroke="#1a1a1a" stroke-width="1.1"/>
<path d="M746.3 420.5L750.1 424.3M750.1 420.5L746.3 424.3" stroke="#1a1a1a" stroke-width="1.1"/>
<path d="M750.0 419.1L753.8 422.9M753.8 419.1L750.0 422.9" stroke="#1a1a1a" stroke-width="1.1"/>
<path d="M740.9 419.2L744.7 423.0M744.7 419.2L740.9 423.0" stroke="#1a1a1a" stroke-width="1.1"/>
<path d="M741.4 420.5L745.2 424.3M745.2 420.5L741.4 424.3" stroke="#1a1a1a" stroke-width="1.1"/>
<path d="M734.2 419.4L738.0 423.2M738.0 419.4L734.2 423.2" stroke="#1a1a1a" stroke-width="1.1"/>
<path d="M743.7 418.8L747.5 422.6M747.5 418.8L743.7 422.6" stroke="#1a1a1a" stroke-width="1.1"/>
<path d="M734.3 419.9L738.1 423.7M738.1 419.9L734.3 423.7" stroke="#1a1a1a" stroke-width="1.1"/>
<path d="M736.8 420.6L740.6 424.4M740.6 420.6L736.8 424.4" stroke="#1a1a1a" stroke-width="1.1"/>
<path d="M747.2 418.9L751.0 422.7M751.0 418.9L747.2 422.7" stroke="#1a1a1a" stroke-width="1.1"/>
<path d="M745.8 419.5L749.6 423.3M749.6 419.5L745.8 423.3" stroke="#1a1a1a" stroke-width="1.1"/>
<path d="M743.1 421.6L746.9 425.4M746.9 421.6L743.1 425.4" stroke="#1a1a1a" stroke-width="1.1"/>
<path d="M739.7 421.5L743.5 425.3M743.5 421.5L739.7 425.3" stroke="#1a1a1a" stroke-width="1.1"/>
<path d="M746.5 420.6L750.3 424.4M750.3 420.6L746.5 424.4" stroke="#1a1a1a" stroke-width="1.1"/>
<path d="M734.7 418.8L738.5 422.6M738.5 418.8L734.7 422.6" stroke="#1a1a1a" stroke-width="1.1"/>
<path d="M746.8 421.0L750.6 424.8M750.6 421.0L746.8 424.8" stroke="#1a1a1a" stroke-width="1.1"/>
<path d="M748.7 421.1L752.5 424.9M752.5 421.1L748.7 424.9" stroke="#1a1a1a" stroke-width="1.1"/>
<path d="M736.6 417.9L740.4 421.7M740.4 417.9L736.6 421.7" stroke="#1a1a1a" stroke-width="1.1"/>
<path d="M748.4 420.8L752.2 424.6M752.2 420.8L748.4 424.6" stroke="#1a1a1a" stroke-width="1.1"/>
<path d="M750.2 419.3L754.0 423.1M754.0 419.3L750.2 423.1" stroke="#1a1a1a" stroke-width="1.1"/>
<path d="M740.2 417.4L744.0 421.2M744.0 417.4L740.2 421.2" stroke="#1a1a1a" stroke-width="1.1"/>
<path d="M744.0 420.6L747.8 424.4M747.8 420.6L744.0 424.4" stroke="#1a1a1a" stroke-width="1.1"/>
<path d="M740.4 417.3L744.2 421.1M744.2 417.3L740.4 421.1" stroke="#1a1a1a" stroke-width="1.1"/>
<path d="M739.1 421.3L742.9 425.1M742.9 421.3L739.1 425.1" stroke="#1a1a1a" stroke-width="1.1"/>
<path d="M738.6 418.1L742.4 421.9M742.4 418.1L738.6 421.9" stroke="#1a1a1a" stroke-width="1.1"/>
<path d="M750.3 418.7L754.1 422.5M754.1 418.7L750.3 422.5" stroke="#1a1a1a" stroke-width="1.1"/>
<path d="M735.8 420.4L739.6 424.2M739.6 420.4L735.8 424.2" stroke="#1a1a1a" stroke-width="1.1"/>
<path d="M745.5 421.5L749.3 425.3M749.3 421.5L745.5 425.3" stroke="#1a1a1a" stroke-width="1.1"/>
<path d="M742.4 420.0L746.2 423.8M746.2 420.0L742.4 423.8" stroke="#1a1a1a" stroke-width="1.1"/>
<path d="M748.6 418.2L752.4 422.0M752.4 418.2L748.6 422.0" stroke="#1a1a1a" stroke-width="1.1"/>
<path d="M739.0 420.4L742.8 424.2M742.8 420.4L739.0 424.2" stroke="#1a1a1a" stroke-width="1.1"/>
<path d="M744.0 419.8L747.8 423.6M747.8 419.8L744.0 423.6" stroke="#1a1a1a" stroke-width="1.1"/>
<path d="M731.1 414.1L734.9 417.9M734.9 414.1L731.1 417.9" stroke="#1a1a1a" stroke-width="1.1"/>
<path d="M734.1 416.6L737.9 420.4M737.9 416.6L734.1 420.4" stroke="#1a1a1a" stroke-width="1.1"/>
<path d="M737.1 414.6L740.9 418.4M740.9 414.6L737.1 418.4" stroke="#1a1a1a" stroke-width="1.1"/>
<path d="M740.1 416.6L743.9 420.4M743.9 416.6L740.1 420.4" stroke="#1a1a1a" stroke-width="1.1"/>
<path d="M743.1 416.1L746.9 419.9M746.9 416.1L743.1 419.9" stroke="#1a1a1a" stroke-width="1.1"/>
<path d="M746.1 417.6L749.9 421.4M749.9 417.6L746.1 421.4" stroke="#1a1a1a" stroke-width="1.1"/>
<path d="M749.1 418.6L752.9 422.4M752.9 418.6L749.1 422.4" stroke="#1a1a1a" stroke-width="1.1"/>
<path d="M728.6 417.1L732.4 420.9M732.4 417.1L728.6 420.9" stroke="#1a1a1a" stroke-width="1.1"/>
<path d="M735.6 412.1L739.4 415.9M739.4 412.1L735.6 415.9" stroke="#1a1a1a" stroke-width="1.1"/>
<text x="70.60" y="22.80" font-size="8.7" text-anchor="start" fill="#111">R</text>
<text x="75.70" y="18.60" font-size="7.3" textLength="3.4" lengthAdjust="spacingAndGlyphs" text-anchor="start" fill="#111">2</text>
<text x="79.80" y="22.80" font-size="8.7" textLength="25.299999999999997" lengthAdjust="spacingAndGlyphs" text-anchor="start" fill="#111">=0.1627</text>
<text x="70.90" y="32.00" font-size="7.9" textLength="24.5" lengthAdjust="spacingAndGlyphs" text-anchor="start" fill="#111">p&lt;0.001</text>
<text x="143.50" y="183.80" font-size="9.8" text-anchor="start" fill="#111">R</text>
<text x="149.80" y="179.90" font-size="8.0" textLength="3.8" lengthAdjust="spacingAndGlyphs" text-anchor="start" fill="#111">2</text>
<text x="154.10" y="183.80" font-size="9.8" textLength="16.5" lengthAdjust="spacingAndGlyphs" text-anchor="start" fill="#111">=0.2</text>
<text x="143.80" y="194.90" font-size="9.8" textLength="29.19999999999999" lengthAdjust="spacingAndGlyphs" text-anchor="start" fill="#111">p&lt;0.001</text>
<text x="131.10" y="340.20" font-size="8.7" text-anchor="start" fill="#111">R</text>
<text x="137.20" y="335.20" font-size="7.5" textLength="4.2" lengthAdjust="spacingAndGlyphs" text-anchor="start" fill="#111">2</text>
<text x="141.80" y="340.20" font-size="8.7" textLength="30.599999999999994" lengthAdjust="spacingAndGlyphs" text-anchor="start" fill="#111">=0.0288</text>
<text x="131.40" y="351.30" font-size="8.7" textLength="24.400000000000006" lengthAdjust="spacingAndGlyphs" text-anchor="start" fill="#111">p&lt;0.01</text>
<text x="133.20" y="499.30" font-size="9.6" text-anchor="start" fill="#111">R</text>
<text x="139.90" y="495.20" font-size="8.3" textLength="3.5" lengthAdjust="spacingAndGlyphs" text-anchor="start" fill="#111">2</text>
<text x="143.90" y="499.30" font-size="9.6" textLength="30.0" lengthAdjust="spacingAndGlyphs" text-anchor="start" fill="#111">=0.0158</text>
<text x="133.50" y="510.30" font-size="8.6" textLength="25.19999999999999" lengthAdjust="spacingAndGlyphs" text-anchor="start" fill="#111">p&lt;0.25</text>
<text x="527.00" y="29.80" font-size="9.8" text-anchor="start" fill="#111">R</text>
<text x="534.30" y="25.90" font-size="8.0" textLength="3.6" lengthAdjust="spacingAndGlyphs" text-anchor="start" fill="#111">2</text>
<text x="538.60" y="29.80" font-size="9.8" textLength="31.5" lengthAdjust="spacingAndGlyphs" text-anchor="start" fill="#111">=0.0969</text>
<text x="527.30" y="40.40" font-size="9.0" textLength="31.200000000000045" lengthAdjust="spacingAndGlyphs" text-anchor="start" fill="#111">p&lt;0.025</text>
<text x="525.10" y="186.50" font-size="9.2" text-anchor="start" fill="#111">R</text>
<text x="532.30" y="181.90" font-size="8.0" textLength="3.6" lengthAdjust="spacingAndGlyphs" text-anchor="start" fill="#111">2</text>
<text x="536.50" y="186.50" font-size="9.2" textLength="31.700000000000045" lengthAdjust="spacingAndGlyphs" text-anchor="start" fill="#111">=0.0328</text>
<text x="525.40" y="196.80" font-size="9.0" textLength="25.600000000000023" lengthAdjust="spacingAndGlyphs" text-anchor="start" fill="#111">p&lt;0.01</text>
<text x="528.80" y="342.20" font-size="8.9" text-anchor="start" fill="#111">R</text>
<text x="535.40" y="337.90" font-size="7.8" textLength="3.8" lengthAdjust="spacingAndGlyphs" text-anchor="start" fill="#111">2</text>
<text x="540.00" y="342.20" font-size="8.9" textLength="31.399999999999977" lengthAdjust="spacingAndGlyphs" text-anchor="start" fill="#111">=0.3643</text>
<text x="529.10" y="352.80" font-size="8.9" textLength="30.299999999999955" lengthAdjust="spacingAndGlyphs" text-anchor="start" fill="#111">p&lt;0.001</text>
</svg></body></html>
